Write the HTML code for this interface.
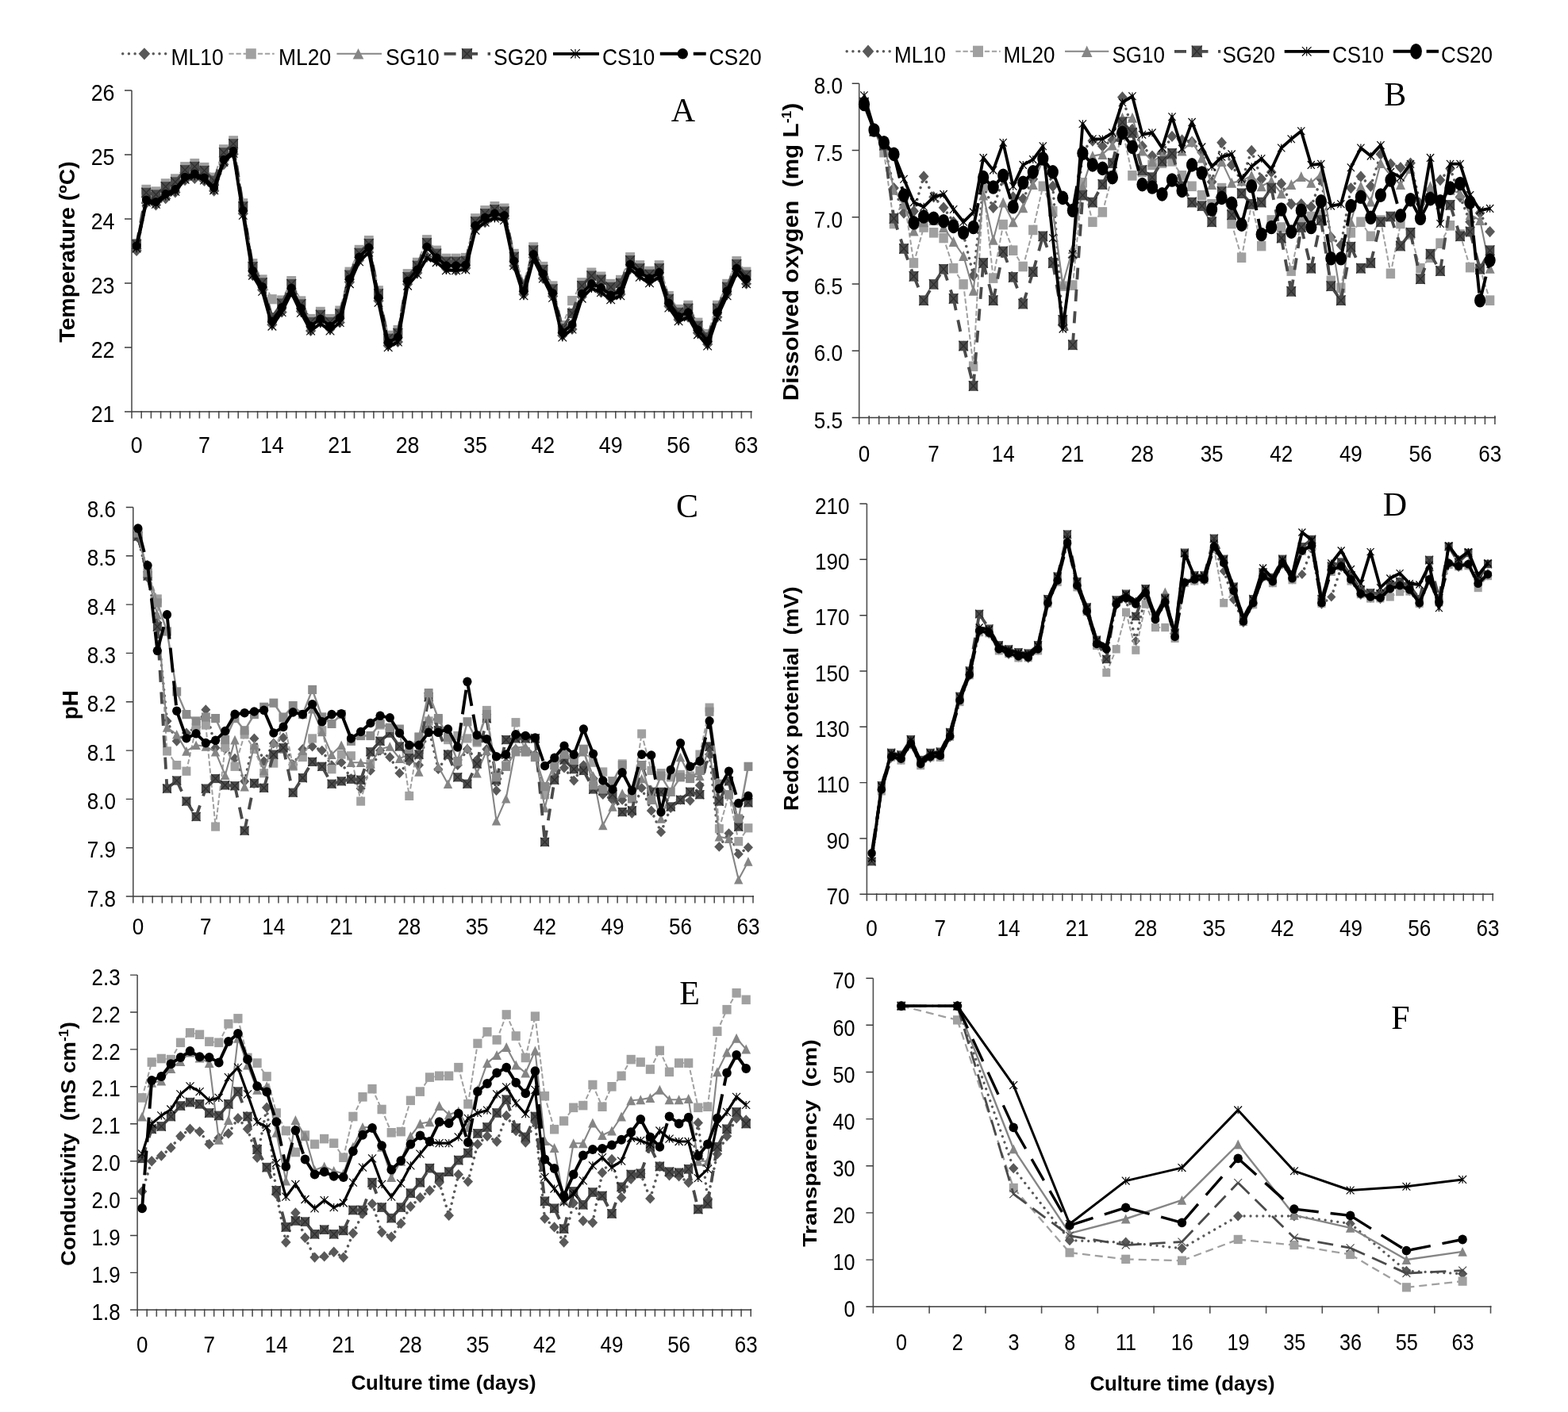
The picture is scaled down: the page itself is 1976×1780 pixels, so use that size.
<!DOCTYPE html>
<html lang="en"><head><meta charset="utf-8"><title>Water quality parameters during culture</title>
<style>
html,body{margin:0;padding:0;background:#fff;}
body{width:1976px;height:1780px;overflow:hidden;}
svg{display:block;font-family:"Liberation Sans",sans-serif;}
#fig{width:1976px;height:1780px;}
</style></head><body>
<div id="fig">
<svg width="1976" height="1780" viewBox="0 0 1976 1780">
<rect width="1976" height="1780" fill="#fff"/>
<g><path d="M154.7 67.8H210" stroke="#595959" stroke-width="3.5" stroke-dasharray="0.01 7.7" stroke-linecap="round"/><path d="M181.9 60.2L189.2 67.8L181.9 75.4L174.6 67.8Z" fill="#595959"/><text transform="translate(215.5 82) scale(0.9 1)" font-size="29.4" text-anchor="start">ML10</text><path d="M288.4 67.8H345.7" stroke="#a0a0a0" stroke-width="2.0" stroke-dasharray="6.3 2.8" stroke-linecap="butt"/><rect x="309.8" y="61.2" width="13" height="13.2" fill="#a0a0a0"/><text transform="translate(351 82) scale(0.9 1)" font-size="29.4" text-anchor="start">ML20</text><path d="M424.4 67.8H481" stroke="#858585" stroke-width="2.1" stroke-linecap="butt"/><path d="M451.5 61L458.3 74.6L444.7 74.6Z" fill="#858585"/><text transform="translate(486 82) scale(0.9 1)" font-size="29.4" text-anchor="start">SG10</text><path d="M559.6 67.8H618" stroke="#4a4a4a" stroke-width="3.8" stroke-dasharray="15 12.5" stroke-linecap="butt"/><rect x="582" y="61.2" width="13" height="13.2" fill="#4a4a4a"/><path d="M582 61.2L595 74.4M595 61.2L582 74.4" stroke="#2e2e2e" stroke-width="1.3" fill="none"/><text transform="translate(622 82) scale(0.9 1)" font-size="29.4" text-anchor="start">SG20</text><path d="M697 67.8H755" stroke="#000000" stroke-width="3.8" stroke-linecap="butt"/><path d="M719.2 62.1L730.8 73.5M730.8 62.1L719.2 73.5M725 62.1L725 73.5" stroke="#000000" stroke-width="1.15" fill="none"/><text transform="translate(759 82) scale(0.9 1)" font-size="29.4" text-anchor="start">CS10</text><path d="M831.8 67.8H889.7" stroke="#000000" stroke-width="3.9" stroke-dasharray="31 11" stroke-linecap="butt"/><ellipse cx="860.3" cy="67.8" rx="6.7" ry="6.8" fill="#000000"/><text transform="translate(893.5 82) scale(0.9 1)" font-size="29.4" text-anchor="start">CS20</text></g>
<g><path d="M1067.2 64.8H1122.4" stroke="#595959" stroke-width="3.5" stroke-dasharray="0.01 7.7" stroke-linecap="round"/><path d="M1094 56.6L1101.3 64.8L1094 73L1086.7 64.8Z" fill="#595959"/><text transform="translate(1127 79) scale(0.872 1)" font-size="29.8" text-anchor="start">ML10</text><path d="M1204.4 64.8H1260.7" stroke="#a0a0a0" stroke-width="2.0" stroke-dasharray="6.3 2.8" stroke-linecap="butt"/><rect x="1226" y="57.7" width="13" height="14.2" fill="#a0a0a0"/><text transform="translate(1264.5 79) scale(0.872 1)" font-size="29.8" text-anchor="start">ML20</text><path d="M1342 64.8H1397.3" stroke="#858585" stroke-width="2.1" stroke-linecap="butt"/><path d="M1369.7 57.5L1376.5 72.1L1362.9 72.1Z" fill="#858585"/><text transform="translate(1401.5 79) scale(0.872 1)" font-size="29.8" text-anchor="start">SG10</text><path d="M1480 64.8H1538.2" stroke="#4a4a4a" stroke-width="3.8" stroke-dasharray="15 12.5" stroke-linecap="butt"/><rect x="1501.8" y="57.6" width="13" height="14.5" fill="#4a4a4a"/><path d="M1501.8 57.6L1514.8 72M1514.8 57.6L1501.8 72" stroke="#2e2e2e" stroke-width="1.3" fill="none"/><text transform="translate(1540.5 79) scale(0.872 1)" font-size="29.8" text-anchor="start">SG20</text><path d="M1618.7 64.8H1675.2" stroke="#000000" stroke-width="3.8" stroke-linecap="butt"/><path d="M1640.9 59.1L1652.5 70.5M1652.5 59.1L1640.9 70.5M1646.7 59.1L1646.7 70.5" stroke="#000000" stroke-width="1.15" fill="none"/><text transform="translate(1679 79) scale(0.872 1)" font-size="29.8" text-anchor="start">CS10</text><path d="M1755.6 64.8H1813" stroke="#000000" stroke-width="3.9" stroke-dasharray="31 11" stroke-linecap="butt"/><ellipse cx="1784.5" cy="64.8" rx="7.4" ry="9.9" fill="#000000"/><text transform="translate(1816 79) scale(0.872 1)" font-size="29.8" text-anchor="start">CS20</text></g>
<g id="chartA"><path d="M166 114V519M166 518V527.5M178.2 518V527.5M190.4 518V527.5M202.6 518V527.5M214.8 518V527.5M227 518V527.5M239.2 518V527.5M251.4 518V527.5M263.6 518V527.5M275.8 518V527.5M288 518V527.5M300.2 518V527.5M312.4 518V527.5M324.6 518V527.5M336.8 518V527.5M349 518V527.5M361.1 518V527.5M373.3 518V527.5M385.5 518V527.5M397.7 518V527.5M409.9 518V527.5M422.1 518V527.5M434.3 518V527.5M446.5 518V527.5M458.7 518V527.5M470.9 518V527.5M483.1 518V527.5M495.3 518V527.5M507.5 518V527.5M519.7 518V527.5M531.9 518V527.5M544.1 518V527.5M556.3 518V527.5M568.5 518V527.5M580.7 518V527.5M592.9 518V527.5M605.1 518V527.5M617.3 518V527.5M629.5 518V527.5M641.7 518V527.5M653.9 518V527.5M666.1 518V527.5M678.3 518V527.5M690.5 518V527.5M702.7 518V527.5M714.9 518V527.5M727.1 518V527.5M739.3 518V527.5M751.5 518V527.5M763.6 518V527.5M775.8 518V527.5M788 518V527.5M800.2 518V527.5M812.4 518V527.5M824.6 518V527.5M836.8 518V527.5M849 518V527.5M861.2 518V527.5M873.4 518V527.5M885.6 518V527.5M897.8 518V527.5M910 518V527.5M922.2 518V527.5M934.4 518V527.5M946.6 518V527.5" stroke="#505050" stroke-width="1.6" fill="none"/><path d="M165 519H947.6M157 114H166M157 195H166M157 276H166M157 357H166M157 438H166M157 519H166" stroke="#3c3c3c" stroke-width="1.4" fill="none"/><g fill="#000"><text transform="translate(144.5 126.6) scale(0.893 1)" font-size="30" text-anchor="end">26</text><text transform="translate(144.5 207.6) scale(0.893 1)" font-size="30" text-anchor="end">25</text><text transform="translate(144.5 288.6) scale(0.893 1)" font-size="30" text-anchor="end">24</text><text transform="translate(144.5 369.6) scale(0.893 1)" font-size="30" text-anchor="end">23</text><text transform="translate(144.5 450.6) scale(0.893 1)" font-size="30" text-anchor="end">22</text><text transform="translate(144.5 531.6) scale(0.893 1)" font-size="30" text-anchor="end">21</text><text transform="translate(172.1 571) scale(0.893 1)" font-size="30" text-anchor="middle">0</text><text transform="translate(257.48 571) scale(0.893 1)" font-size="30" text-anchor="middle">7</text><text transform="translate(342.85 571) scale(0.893 1)" font-size="30" text-anchor="middle">14</text><text transform="translate(428.23 571) scale(0.893 1)" font-size="30" text-anchor="middle">21</text><text transform="translate(513.61 571) scale(0.893 1)" font-size="30" text-anchor="middle">28</text><text transform="translate(598.99 571) scale(0.893 1)" font-size="30" text-anchor="middle">35</text><text transform="translate(684.37 571) scale(0.893 1)" font-size="30" text-anchor="middle">42</text><text transform="translate(769.75 571) scale(0.893 1)" font-size="30" text-anchor="middle">49</text><text transform="translate(855.12 571) scale(0.893 1)" font-size="30" text-anchor="middle">56</text><text transform="translate(940.5 571) scale(0.893 1)" font-size="30" text-anchor="middle">63</text></g><text transform="translate(93.7 317.5) rotate(-90) scale(1.057 1)" font-size="27" text-anchor="middle" font-weight="bold" xml:space="preserve">Temperature (ºC)</text><text transform="translate(861 153.2)" font-size="42" text-anchor="middle" font-family="'Liberation Serif', serif">A</text><g><path d="M172.1 316L184.3 255.9M184.3 255.9L196.5 258.4M196.5 258.4L208.7 250.3M208.7 250.3L220.9 242.4M220.9 242.4L233.1 227.2M233.1 227.2L245.3 225M245.3 225L257.5 228M257.5 228L269.7 240.7M269.7 240.7L281.9 207.3M281.9 207.3L294.1 194.3M294.1 194.3L306.3 269.3M306.3 269.3L318.5 347.2M318.5 347.2L330.7 365.4M330.7 365.4L342.9 409.2M342.9 409.2L355.1 393.5M355.1 393.5L367.2 367.1M367.2 367.1L379.4 392.4M379.4 392.4L391.6 417M391.6 417L403.8 405.9M403.8 405.9L416 415M416 415L428.2 406.6M428.2 406.6L440.4 355.7M440.4 355.7L452.6 327.9M452.6 327.9L464.8 318.1M464.8 318.1L477 379.3M477 379.3L489.2 435.8M489.2 435.8L501.4 431M501.4 431L513.6 358.2M513.6 358.2L525.8 343.9M525.8 343.9L538 323.2M538 323.2L550.2 328.7M550.2 328.7L562.4 338.8M562.4 338.8L574.6 340.8M574.6 340.8L586.8 338M586.8 338L599 288.3M599 288.3L611.2 280.2M611.2 280.2L623.4 273.1M623.4 273.1L635.6 275.6M635.6 275.6L647.8 334.9M647.8 334.9L660 370.9M660 370.9L672.2 324.5M672.2 324.5L684.4 351M684.4 351L696.6 373.4M696.6 373.4L708.8 423.1M708.8 423.1L721 415M721 415L733.2 374.2M733.2 374.2L745.4 361.6M745.4 361.6L757.5 368.6M757.5 368.6L769.7 375.9M769.7 375.9L781.9 370.9M781.9 370.9L794.1 339.2M794.1 339.2L806.3 347.3M806.3 347.3L818.5 354.8M818.5 354.8L830.7 349.3M830.7 349.3L842.9 386M842.9 386L855.1 402.9M855.1 402.9L867.3 399.8M867.3 399.8L879.5 419.7M879.5 419.7L891.7 434.1M891.7 434.1L903.9 399.8M903.9 399.8L916.1 370.9M916.1 370.9L928.3 342.2M928.3 342.2L940.5 357.7" fill="none" stroke="#595959" stroke-width="3.5" stroke-dasharray="0.01 7.7" stroke-linejoin="round" stroke-linecap="round"/><path d="M172.1 309L178.7 316L172.1 323L165.5 316Z" fill="#595959"/><path d="M184.3 248.9L190.9 255.9L184.3 262.9L177.7 255.9Z" fill="#595959"/><path d="M196.5 251.4L203.1 258.4L196.5 265.4L189.9 258.4Z" fill="#595959"/><path d="M208.7 243.3L215.3 250.3L208.7 257.3L202.1 250.3Z" fill="#595959"/><path d="M220.9 235.4L227.5 242.4L220.9 249.4L214.3 242.4Z" fill="#595959"/><path d="M233.1 220.2L239.7 227.2L233.1 234.2L226.5 227.2Z" fill="#595959"/><path d="M245.3 218L251.9 225L245.3 232L238.7 225Z" fill="#595959"/><path d="M257.5 221L264.1 228L257.5 235L250.9 228Z" fill="#595959"/><path d="M269.7 233.7L276.3 240.7L269.7 247.7L263.1 240.7Z" fill="#595959"/><path d="M281.9 200.3L288.5 207.3L281.9 214.3L275.3 207.3Z" fill="#595959"/><path d="M294.1 187.3L300.7 194.3L294.1 201.3L287.5 194.3Z" fill="#595959"/><path d="M306.3 262.3L312.9 269.3L306.3 276.3L299.7 269.3Z" fill="#595959"/><path d="M318.5 340.2L325.1 347.2L318.5 354.2L311.9 347.2Z" fill="#595959"/><path d="M330.7 358.4L337.3 365.4L330.7 372.4L324.1 365.4Z" fill="#595959"/><path d="M342.9 402.2L349.5 409.2L342.9 416.2L336.3 409.2Z" fill="#595959"/><path d="M355.1 386.5L361.7 393.5L355.1 400.5L348.5 393.5Z" fill="#595959"/><path d="M367.2 360.1L373.8 367.1L367.2 374.1L360.6 367.1Z" fill="#595959"/><path d="M379.4 385.4L386 392.4L379.4 399.4L372.8 392.4Z" fill="#595959"/><path d="M391.6 410L398.2 417L391.6 424L385 417Z" fill="#595959"/><path d="M403.8 398.9L410.4 405.9L403.8 412.9L397.2 405.9Z" fill="#595959"/><path d="M416 408L422.6 415L416 422L409.4 415Z" fill="#595959"/><path d="M428.2 399.6L434.8 406.6L428.2 413.6L421.6 406.6Z" fill="#595959"/><path d="M440.4 348.7L447 355.7L440.4 362.7L433.8 355.7Z" fill="#595959"/><path d="M452.6 320.9L459.2 327.9L452.6 334.9L446 327.9Z" fill="#595959"/><path d="M464.8 311.1L471.4 318.1L464.8 325.1L458.2 318.1Z" fill="#595959"/><path d="M477 372.3L483.6 379.3L477 386.3L470.4 379.3Z" fill="#595959"/><path d="M489.2 428.8L495.8 435.8L489.2 442.8L482.6 435.8Z" fill="#595959"/><path d="M501.4 424L508 431L501.4 438L494.8 431Z" fill="#595959"/><path d="M513.6 351.2L520.2 358.2L513.6 365.2L507 358.2Z" fill="#595959"/><path d="M525.8 336.9L532.4 343.9L525.8 350.9L519.2 343.9Z" fill="#595959"/><path d="M538 316.2L544.6 323.2L538 330.2L531.4 323.2Z" fill="#595959"/><path d="M550.2 321.7L556.8 328.7L550.2 335.7L543.6 328.7Z" fill="#595959"/><path d="M562.4 331.8L569 338.8L562.4 345.8L555.8 338.8Z" fill="#595959"/><path d="M574.6 333.8L581.2 340.8L574.6 347.8L568 340.8Z" fill="#595959"/><path d="M586.8 331L593.4 338L586.8 345L580.2 338Z" fill="#595959"/><path d="M599 281.3L605.6 288.3L599 295.3L592.4 288.3Z" fill="#595959"/><path d="M611.2 273.2L617.8 280.2L611.2 287.2L604.6 280.2Z" fill="#595959"/><path d="M623.4 266.1L630 273.1L623.4 280.1L616.8 273.1Z" fill="#595959"/><path d="M635.6 268.6L642.2 275.6L635.6 282.6L629 275.6Z" fill="#595959"/><path d="M647.8 327.9L654.4 334.9L647.8 341.9L641.2 334.9Z" fill="#595959"/><path d="M660 363.9L666.6 370.9L660 377.9L653.4 370.9Z" fill="#595959"/><path d="M672.2 317.5L678.8 324.5L672.2 331.5L665.6 324.5Z" fill="#595959"/><path d="M684.4 344L691 351L684.4 358L677.8 351Z" fill="#595959"/><path d="M696.6 366.4L703.2 373.4L696.6 380.4L690 373.4Z" fill="#595959"/><path d="M708.8 416.1L715.4 423.1L708.8 430.1L702.2 423.1Z" fill="#595959"/><path d="M721 408L727.6 415L721 422L714.4 415Z" fill="#595959"/><path d="M733.2 367.2L739.8 374.2L733.2 381.2L726.6 374.2Z" fill="#595959"/><path d="M745.4 354.6L752 361.6L745.4 368.6L738.8 361.6Z" fill="#595959"/><path d="M757.5 361.6L764.1 368.6L757.5 375.6L750.9 368.6Z" fill="#595959"/><path d="M769.7 368.9L776.3 375.9L769.7 382.9L763.1 375.9Z" fill="#595959"/><path d="M781.9 363.9L788.5 370.9L781.9 377.9L775.3 370.9Z" fill="#595959"/><path d="M794.1 332.2L800.7 339.2L794.1 346.2L787.5 339.2Z" fill="#595959"/><path d="M806.3 340.3L812.9 347.3L806.3 354.3L799.7 347.3Z" fill="#595959"/><path d="M818.5 347.8L825.1 354.8L818.5 361.8L811.9 354.8Z" fill="#595959"/><path d="M830.7 342.3L837.3 349.3L830.7 356.3L824.1 349.3Z" fill="#595959"/><path d="M842.9 379L849.5 386L842.9 393L836.3 386Z" fill="#595959"/><path d="M855.1 395.9L861.7 402.9L855.1 409.9L848.5 402.9Z" fill="#595959"/><path d="M867.3 392.8L873.9 399.8L867.3 406.8L860.7 399.8Z" fill="#595959"/><path d="M879.5 412.7L886.1 419.7L879.5 426.7L872.9 419.7Z" fill="#595959"/><path d="M891.7 427.1L898.3 434.1L891.7 441.1L885.1 434.1Z" fill="#595959"/><path d="M903.9 392.8L910.5 399.8L903.9 406.8L897.3 399.8Z" fill="#595959"/><path d="M916.1 363.9L922.7 370.9L916.1 377.9L909.5 370.9Z" fill="#595959"/><path d="M928.3 335.2L934.9 342.2L928.3 349.2L921.7 342.2Z" fill="#595959"/><path d="M940.5 350.7L947.1 357.7L940.5 364.7L933.9 357.7Z" fill="#595959"/></g><g><path d="M172.1 307L184.3 238.9M184.3 238.9L196.5 241.4M196.5 241.4L208.7 231.3M208.7 231.3L220.9 225.4M220.9 225.4L233.1 210.2M233.1 210.2L245.3 206M245.3 206L257.5 211M257.5 211L269.7 223.7M269.7 223.7L281.9 188.3M281.9 188.3L294.1 177.3M294.1 177.3L306.3 256.3M306.3 256.3L318.5 332.2M318.5 332.2L330.7 352.4M330.7 352.4L342.9 377.2M342.9 377.2L355.1 378.5M355.1 378.5L367.2 354.1M367.2 354.1L379.4 379.4M379.4 379.4L391.6 402M391.6 402L403.8 392.9M403.8 392.9L416 402M416 402L428.2 391.6M428.2 391.6L440.4 342.7M440.4 342.7L452.6 314.9M452.6 314.9L464.8 303.1M464.8 303.1L477 366.3M477 366.3L489.2 422.8M489.2 422.8L501.4 416M501.4 416L513.6 345.2M513.6 345.2L525.8 330.9M525.8 330.9L538 302.2M538 302.2L550.2 315.7M550.2 315.7L562.4 325.8M562.4 325.8L574.6 325.8M574.6 325.8L586.8 325M586.8 325L599 275.3M599 275.3L611.2 265.2M611.2 265.2L623.4 260.1M623.4 260.1L635.6 262.6M635.6 262.6L647.8 319.9M647.8 319.9L660 357.9M660 357.9L672.2 311.5M672.2 311.5L684.4 336M684.4 336L696.6 360.4M696.6 360.4L708.8 410.1M708.8 410.1L721 379M721 379L733.2 356.2M733.2 356.2L745.4 343.6M745.4 343.6L757.5 348.6M757.5 348.6L769.7 357.9M769.7 357.9L781.9 352.9M781.9 352.9L794.1 324.2M794.1 324.2L806.3 334.3M806.3 334.3L818.5 341.8M818.5 341.8L830.7 334.3M830.7 334.3L842.9 373M842.9 373L855.1 389.9M855.1 389.9L867.3 384.8M867.3 384.8L879.5 406.7M879.5 406.7L891.7 421.1M891.7 421.1L903.9 384.8M903.9 384.8L916.1 357.9M916.1 357.9L928.3 329.2M928.3 329.2L940.5 342.7" fill="none" stroke="#a0a0a0" stroke-width="2" stroke-dasharray="6.3 2.8" stroke-linejoin="round" stroke-linecap="butt"/><rect x="166.2" y="300.9" width="11.8" height="12.2" fill="#a0a0a0"/><rect x="178.4" y="232.8" width="11.8" height="12.2" fill="#a0a0a0"/><rect x="190.6" y="235.3" width="11.8" height="12.2" fill="#a0a0a0"/><rect x="202.8" y="225.2" width="11.8" height="12.2" fill="#a0a0a0"/><rect x="215" y="219.3" width="11.8" height="12.2" fill="#a0a0a0"/><rect x="227.2" y="204.1" width="11.8" height="12.2" fill="#a0a0a0"/><rect x="239.4" y="199.9" width="11.8" height="12.2" fill="#a0a0a0"/><rect x="251.6" y="204.9" width="11.8" height="12.2" fill="#a0a0a0"/><rect x="263.8" y="217.6" width="11.8" height="12.2" fill="#a0a0a0"/><rect x="276" y="182.2" width="11.8" height="12.2" fill="#a0a0a0"/><rect x="288.2" y="171.2" width="11.8" height="12.2" fill="#a0a0a0"/><rect x="300.4" y="250.2" width="11.8" height="12.2" fill="#a0a0a0"/><rect x="312.6" y="326.1" width="11.8" height="12.2" fill="#a0a0a0"/><rect x="324.8" y="346.3" width="11.8" height="12.2" fill="#a0a0a0"/><rect x="337" y="371.1" width="11.8" height="12.2" fill="#a0a0a0"/><rect x="349.2" y="372.4" width="11.8" height="12.2" fill="#a0a0a0"/><rect x="361.3" y="348" width="11.8" height="12.2" fill="#a0a0a0"/><rect x="373.5" y="373.3" width="11.8" height="12.2" fill="#a0a0a0"/><rect x="385.7" y="395.9" width="11.8" height="12.2" fill="#a0a0a0"/><rect x="397.9" y="386.8" width="11.8" height="12.2" fill="#a0a0a0"/><rect x="410.1" y="395.9" width="11.8" height="12.2" fill="#a0a0a0"/><rect x="422.3" y="385.5" width="11.8" height="12.2" fill="#a0a0a0"/><rect x="434.5" y="336.6" width="11.8" height="12.2" fill="#a0a0a0"/><rect x="446.7" y="308.8" width="11.8" height="12.2" fill="#a0a0a0"/><rect x="458.9" y="297" width="11.8" height="12.2" fill="#a0a0a0"/><rect x="471.1" y="360.2" width="11.8" height="12.2" fill="#a0a0a0"/><rect x="483.3" y="416.7" width="11.8" height="12.2" fill="#a0a0a0"/><rect x="495.5" y="409.9" width="11.8" height="12.2" fill="#a0a0a0"/><rect x="507.7" y="339.1" width="11.8" height="12.2" fill="#a0a0a0"/><rect x="519.9" y="324.8" width="11.8" height="12.2" fill="#a0a0a0"/><rect x="532.1" y="296.1" width="11.8" height="12.2" fill="#a0a0a0"/><rect x="544.3" y="309.6" width="11.8" height="12.2" fill="#a0a0a0"/><rect x="556.5" y="319.7" width="11.8" height="12.2" fill="#a0a0a0"/><rect x="568.7" y="319.7" width="11.8" height="12.2" fill="#a0a0a0"/><rect x="580.9" y="318.9" width="11.8" height="12.2" fill="#a0a0a0"/><rect x="593.1" y="269.2" width="11.8" height="12.2" fill="#a0a0a0"/><rect x="605.3" y="259.1" width="11.8" height="12.2" fill="#a0a0a0"/><rect x="617.5" y="254" width="11.8" height="12.2" fill="#a0a0a0"/><rect x="629.7" y="256.5" width="11.8" height="12.2" fill="#a0a0a0"/><rect x="641.9" y="313.8" width="11.8" height="12.2" fill="#a0a0a0"/><rect x="654.1" y="351.8" width="11.8" height="12.2" fill="#a0a0a0"/><rect x="666.3" y="305.4" width="11.8" height="12.2" fill="#a0a0a0"/><rect x="678.5" y="329.9" width="11.8" height="12.2" fill="#a0a0a0"/><rect x="690.7" y="354.3" width="11.8" height="12.2" fill="#a0a0a0"/><rect x="702.9" y="404" width="11.8" height="12.2" fill="#a0a0a0"/><rect x="715.1" y="372.9" width="11.8" height="12.2" fill="#a0a0a0"/><rect x="727.3" y="350.1" width="11.8" height="12.2" fill="#a0a0a0"/><rect x="739.5" y="337.5" width="11.8" height="12.2" fill="#a0a0a0"/><rect x="751.6" y="342.5" width="11.8" height="12.2" fill="#a0a0a0"/><rect x="763.8" y="351.8" width="11.8" height="12.2" fill="#a0a0a0"/><rect x="776" y="346.8" width="11.8" height="12.2" fill="#a0a0a0"/><rect x="788.2" y="318.1" width="11.8" height="12.2" fill="#a0a0a0"/><rect x="800.4" y="328.2" width="11.8" height="12.2" fill="#a0a0a0"/><rect x="812.6" y="335.7" width="11.8" height="12.2" fill="#a0a0a0"/><rect x="824.8" y="328.2" width="11.8" height="12.2" fill="#a0a0a0"/><rect x="837" y="366.9" width="11.8" height="12.2" fill="#a0a0a0"/><rect x="849.2" y="383.8" width="11.8" height="12.2" fill="#a0a0a0"/><rect x="861.4" y="378.7" width="11.8" height="12.2" fill="#a0a0a0"/><rect x="873.6" y="400.6" width="11.8" height="12.2" fill="#a0a0a0"/><rect x="885.8" y="415" width="11.8" height="12.2" fill="#a0a0a0"/><rect x="898" y="378.7" width="11.8" height="12.2" fill="#a0a0a0"/><rect x="910.2" y="351.8" width="11.8" height="12.2" fill="#a0a0a0"/><rect x="922.4" y="323.1" width="11.8" height="12.2" fill="#a0a0a0"/><rect x="934.6" y="336.6" width="11.8" height="12.2" fill="#a0a0a0"/></g><g><path d="M172.1 307L184.3 248.9L196.5 251.4L208.7 241.3L220.9 235.4L233.1 220.2L245.3 216L257.5 221L269.7 233.7L281.9 198.3L294.1 187.3L306.3 262.3L318.5 338.2L330.7 358.4L342.9 402.2L355.1 384.5L367.2 360.1L379.4 385.4L391.6 408L403.8 398.9L416 408L428.2 397.6L440.4 348.7L452.6 320.9L464.8 309.1L477 372.3L489.2 428.8L501.4 422L513.6 351.2L525.8 336.9L538 308.2L550.2 321.7L562.4 331.8L574.6 331.8L586.8 331L599 281.3L611.2 271.2L623.4 266.1L635.6 268.6L647.8 325.9L660 363.9L672.2 317.5L684.4 342L696.6 366.4L708.8 416.1L721 406L733.2 367.2L745.4 354.6L757.5 359.6L769.7 368.9L781.9 363.9L794.1 330.2L806.3 340.3L818.5 347.8L830.7 340.3L842.9 379L855.1 395.9L867.3 390.8L879.5 412.7L891.7 427.1L903.9 390.8L916.1 363.9L928.3 335.2L940.5 348.7" fill="none" stroke="#858585" stroke-width="2.1" stroke-linejoin="round" stroke-linecap="butt"/><path d="M172.1 300.7L178.3 313.3L165.9 313.3Z" fill="#858585"/><path d="M184.3 242.6L190.5 255.2L178.1 255.2Z" fill="#858585"/><path d="M196.5 245.1L202.7 257.7L190.3 257.7Z" fill="#858585"/><path d="M208.7 235L214.9 247.6L202.5 247.6Z" fill="#858585"/><path d="M220.9 229.1L227.1 241.7L214.7 241.7Z" fill="#858585"/><path d="M233.1 213.9L239.3 226.5L226.9 226.5Z" fill="#858585"/><path d="M245.3 209.7L251.5 222.3L239.1 222.3Z" fill="#858585"/><path d="M257.5 214.7L263.7 227.3L251.3 227.3Z" fill="#858585"/><path d="M269.7 227.4L275.9 240L263.5 240Z" fill="#858585"/><path d="M281.9 192L288.1 204.6L275.7 204.6Z" fill="#858585"/><path d="M294.1 181L300.3 193.6L287.9 193.6Z" fill="#858585"/><path d="M306.3 256L312.5 268.6L300.1 268.6Z" fill="#858585"/><path d="M318.5 331.9L324.7 344.5L312.3 344.5Z" fill="#858585"/><path d="M330.7 352.1L336.9 364.7L324.5 364.7Z" fill="#858585"/><path d="M342.9 395.9L349.1 408.5L336.7 408.5Z" fill="#858585"/><path d="M355.1 378.2L361.3 390.8L348.9 390.8Z" fill="#858585"/><path d="M367.2 353.8L373.4 366.4L361 366.4Z" fill="#858585"/><path d="M379.4 379.1L385.6 391.7L373.2 391.7Z" fill="#858585"/><path d="M391.6 401.7L397.8 414.3L385.4 414.3Z" fill="#858585"/><path d="M403.8 392.6L410 405.2L397.6 405.2Z" fill="#858585"/><path d="M416 401.7L422.2 414.3L409.8 414.3Z" fill="#858585"/><path d="M428.2 391.3L434.4 403.9L422 403.9Z" fill="#858585"/><path d="M440.4 342.4L446.6 355L434.2 355Z" fill="#858585"/><path d="M452.6 314.6L458.8 327.2L446.4 327.2Z" fill="#858585"/><path d="M464.8 302.8L471 315.4L458.6 315.4Z" fill="#858585"/><path d="M477 366L483.2 378.6L470.8 378.6Z" fill="#858585"/><path d="M489.2 422.5L495.4 435.1L483 435.1Z" fill="#858585"/><path d="M501.4 415.7L507.6 428.3L495.2 428.3Z" fill="#858585"/><path d="M513.6 344.9L519.8 357.5L507.4 357.5Z" fill="#858585"/><path d="M525.8 330.6L532 343.2L519.6 343.2Z" fill="#858585"/><path d="M538 301.9L544.2 314.5L531.8 314.5Z" fill="#858585"/><path d="M550.2 315.4L556.4 328L544 328Z" fill="#858585"/><path d="M562.4 325.5L568.6 338.1L556.2 338.1Z" fill="#858585"/><path d="M574.6 325.5L580.8 338.1L568.4 338.1Z" fill="#858585"/><path d="M586.8 324.7L593 337.3L580.6 337.3Z" fill="#858585"/><path d="M599 275L605.2 287.6L592.8 287.6Z" fill="#858585"/><path d="M611.2 264.9L617.4 277.5L605 277.5Z" fill="#858585"/><path d="M623.4 259.8L629.6 272.4L617.2 272.4Z" fill="#858585"/><path d="M635.6 262.3L641.8 274.9L629.4 274.9Z" fill="#858585"/><path d="M647.8 319.6L654 332.2L641.6 332.2Z" fill="#858585"/><path d="M660 357.6L666.2 370.2L653.8 370.2Z" fill="#858585"/><path d="M672.2 311.2L678.4 323.8L666 323.8Z" fill="#858585"/><path d="M684.4 335.7L690.6 348.3L678.2 348.3Z" fill="#858585"/><path d="M696.6 360.1L702.8 372.7L690.4 372.7Z" fill="#858585"/><path d="M708.8 409.8L715 422.4L702.6 422.4Z" fill="#858585"/><path d="M721 399.7L727.2 412.3L714.8 412.3Z" fill="#858585"/><path d="M733.2 360.9L739.4 373.5L727 373.5Z" fill="#858585"/><path d="M745.4 348.3L751.6 360.9L739.2 360.9Z" fill="#858585"/><path d="M757.5 353.3L763.7 365.9L751.3 365.9Z" fill="#858585"/><path d="M769.7 362.6L775.9 375.2L763.5 375.2Z" fill="#858585"/><path d="M781.9 357.6L788.1 370.2L775.7 370.2Z" fill="#858585"/><path d="M794.1 323.9L800.3 336.5L787.9 336.5Z" fill="#858585"/><path d="M806.3 334L812.5 346.6L800.1 346.6Z" fill="#858585"/><path d="M818.5 341.5L824.7 354.1L812.3 354.1Z" fill="#858585"/><path d="M830.7 334L836.9 346.6L824.5 346.6Z" fill="#858585"/><path d="M842.9 372.7L849.1 385.3L836.7 385.3Z" fill="#858585"/><path d="M855.1 389.6L861.3 402.2L848.9 402.2Z" fill="#858585"/><path d="M867.3 384.5L873.5 397.1L861.1 397.1Z" fill="#858585"/><path d="M879.5 406.4L885.7 419L873.3 419Z" fill="#858585"/><path d="M891.7 420.8L897.9 433.4L885.5 433.4Z" fill="#858585"/><path d="M903.9 384.5L910.1 397.1L897.7 397.1Z" fill="#858585"/><path d="M916.1 357.6L922.3 370.2L909.9 370.2Z" fill="#858585"/><path d="M928.3 328.9L934.5 341.5L922.1 341.5Z" fill="#858585"/><path d="M940.5 342.4L946.7 355L934.3 355Z" fill="#858585"/></g><g><path d="M172.1 308L184.3 242.9M184.3 242.9L196.5 245.4M196.5 245.4L208.7 235.3M208.7 235.3L220.9 229.4M220.9 229.4L233.1 214.2M233.1 214.2L245.3 210M245.3 210L257.5 215M257.5 215L269.7 227.7M269.7 227.7L281.9 192.3M281.9 192.3L294.1 181.3M294.1 181.3L306.3 260.3M306.3 260.3L318.5 336.2M318.5 336.2L330.7 356.4M330.7 356.4L342.9 400.2M342.9 400.2L355.1 382.5M355.1 382.5L367.2 358.1M367.2 358.1L379.4 383.4M379.4 383.4L391.6 406M391.6 406L403.8 396.9M403.8 396.9L416 406M416 406L428.2 395.6M428.2 395.6L440.4 346.7M440.4 346.7L452.6 318.9M452.6 318.9L464.8 307.1M464.8 307.1L477 370.3M477 370.3L489.2 426.8M489.2 426.8L501.4 420M501.4 420L513.6 349.2M513.6 349.2L525.8 334.9M525.8 334.9L538 306.2M538 306.2L550.2 319.7M550.2 319.7L562.4 329.8M562.4 329.8L574.6 329.8M574.6 329.8L586.8 329M586.8 329L599 279.3M599 279.3L611.2 269.2M611.2 269.2L623.4 264.1M623.4 264.1L635.6 266.6M635.6 266.6L647.8 323.9M647.8 323.9L660 361.9M660 361.9L672.2 315.5M672.2 315.5L684.4 340M684.4 340L696.6 364.4M696.6 364.4L708.8 414.1M708.8 414.1L721 395M721 395L733.2 360.2M733.2 360.2L745.4 347.6M745.4 347.6L757.5 352.6M757.5 352.6L769.7 361.9M769.7 361.9L781.9 356.9M781.9 356.9L794.1 328.2M794.1 328.2L806.3 338.3M806.3 338.3L818.5 345.8M818.5 345.8L830.7 338.3M830.7 338.3L842.9 377M842.9 377L855.1 393.9M855.1 393.9L867.3 388.8M867.3 388.8L879.5 410.7M879.5 410.7L891.7 425.1M891.7 425.1L903.9 388.8M903.9 388.8L916.1 361.9M916.1 361.9L928.3 333.2M928.3 333.2L940.5 346.7" fill="none" stroke="#4a4a4a" stroke-width="3.8" stroke-dasharray="15 12.5" stroke-linejoin="round" stroke-linecap="butt"/><rect x="166.2" y="301.9" width="11.8" height="12.2" fill="#4a4a4a"/><path d="M166.2 301.9L178 314.1M178 301.9L166.2 314.1" stroke="#2e2e2e" stroke-width="1.3" fill="none"/><rect x="178.4" y="236.8" width="11.8" height="12.2" fill="#4a4a4a"/><path d="M178.4 236.8L190.2 249M190.2 236.8L178.4 249" stroke="#2e2e2e" stroke-width="1.3" fill="none"/><rect x="190.6" y="239.3" width="11.8" height="12.2" fill="#4a4a4a"/><path d="M190.6 239.3L202.4 251.5M202.4 239.3L190.6 251.5" stroke="#2e2e2e" stroke-width="1.3" fill="none"/><rect x="202.8" y="229.2" width="11.8" height="12.2" fill="#4a4a4a"/><path d="M202.8 229.2L214.6 241.4M214.6 229.2L202.8 241.4" stroke="#2e2e2e" stroke-width="1.3" fill="none"/><rect x="215" y="223.3" width="11.8" height="12.2" fill="#4a4a4a"/><path d="M215 223.3L226.8 235.5M226.8 223.3L215 235.5" stroke="#2e2e2e" stroke-width="1.3" fill="none"/><rect x="227.2" y="208.1" width="11.8" height="12.2" fill="#4a4a4a"/><path d="M227.2 208.1L239 220.3M239 208.1L227.2 220.3" stroke="#2e2e2e" stroke-width="1.3" fill="none"/><rect x="239.4" y="203.9" width="11.8" height="12.2" fill="#4a4a4a"/><path d="M239.4 203.9L251.2 216.1M251.2 203.9L239.4 216.1" stroke="#2e2e2e" stroke-width="1.3" fill="none"/><rect x="251.6" y="208.9" width="11.8" height="12.2" fill="#4a4a4a"/><path d="M251.6 208.9L263.4 221.1M263.4 208.9L251.6 221.1" stroke="#2e2e2e" stroke-width="1.3" fill="none"/><rect x="263.8" y="221.6" width="11.8" height="12.2" fill="#4a4a4a"/><path d="M263.8 221.6L275.6 233.8M275.6 221.6L263.8 233.8" stroke="#2e2e2e" stroke-width="1.3" fill="none"/><rect x="276" y="186.2" width="11.8" height="12.2" fill="#4a4a4a"/><path d="M276 186.2L287.8 198.4M287.8 186.2L276 198.4" stroke="#2e2e2e" stroke-width="1.3" fill="none"/><rect x="288.2" y="175.2" width="11.8" height="12.2" fill="#4a4a4a"/><path d="M288.2 175.2L300 187.4M300 175.2L288.2 187.4" stroke="#2e2e2e" stroke-width="1.3" fill="none"/><rect x="300.4" y="254.2" width="11.8" height="12.2" fill="#4a4a4a"/><path d="M300.4 254.2L312.2 266.4M312.2 254.2L300.4 266.4" stroke="#2e2e2e" stroke-width="1.3" fill="none"/><rect x="312.6" y="330.1" width="11.8" height="12.2" fill="#4a4a4a"/><path d="M312.6 330.1L324.4 342.3M324.4 330.1L312.6 342.3" stroke="#2e2e2e" stroke-width="1.3" fill="none"/><rect x="324.8" y="350.3" width="11.8" height="12.2" fill="#4a4a4a"/><path d="M324.8 350.3L336.6 362.5M336.6 350.3L324.8 362.5" stroke="#2e2e2e" stroke-width="1.3" fill="none"/><rect x="337" y="394.1" width="11.8" height="12.2" fill="#4a4a4a"/><path d="M337 394.1L348.8 406.3M348.8 394.1L337 406.3" stroke="#2e2e2e" stroke-width="1.3" fill="none"/><rect x="349.2" y="376.4" width="11.8" height="12.2" fill="#4a4a4a"/><path d="M349.2 376.4L361 388.6M361 376.4L349.2 388.6" stroke="#2e2e2e" stroke-width="1.3" fill="none"/><rect x="361.3" y="352" width="11.8" height="12.2" fill="#4a4a4a"/><path d="M361.3 352L373.1 364.2M373.1 352L361.3 364.2" stroke="#2e2e2e" stroke-width="1.3" fill="none"/><rect x="373.5" y="377.3" width="11.8" height="12.2" fill="#4a4a4a"/><path d="M373.5 377.3L385.3 389.5M385.3 377.3L373.5 389.5" stroke="#2e2e2e" stroke-width="1.3" fill="none"/><rect x="385.7" y="399.9" width="11.8" height="12.2" fill="#4a4a4a"/><path d="M385.7 399.9L397.5 412.1M397.5 399.9L385.7 412.1" stroke="#2e2e2e" stroke-width="1.3" fill="none"/><rect x="397.9" y="390.8" width="11.8" height="12.2" fill="#4a4a4a"/><path d="M397.9 390.8L409.7 403M409.7 390.8L397.9 403" stroke="#2e2e2e" stroke-width="1.3" fill="none"/><rect x="410.1" y="399.9" width="11.8" height="12.2" fill="#4a4a4a"/><path d="M410.1 399.9L421.9 412.1M421.9 399.9L410.1 412.1" stroke="#2e2e2e" stroke-width="1.3" fill="none"/><rect x="422.3" y="389.5" width="11.8" height="12.2" fill="#4a4a4a"/><path d="M422.3 389.5L434.1 401.7M434.1 389.5L422.3 401.7" stroke="#2e2e2e" stroke-width="1.3" fill="none"/><rect x="434.5" y="340.6" width="11.8" height="12.2" fill="#4a4a4a"/><path d="M434.5 340.6L446.3 352.8M446.3 340.6L434.5 352.8" stroke="#2e2e2e" stroke-width="1.3" fill="none"/><rect x="446.7" y="312.8" width="11.8" height="12.2" fill="#4a4a4a"/><path d="M446.7 312.8L458.5 325M458.5 312.8L446.7 325" stroke="#2e2e2e" stroke-width="1.3" fill="none"/><rect x="458.9" y="301" width="11.8" height="12.2" fill="#4a4a4a"/><path d="M458.9 301L470.7 313.2M470.7 301L458.9 313.2" stroke="#2e2e2e" stroke-width="1.3" fill="none"/><rect x="471.1" y="364.2" width="11.8" height="12.2" fill="#4a4a4a"/><path d="M471.1 364.2L482.9 376.4M482.9 364.2L471.1 376.4" stroke="#2e2e2e" stroke-width="1.3" fill="none"/><rect x="483.3" y="420.7" width="11.8" height="12.2" fill="#4a4a4a"/><path d="M483.3 420.7L495.1 432.9M495.1 420.7L483.3 432.9" stroke="#2e2e2e" stroke-width="1.3" fill="none"/><rect x="495.5" y="413.9" width="11.8" height="12.2" fill="#4a4a4a"/><path d="M495.5 413.9L507.3 426.1M507.3 413.9L495.5 426.1" stroke="#2e2e2e" stroke-width="1.3" fill="none"/><rect x="507.7" y="343.1" width="11.8" height="12.2" fill="#4a4a4a"/><path d="M507.7 343.1L519.5 355.3M519.5 343.1L507.7 355.3" stroke="#2e2e2e" stroke-width="1.3" fill="none"/><rect x="519.9" y="328.8" width="11.8" height="12.2" fill="#4a4a4a"/><path d="M519.9 328.8L531.7 341M531.7 328.8L519.9 341" stroke="#2e2e2e" stroke-width="1.3" fill="none"/><rect x="532.1" y="300.1" width="11.8" height="12.2" fill="#4a4a4a"/><path d="M532.1 300.1L543.9 312.3M543.9 300.1L532.1 312.3" stroke="#2e2e2e" stroke-width="1.3" fill="none"/><rect x="544.3" y="313.6" width="11.8" height="12.2" fill="#4a4a4a"/><path d="M544.3 313.6L556.1 325.8M556.1 313.6L544.3 325.8" stroke="#2e2e2e" stroke-width="1.3" fill="none"/><rect x="556.5" y="323.7" width="11.8" height="12.2" fill="#4a4a4a"/><path d="M556.5 323.7L568.3 335.9M568.3 323.7L556.5 335.9" stroke="#2e2e2e" stroke-width="1.3" fill="none"/><rect x="568.7" y="323.7" width="11.8" height="12.2" fill="#4a4a4a"/><path d="M568.7 323.7L580.5 335.9M580.5 323.7L568.7 335.9" stroke="#2e2e2e" stroke-width="1.3" fill="none"/><rect x="580.9" y="322.9" width="11.8" height="12.2" fill="#4a4a4a"/><path d="M580.9 322.9L592.7 335.1M592.7 322.9L580.9 335.1" stroke="#2e2e2e" stroke-width="1.3" fill="none"/><rect x="593.1" y="273.2" width="11.8" height="12.2" fill="#4a4a4a"/><path d="M593.1 273.2L604.9 285.4M604.9 273.2L593.1 285.4" stroke="#2e2e2e" stroke-width="1.3" fill="none"/><rect x="605.3" y="263.1" width="11.8" height="12.2" fill="#4a4a4a"/><path d="M605.3 263.1L617.1 275.3M617.1 263.1L605.3 275.3" stroke="#2e2e2e" stroke-width="1.3" fill="none"/><rect x="617.5" y="258" width="11.8" height="12.2" fill="#4a4a4a"/><path d="M617.5 258L629.3 270.2M629.3 258L617.5 270.2" stroke="#2e2e2e" stroke-width="1.3" fill="none"/><rect x="629.7" y="260.5" width="11.8" height="12.2" fill="#4a4a4a"/><path d="M629.7 260.5L641.5 272.7M641.5 260.5L629.7 272.7" stroke="#2e2e2e" stroke-width="1.3" fill="none"/><rect x="641.9" y="317.8" width="11.8" height="12.2" fill="#4a4a4a"/><path d="M641.9 317.8L653.7 330M653.7 317.8L641.9 330" stroke="#2e2e2e" stroke-width="1.3" fill="none"/><rect x="654.1" y="355.8" width="11.8" height="12.2" fill="#4a4a4a"/><path d="M654.1 355.8L665.9 368M665.9 355.8L654.1 368" stroke="#2e2e2e" stroke-width="1.3" fill="none"/><rect x="666.3" y="309.4" width="11.8" height="12.2" fill="#4a4a4a"/><path d="M666.3 309.4L678.1 321.6M678.1 309.4L666.3 321.6" stroke="#2e2e2e" stroke-width="1.3" fill="none"/><rect x="678.5" y="333.9" width="11.8" height="12.2" fill="#4a4a4a"/><path d="M678.5 333.9L690.3 346.1M690.3 333.9L678.5 346.1" stroke="#2e2e2e" stroke-width="1.3" fill="none"/><rect x="690.7" y="358.3" width="11.8" height="12.2" fill="#4a4a4a"/><path d="M690.7 358.3L702.5 370.5M702.5 358.3L690.7 370.5" stroke="#2e2e2e" stroke-width="1.3" fill="none"/><rect x="702.9" y="408" width="11.8" height="12.2" fill="#4a4a4a"/><path d="M702.9 408L714.7 420.2M714.7 408L702.9 420.2" stroke="#2e2e2e" stroke-width="1.3" fill="none"/><rect x="715.1" y="388.9" width="11.8" height="12.2" fill="#4a4a4a"/><path d="M715.1 388.9L726.9 401.1M726.9 388.9L715.1 401.1" stroke="#2e2e2e" stroke-width="1.3" fill="none"/><rect x="727.3" y="354.1" width="11.8" height="12.2" fill="#4a4a4a"/><path d="M727.3 354.1L739.1 366.3M739.1 354.1L727.3 366.3" stroke="#2e2e2e" stroke-width="1.3" fill="none"/><rect x="739.5" y="341.5" width="11.8" height="12.2" fill="#4a4a4a"/><path d="M739.5 341.5L751.3 353.7M751.3 341.5L739.5 353.7" stroke="#2e2e2e" stroke-width="1.3" fill="none"/><rect x="751.6" y="346.5" width="11.8" height="12.2" fill="#4a4a4a"/><path d="M751.6 346.5L763.4 358.7M763.4 346.5L751.6 358.7" stroke="#2e2e2e" stroke-width="1.3" fill="none"/><rect x="763.8" y="355.8" width="11.8" height="12.2" fill="#4a4a4a"/><path d="M763.8 355.8L775.6 368M775.6 355.8L763.8 368" stroke="#2e2e2e" stroke-width="1.3" fill="none"/><rect x="776" y="350.8" width="11.8" height="12.2" fill="#4a4a4a"/><path d="M776 350.8L787.8 363M787.8 350.8L776 363" stroke="#2e2e2e" stroke-width="1.3" fill="none"/><rect x="788.2" y="322.1" width="11.8" height="12.2" fill="#4a4a4a"/><path d="M788.2 322.1L800 334.3M800 322.1L788.2 334.3" stroke="#2e2e2e" stroke-width="1.3" fill="none"/><rect x="800.4" y="332.2" width="11.8" height="12.2" fill="#4a4a4a"/><path d="M800.4 332.2L812.2 344.4M812.2 332.2L800.4 344.4" stroke="#2e2e2e" stroke-width="1.3" fill="none"/><rect x="812.6" y="339.7" width="11.8" height="12.2" fill="#4a4a4a"/><path d="M812.6 339.7L824.4 351.9M824.4 339.7L812.6 351.9" stroke="#2e2e2e" stroke-width="1.3" fill="none"/><rect x="824.8" y="332.2" width="11.8" height="12.2" fill="#4a4a4a"/><path d="M824.8 332.2L836.6 344.4M836.6 332.2L824.8 344.4" stroke="#2e2e2e" stroke-width="1.3" fill="none"/><rect x="837" y="370.9" width="11.8" height="12.2" fill="#4a4a4a"/><path d="M837 370.9L848.8 383.1M848.8 370.9L837 383.1" stroke="#2e2e2e" stroke-width="1.3" fill="none"/><rect x="849.2" y="387.8" width="11.8" height="12.2" fill="#4a4a4a"/><path d="M849.2 387.8L861 400M861 387.8L849.2 400" stroke="#2e2e2e" stroke-width="1.3" fill="none"/><rect x="861.4" y="382.7" width="11.8" height="12.2" fill="#4a4a4a"/><path d="M861.4 382.7L873.2 394.9M873.2 382.7L861.4 394.9" stroke="#2e2e2e" stroke-width="1.3" fill="none"/><rect x="873.6" y="404.6" width="11.8" height="12.2" fill="#4a4a4a"/><path d="M873.6 404.6L885.4 416.8M885.4 404.6L873.6 416.8" stroke="#2e2e2e" stroke-width="1.3" fill="none"/><rect x="885.8" y="419" width="11.8" height="12.2" fill="#4a4a4a"/><path d="M885.8 419L897.6 431.2M897.6 419L885.8 431.2" stroke="#2e2e2e" stroke-width="1.3" fill="none"/><rect x="898" y="382.7" width="11.8" height="12.2" fill="#4a4a4a"/><path d="M898 382.7L909.8 394.9M909.8 382.7L898 394.9" stroke="#2e2e2e" stroke-width="1.3" fill="none"/><rect x="910.2" y="355.8" width="11.8" height="12.2" fill="#4a4a4a"/><path d="M910.2 355.8L922 368M922 355.8L910.2 368" stroke="#2e2e2e" stroke-width="1.3" fill="none"/><rect x="922.4" y="327.1" width="11.8" height="12.2" fill="#4a4a4a"/><path d="M922.4 327.1L934.2 339.3M934.2 327.1L922.4 339.3" stroke="#2e2e2e" stroke-width="1.3" fill="none"/><rect x="934.6" y="340.6" width="11.8" height="12.2" fill="#4a4a4a"/><path d="M934.6 340.6L946.4 352.8M946.4 340.6L934.6 352.8" stroke="#2e2e2e" stroke-width="1.3" fill="none"/></g><g><path d="M172.1 313L184.3 254.9L196.5 257.4L208.7 247.3L220.9 241.4L233.1 226.2L245.3 222L257.5 227L269.7 239.7L281.9 204.3L294.1 193.3L306.3 271.3L318.5 347.2L330.7 367.4L342.9 411.2L355.1 393.5L367.2 369.1L379.4 394.4L391.6 417L403.8 407.9L416 417L428.2 406.6L440.4 357.7L452.6 329.9L464.8 318.1L477 381.3L489.2 437.8L501.4 431L513.6 360.2L525.8 345.9L538 325.2L550.2 330.7L562.4 340.8L574.6 340.8L586.8 340L599 290.3L611.2 280.2L623.4 275.1L635.6 277.6L647.8 334.9L660 372.9L672.2 326.5L684.4 351L696.6 375.4L708.8 425.1L721 415L733.2 376.2L745.4 363.6L757.5 368.6L769.7 377.9L781.9 372.9L794.1 339.2L806.3 349.3L818.5 356.8L830.7 349.3L842.9 388L855.1 404.9L867.3 399.8L879.5 421.7L891.7 436.1L903.9 399.8L916.1 372.9L928.3 344.2L940.5 357.7" fill="none" stroke="#000000" stroke-width="3.8" stroke-linejoin="round" stroke-linecap="butt"/><path d="M166.8 307.7L177.4 318.3M177.4 307.7L166.8 318.3M172.1 307.7L172.1 318.3" stroke="#000000" stroke-width="1.15" fill="none"/><path d="M179 249.6L189.6 260.2M189.6 249.6L179 260.2M184.3 249.6L184.3 260.2" stroke="#000000" stroke-width="1.15" fill="none"/><path d="M191.2 252.1L201.8 262.7M201.8 252.1L191.2 262.7M196.5 252.1L196.5 262.7" stroke="#000000" stroke-width="1.15" fill="none"/><path d="M203.4 242L214 252.6M214 242L203.4 252.6M208.7 242L208.7 252.6" stroke="#000000" stroke-width="1.15" fill="none"/><path d="M215.6 236.1L226.2 246.7M226.2 236.1L215.6 246.7M220.9 236.1L220.9 246.7" stroke="#000000" stroke-width="1.15" fill="none"/><path d="M227.8 220.9L238.4 231.5M238.4 220.9L227.8 231.5M233.1 220.9L233.1 231.5" stroke="#000000" stroke-width="1.15" fill="none"/><path d="M240 216.7L250.6 227.3M250.6 216.7L240 227.3M245.3 216.7L245.3 227.3" stroke="#000000" stroke-width="1.15" fill="none"/><path d="M252.2 221.7L262.8 232.3M262.8 221.7L252.2 232.3M257.5 221.7L257.5 232.3" stroke="#000000" stroke-width="1.15" fill="none"/><path d="M264.4 234.4L275 245M275 234.4L264.4 245M269.7 234.4L269.7 245" stroke="#000000" stroke-width="1.15" fill="none"/><path d="M276.6 199L287.2 209.6M287.2 199L276.6 209.6M281.9 199L281.9 209.6" stroke="#000000" stroke-width="1.15" fill="none"/><path d="M288.8 188L299.4 198.6M299.4 188L288.8 198.6M294.1 188L294.1 198.6" stroke="#000000" stroke-width="1.15" fill="none"/><path d="M301 266L311.6 276.6M311.6 266L301 276.6M306.3 266L306.3 276.6" stroke="#000000" stroke-width="1.15" fill="none"/><path d="M313.2 341.9L323.8 352.5M323.8 341.9L313.2 352.5M318.5 341.9L318.5 352.5" stroke="#000000" stroke-width="1.15" fill="none"/><path d="M325.4 362.1L336 372.7M336 362.1L325.4 372.7M330.7 362.1L330.7 372.7" stroke="#000000" stroke-width="1.15" fill="none"/><path d="M337.6 405.9L348.2 416.5M348.2 405.9L337.6 416.5M342.9 405.9L342.9 416.5" stroke="#000000" stroke-width="1.15" fill="none"/><path d="M349.8 388.2L360.4 398.8M360.4 388.2L349.8 398.8M355.1 388.2L355.1 398.8" stroke="#000000" stroke-width="1.15" fill="none"/><path d="M361.9 363.8L372.5 374.4M372.5 363.8L361.9 374.4M367.2 363.8L367.2 374.4" stroke="#000000" stroke-width="1.15" fill="none"/><path d="M374.1 389.1L384.7 399.7M384.7 389.1L374.1 399.7M379.4 389.1L379.4 399.7" stroke="#000000" stroke-width="1.15" fill="none"/><path d="M386.3 411.7L396.9 422.3M396.9 411.7L386.3 422.3M391.6 411.7L391.6 422.3" stroke="#000000" stroke-width="1.15" fill="none"/><path d="M398.5 402.6L409.1 413.2M409.1 402.6L398.5 413.2M403.8 402.6L403.8 413.2" stroke="#000000" stroke-width="1.15" fill="none"/><path d="M410.7 411.7L421.3 422.3M421.3 411.7L410.7 422.3M416 411.7L416 422.3" stroke="#000000" stroke-width="1.15" fill="none"/><path d="M422.9 401.3L433.5 411.9M433.5 401.3L422.9 411.9M428.2 401.3L428.2 411.9" stroke="#000000" stroke-width="1.15" fill="none"/><path d="M435.1 352.4L445.7 363M445.7 352.4L435.1 363M440.4 352.4L440.4 363" stroke="#000000" stroke-width="1.15" fill="none"/><path d="M447.3 324.6L457.9 335.2M457.9 324.6L447.3 335.2M452.6 324.6L452.6 335.2" stroke="#000000" stroke-width="1.15" fill="none"/><path d="M459.5 312.8L470.1 323.4M470.1 312.8L459.5 323.4M464.8 312.8L464.8 323.4" stroke="#000000" stroke-width="1.15" fill="none"/><path d="M471.7 376L482.3 386.6M482.3 376L471.7 386.6M477 376L477 386.6" stroke="#000000" stroke-width="1.15" fill="none"/><path d="M483.9 432.5L494.5 443.1M494.5 432.5L483.9 443.1M489.2 432.5L489.2 443.1" stroke="#000000" stroke-width="1.15" fill="none"/><path d="M496.1 425.7L506.7 436.3M506.7 425.7L496.1 436.3M501.4 425.7L501.4 436.3" stroke="#000000" stroke-width="1.15" fill="none"/><path d="M508.3 354.9L518.9 365.5M518.9 354.9L508.3 365.5M513.6 354.9L513.6 365.5" stroke="#000000" stroke-width="1.15" fill="none"/><path d="M520.5 340.6L531.1 351.2M531.1 340.6L520.5 351.2M525.8 340.6L525.8 351.2" stroke="#000000" stroke-width="1.15" fill="none"/><path d="M532.7 319.9L543.3 330.5M543.3 319.9L532.7 330.5M538 319.9L538 330.5" stroke="#000000" stroke-width="1.15" fill="none"/><path d="M544.9 325.4L555.5 336M555.5 325.4L544.9 336M550.2 325.4L550.2 336" stroke="#000000" stroke-width="1.15" fill="none"/><path d="M557.1 335.5L567.7 346.1M567.7 335.5L557.1 346.1M562.4 335.5L562.4 346.1" stroke="#000000" stroke-width="1.15" fill="none"/><path d="M569.3 335.5L579.9 346.1M579.9 335.5L569.3 346.1M574.6 335.5L574.6 346.1" stroke="#000000" stroke-width="1.15" fill="none"/><path d="M581.5 334.7L592.1 345.3M592.1 334.7L581.5 345.3M586.8 334.7L586.8 345.3" stroke="#000000" stroke-width="1.15" fill="none"/><path d="M593.7 285L604.3 295.6M604.3 285L593.7 295.6M599 285L599 295.6" stroke="#000000" stroke-width="1.15" fill="none"/><path d="M605.9 274.9L616.5 285.5M616.5 274.9L605.9 285.5M611.2 274.9L611.2 285.5" stroke="#000000" stroke-width="1.15" fill="none"/><path d="M618.1 269.8L628.7 280.4M628.7 269.8L618.1 280.4M623.4 269.8L623.4 280.4" stroke="#000000" stroke-width="1.15" fill="none"/><path d="M630.3 272.3L640.9 282.9M640.9 272.3L630.3 282.9M635.6 272.3L635.6 282.9" stroke="#000000" stroke-width="1.15" fill="none"/><path d="M642.5 329.6L653.1 340.2M653.1 329.6L642.5 340.2M647.8 329.6L647.8 340.2" stroke="#000000" stroke-width="1.15" fill="none"/><path d="M654.7 367.6L665.3 378.2M665.3 367.6L654.7 378.2M660 367.6L660 378.2" stroke="#000000" stroke-width="1.15" fill="none"/><path d="M666.9 321.2L677.5 331.8M677.5 321.2L666.9 331.8M672.2 321.2L672.2 331.8" stroke="#000000" stroke-width="1.15" fill="none"/><path d="M679.1 345.7L689.7 356.3M689.7 345.7L679.1 356.3M684.4 345.7L684.4 356.3" stroke="#000000" stroke-width="1.15" fill="none"/><path d="M691.3 370.1L701.9 380.7M701.9 370.1L691.3 380.7M696.6 370.1L696.6 380.7" stroke="#000000" stroke-width="1.15" fill="none"/><path d="M703.5 419.8L714.1 430.4M714.1 419.8L703.5 430.4M708.8 419.8L708.8 430.4" stroke="#000000" stroke-width="1.15" fill="none"/><path d="M715.7 409.7L726.3 420.3M726.3 409.7L715.7 420.3M721 409.7L721 420.3" stroke="#000000" stroke-width="1.15" fill="none"/><path d="M727.9 370.9L738.5 381.5M738.5 370.9L727.9 381.5M733.2 370.9L733.2 381.5" stroke="#000000" stroke-width="1.15" fill="none"/><path d="M740.1 358.3L750.7 368.9M750.7 358.3L740.1 368.9M745.4 358.3L745.4 368.9" stroke="#000000" stroke-width="1.15" fill="none"/><path d="M752.2 363.3L762.8 373.9M762.8 363.3L752.2 373.9M757.5 363.3L757.5 373.9" stroke="#000000" stroke-width="1.15" fill="none"/><path d="M764.4 372.6L775 383.2M775 372.6L764.4 383.2M769.7 372.6L769.7 383.2" stroke="#000000" stroke-width="1.15" fill="none"/><path d="M776.6 367.6L787.2 378.2M787.2 367.6L776.6 378.2M781.9 367.6L781.9 378.2" stroke="#000000" stroke-width="1.15" fill="none"/><path d="M788.8 333.9L799.4 344.5M799.4 333.9L788.8 344.5M794.1 333.9L794.1 344.5" stroke="#000000" stroke-width="1.15" fill="none"/><path d="M801 344L811.6 354.6M811.6 344L801 354.6M806.3 344L806.3 354.6" stroke="#000000" stroke-width="1.15" fill="none"/><path d="M813.2 351.5L823.8 362.1M823.8 351.5L813.2 362.1M818.5 351.5L818.5 362.1" stroke="#000000" stroke-width="1.15" fill="none"/><path d="M825.4 344L836 354.6M836 344L825.4 354.6M830.7 344L830.7 354.6" stroke="#000000" stroke-width="1.15" fill="none"/><path d="M837.6 382.7L848.2 393.3M848.2 382.7L837.6 393.3M842.9 382.7L842.9 393.3" stroke="#000000" stroke-width="1.15" fill="none"/><path d="M849.8 399.6L860.4 410.2M860.4 399.6L849.8 410.2M855.1 399.6L855.1 410.2" stroke="#000000" stroke-width="1.15" fill="none"/><path d="M862 394.5L872.6 405.1M872.6 394.5L862 405.1M867.3 394.5L867.3 405.1" stroke="#000000" stroke-width="1.15" fill="none"/><path d="M874.2 416.4L884.8 427M884.8 416.4L874.2 427M879.5 416.4L879.5 427" stroke="#000000" stroke-width="1.15" fill="none"/><path d="M886.4 430.8L897 441.4M897 430.8L886.4 441.4M891.7 430.8L891.7 441.4" stroke="#000000" stroke-width="1.15" fill="none"/><path d="M898.6 394.5L909.2 405.1M909.2 394.5L898.6 405.1M903.9 394.5L903.9 405.1" stroke="#000000" stroke-width="1.15" fill="none"/><path d="M910.8 367.6L921.4 378.2M921.4 367.6L910.8 378.2M916.1 367.6L916.1 378.2" stroke="#000000" stroke-width="1.15" fill="none"/><path d="M923 338.9L933.6 349.5M933.6 338.9L923 349.5M928.3 338.9L928.3 349.5" stroke="#000000" stroke-width="1.15" fill="none"/><path d="M935.2 352.4L945.8 363M945.8 352.4L935.2 363M940.5 352.4L940.5 363" stroke="#000000" stroke-width="1.15" fill="none"/></g><g><path d="M172.1 310L184.3 251.9M184.3 251.9L196.5 254.4M196.5 254.4L208.7 244.3M208.7 244.3L220.9 238.4M220.9 238.4L233.1 223.2M233.1 223.2L245.3 219M245.3 219L257.5 224M257.5 224L269.7 236.7M269.7 236.7L281.9 201.3M281.9 201.3L294.1 190.3M294.1 190.3L306.3 265.3M306.3 265.3L318.5 341.2M318.5 341.2L330.7 361.4M330.7 361.4L342.9 405.2M342.9 405.2L355.1 387.5M355.1 387.5L367.2 363.1M367.2 363.1L379.4 388.4M379.4 388.4L391.6 411M391.6 411L403.8 401.9M403.8 401.9L416 411M416 411L428.2 400.6M428.2 400.6L440.4 351.7M440.4 351.7L452.6 323.9M452.6 323.9L464.8 312.1M464.8 312.1L477 375.3M477 375.3L489.2 431.8M489.2 431.8L501.4 425M501.4 425L513.6 354.2M513.6 354.2L525.8 339.9M525.8 339.9L538 311.2M538 311.2L550.2 324.7M550.2 324.7L562.4 334.8M562.4 334.8L574.6 334.8M574.6 334.8L586.8 334M586.8 334L599 284.3M599 284.3L611.2 274.2M611.2 274.2L623.4 269.1M623.4 269.1L635.6 271.6M635.6 271.6L647.8 328.9M647.8 328.9L660 366.9M660 366.9L672.2 320.5M672.2 320.5L684.4 345M684.4 345L696.6 369.4M696.6 369.4L708.8 419.1M708.8 419.1L721 409M721 409L733.2 370.2M733.2 370.2L745.4 357.6M745.4 357.6L757.5 362.6M757.5 362.6L769.7 371.9M769.7 371.9L781.9 366.9M781.9 366.9L794.1 333.2M794.1 333.2L806.3 343.3M806.3 343.3L818.5 350.8M818.5 350.8L830.7 343.3M830.7 343.3L842.9 382M842.9 382L855.1 398.9M855.1 398.9L867.3 393.8M867.3 393.8L879.5 415.7M879.5 415.7L891.7 430.1M891.7 430.1L903.9 393.8M903.9 393.8L916.1 366.9M916.1 366.9L928.3 338.2M928.3 338.2L940.5 351.7" fill="none" stroke="#000000" stroke-width="3.9" stroke-dasharray="31 11" stroke-linejoin="round" stroke-linecap="butt"/><ellipse cx="172.1" cy="310" rx="5.4" ry="5.5" fill="#000000"/><ellipse cx="184.3" cy="251.9" rx="5.4" ry="5.5" fill="#000000"/><ellipse cx="196.5" cy="254.4" rx="5.4" ry="5.5" fill="#000000"/><ellipse cx="208.7" cy="244.3" rx="5.4" ry="5.5" fill="#000000"/><ellipse cx="220.9" cy="238.4" rx="5.4" ry="5.5" fill="#000000"/><ellipse cx="233.1" cy="223.2" rx="5.4" ry="5.5" fill="#000000"/><ellipse cx="245.3" cy="219" rx="5.4" ry="5.5" fill="#000000"/><ellipse cx="257.5" cy="224" rx="5.4" ry="5.5" fill="#000000"/><ellipse cx="269.7" cy="236.7" rx="5.4" ry="5.5" fill="#000000"/><ellipse cx="281.9" cy="201.3" rx="5.4" ry="5.5" fill="#000000"/><ellipse cx="294.1" cy="190.3" rx="5.4" ry="5.5" fill="#000000"/><ellipse cx="306.3" cy="265.3" rx="5.4" ry="5.5" fill="#000000"/><ellipse cx="318.5" cy="341.2" rx="5.4" ry="5.5" fill="#000000"/><ellipse cx="330.7" cy="361.4" rx="5.4" ry="5.5" fill="#000000"/><ellipse cx="342.9" cy="405.2" rx="5.4" ry="5.5" fill="#000000"/><ellipse cx="355.1" cy="387.5" rx="5.4" ry="5.5" fill="#000000"/><ellipse cx="367.2" cy="363.1" rx="5.4" ry="5.5" fill="#000000"/><ellipse cx="379.4" cy="388.4" rx="5.4" ry="5.5" fill="#000000"/><ellipse cx="391.6" cy="411" rx="5.4" ry="5.5" fill="#000000"/><ellipse cx="403.8" cy="401.9" rx="5.4" ry="5.5" fill="#000000"/><ellipse cx="416" cy="411" rx="5.4" ry="5.5" fill="#000000"/><ellipse cx="428.2" cy="400.6" rx="5.4" ry="5.5" fill="#000000"/><ellipse cx="440.4" cy="351.7" rx="5.4" ry="5.5" fill="#000000"/><ellipse cx="452.6" cy="323.9" rx="5.4" ry="5.5" fill="#000000"/><ellipse cx="464.8" cy="312.1" rx="5.4" ry="5.5" fill="#000000"/><ellipse cx="477" cy="375.3" rx="5.4" ry="5.5" fill="#000000"/><ellipse cx="489.2" cy="431.8" rx="5.4" ry="5.5" fill="#000000"/><ellipse cx="501.4" cy="425" rx="5.4" ry="5.5" fill="#000000"/><ellipse cx="513.6" cy="354.2" rx="5.4" ry="5.5" fill="#000000"/><ellipse cx="525.8" cy="339.9" rx="5.4" ry="5.5" fill="#000000"/><ellipse cx="538" cy="311.2" rx="5.4" ry="5.5" fill="#000000"/><ellipse cx="550.2" cy="324.7" rx="5.4" ry="5.5" fill="#000000"/><ellipse cx="562.4" cy="334.8" rx="5.4" ry="5.5" fill="#000000"/><ellipse cx="574.6" cy="334.8" rx="5.4" ry="5.5" fill="#000000"/><ellipse cx="586.8" cy="334" rx="5.4" ry="5.5" fill="#000000"/><ellipse cx="599" cy="284.3" rx="5.4" ry="5.5" fill="#000000"/><ellipse cx="611.2" cy="274.2" rx="5.4" ry="5.5" fill="#000000"/><ellipse cx="623.4" cy="269.1" rx="5.4" ry="5.5" fill="#000000"/><ellipse cx="635.6" cy="271.6" rx="5.4" ry="5.5" fill="#000000"/><ellipse cx="647.8" cy="328.9" rx="5.4" ry="5.5" fill="#000000"/><ellipse cx="660" cy="366.9" rx="5.4" ry="5.5" fill="#000000"/><ellipse cx="672.2" cy="320.5" rx="5.4" ry="5.5" fill="#000000"/><ellipse cx="684.4" cy="345" rx="5.4" ry="5.5" fill="#000000"/><ellipse cx="696.6" cy="369.4" rx="5.4" ry="5.5" fill="#000000"/><ellipse cx="708.8" cy="419.1" rx="5.4" ry="5.5" fill="#000000"/><ellipse cx="721" cy="409" rx="5.4" ry="5.5" fill="#000000"/><ellipse cx="733.2" cy="370.2" rx="5.4" ry="5.5" fill="#000000"/><ellipse cx="745.4" cy="357.6" rx="5.4" ry="5.5" fill="#000000"/><ellipse cx="757.5" cy="362.6" rx="5.4" ry="5.5" fill="#000000"/><ellipse cx="769.7" cy="371.9" rx="5.4" ry="5.5" fill="#000000"/><ellipse cx="781.9" cy="366.9" rx="5.4" ry="5.5" fill="#000000"/><ellipse cx="794.1" cy="333.2" rx="5.4" ry="5.5" fill="#000000"/><ellipse cx="806.3" cy="343.3" rx="5.4" ry="5.5" fill="#000000"/><ellipse cx="818.5" cy="350.8" rx="5.4" ry="5.5" fill="#000000"/><ellipse cx="830.7" cy="343.3" rx="5.4" ry="5.5" fill="#000000"/><ellipse cx="842.9" cy="382" rx="5.4" ry="5.5" fill="#000000"/><ellipse cx="855.1" cy="398.9" rx="5.4" ry="5.5" fill="#000000"/><ellipse cx="867.3" cy="393.8" rx="5.4" ry="5.5" fill="#000000"/><ellipse cx="879.5" cy="415.7" rx="5.4" ry="5.5" fill="#000000"/><ellipse cx="891.7" cy="430.1" rx="5.4" ry="5.5" fill="#000000"/><ellipse cx="903.9" cy="393.8" rx="5.4" ry="5.5" fill="#000000"/><ellipse cx="916.1" cy="366.9" rx="5.4" ry="5.5" fill="#000000"/><ellipse cx="928.3" cy="338.2" rx="5.4" ry="5.5" fill="#000000"/><ellipse cx="940.5" cy="351.7" rx="5.4" ry="5.5" fill="#000000"/></g></g>
<g id="chartB"><path d="M1082.7 105.2V526.5M1082.7 524V535M1095.2 524V535M1107.7 524V535M1120.3 524V535M1132.8 524V535M1145.3 524V535M1157.8 524V535M1170.3 524V535M1182.9 524V535M1195.4 524V535M1207.9 524V535M1220.4 524V535M1232.9 524V535M1245.4 524V535M1258 524V535M1270.5 524V535M1283 524V535M1295.5 524V535M1308 524V535M1320.6 524V535M1333.1 524V535M1345.6 524V535M1358.1 524V535M1370.6 524V535M1383.2 524V535M1395.7 524V535M1408.2 524V535M1420.7 524V535M1433.2 524V535M1445.7 524V535M1458.3 524V535M1470.8 524V535M1483.3 524V535M1495.8 524V535M1508.3 524V535M1520.9 524V535M1533.4 524V535M1545.9 524V535M1558.4 524V535M1570.9 524V535M1583.5 524V535M1596 524V535M1608.5 524V535M1621 524V535M1633.5 524V535M1646 524V535M1658.6 524V535M1671.1 524V535M1683.6 524V535M1696.1 524V535M1708.6 524V535M1721.2 524V535M1733.7 524V535M1746.2 524V535M1758.7 524V535M1771.2 524V535M1783.8 524V535M1796.3 524V535M1808.8 524V535M1821.3 524V535M1833.8 524V535M1846.3 524V535M1858.9 524V535M1871.4 524V535M1883.9 524V535" stroke="#505050" stroke-width="1.6" fill="none"/><path d="M1081.7 526.5H1884.9M1073.7 105.2H1082.7M1073.7 189.5H1082.7M1073.7 273.7H1082.7M1073.7 358H1082.7M1073.7 442.2H1082.7M1073.7 526.5H1082.7" stroke="#3c3c3c" stroke-width="1.4" fill="none"/><g fill="#000"><text transform="translate(1062 118.3) scale(0.86 1)" font-size="30.3" text-anchor="end">8.0</text><text transform="translate(1062 202.56) scale(0.86 1)" font-size="30.3" text-anchor="end">7.5</text><text transform="translate(1062 286.82) scale(0.86 1)" font-size="30.3" text-anchor="end">7.0</text><text transform="translate(1062 371.08) scale(0.86 1)" font-size="30.3" text-anchor="end">6.5</text><text transform="translate(1062 455.34) scale(0.86 1)" font-size="30.3" text-anchor="end">6.0</text><text transform="translate(1062 539.6) scale(0.86 1)" font-size="30.3" text-anchor="end">5.5</text><text transform="translate(1088.96 581.5) scale(0.86 1)" font-size="30.3" text-anchor="middle">0</text><text transform="translate(1176.59 581.5) scale(0.86 1)" font-size="30.3" text-anchor="middle">7</text><text transform="translate(1264.22 581.5) scale(0.86 1)" font-size="30.3" text-anchor="middle">14</text><text transform="translate(1351.85 581.5) scale(0.86 1)" font-size="30.3" text-anchor="middle">21</text><text transform="translate(1439.48 581.5) scale(0.86 1)" font-size="30.3" text-anchor="middle">28</text><text transform="translate(1527.12 581.5) scale(0.86 1)" font-size="30.3" text-anchor="middle">35</text><text transform="translate(1614.75 581.5) scale(0.86 1)" font-size="30.3" text-anchor="middle">42</text><text transform="translate(1702.38 581.5) scale(0.86 1)" font-size="30.3" text-anchor="middle">49</text><text transform="translate(1790.01 581.5) scale(0.86 1)" font-size="30.3" text-anchor="middle">56</text><text transform="translate(1877.64 581.5) scale(0.86 1)" font-size="30.3" text-anchor="middle">63</text></g><text transform="translate(1005.5 317.5) rotate(-90) scale(1.1 1)" font-size="27" text-anchor="middle" font-weight="bold" xml:space="preserve">Dissolved oxygen  (mg L<tspan font-size="16" dy="-9">-1</tspan><tspan dy="9">)</tspan></text><text transform="translate(1758.3 133)" font-size="42" text-anchor="middle" font-family="'Liberation Serif', serif">B</text><g><path d="M1089 127L1101.5 164M1101.5 164L1114 180.9M1114 180.9L1126.5 237.1M1126.5 237.1L1139 268.5M1139 268.5L1151.6 266.3M1151.6 266.3L1164.1 222.5M1164.1 222.5L1176.6 248.3M1176.6 248.3L1189.1 261.8M1189.1 261.8L1201.6 279.8M1201.6 279.8L1214.1 295.5M1214.1 295.5L1226.7 347.2M1226.7 347.2L1239.2 234.8M1239.2 234.8L1251.7 261.8M1251.7 261.8L1264.2 225.8M1264.2 225.8L1276.7 248.3M1276.7 248.3L1289.3 250.6M1289.3 250.6L1301.8 225.8M1301.8 225.8L1314.3 196.6M1314.3 196.6L1326.8 234.8M1326.8 234.8L1339.3 410.1M1339.3 410.1L1351.9 324.7M1351.9 324.7L1364.4 189.9M1364.4 189.9L1376.9 177.5M1376.9 177.5L1389.4 184.3M1389.4 184.3L1401.9 176.4M1401.9 176.4L1414.4 122.5M1414.4 122.5L1427 162.9M1427 162.9L1439.5 184.3M1439.5 184.3L1452 196.6M1452 196.6L1464.5 192.1M1464.5 192.1L1477 171.9M1477 171.9L1489.6 176.4M1489.6 176.4L1502.1 178.7M1502.1 178.7L1514.6 192.1M1514.6 192.1L1527.1 229.2M1527.1 229.2L1539.6 179.8M1539.6 179.8L1552.2 207.9M1552.2 207.9L1564.7 228.1M1564.7 228.1L1577.2 189.9M1577.2 189.9L1589.7 225.8M1589.7 225.8L1602.2 216.9M1602.2 216.9L1614.7 231.5M1614.7 231.5L1627.3 257.3M1627.3 257.3L1639.8 257.3M1639.8 257.3L1652.3 260.7M1652.3 260.7L1664.8 225.8M1664.8 225.8L1677.3 298.9M1677.3 298.9L1689.9 309M1689.9 309L1702.4 237.1M1702.4 237.1L1714.9 222.5M1714.9 222.5L1727.4 234.8M1727.4 234.8L1739.9 194.4M1739.9 194.4L1752.5 206.7M1752.5 206.7L1765 211.2M1765 211.2L1777.5 205.6M1777.5 205.6L1790 257.3M1790 257.3L1802.5 239.3M1802.5 239.3L1815 227M1815 227L1827.6 212.4M1827.6 212.4L1840.1 248.3M1840.1 248.3L1852.6 279.8M1852.6 279.8L1865.1 268.5M1865.1 268.5L1877.6 292.1" fill="none" stroke="#595959" stroke-width="3.5" stroke-dasharray="0.01 7.7" stroke-linejoin="round" stroke-linecap="round"/><path d="M1089 119.8L1095.4 127L1089 134.2L1082.6 127Z" fill="#595959"/><path d="M1101.5 156.8L1107.9 164L1101.5 171.2L1095.1 164Z" fill="#595959"/><path d="M1114 173.7L1120.4 180.9L1114 188.1L1107.6 180.9Z" fill="#595959"/><path d="M1126.5 229.9L1132.9 237.1L1126.5 244.3L1120.1 237.1Z" fill="#595959"/><path d="M1139 261.3L1145.4 268.5L1139 275.7L1132.6 268.5Z" fill="#595959"/><path d="M1151.6 259.1L1158 266.3L1151.6 273.5L1145.2 266.3Z" fill="#595959"/><path d="M1164.1 215.3L1170.5 222.5L1164.1 229.7L1157.7 222.5Z" fill="#595959"/><path d="M1176.6 241.1L1183 248.3L1176.6 255.5L1170.2 248.3Z" fill="#595959"/><path d="M1189.1 254.6L1195.5 261.8L1189.1 269L1182.7 261.8Z" fill="#595959"/><path d="M1201.6 272.6L1208 279.8L1201.6 287L1195.2 279.8Z" fill="#595959"/><path d="M1214.1 288.3L1220.5 295.5L1214.1 302.7L1207.7 295.5Z" fill="#595959"/><path d="M1226.7 340L1233.1 347.2L1226.7 354.4L1220.3 347.2Z" fill="#595959"/><path d="M1239.2 227.6L1245.6 234.8L1239.2 242L1232.8 234.8Z" fill="#595959"/><path d="M1251.7 254.6L1258.1 261.8L1251.7 269L1245.3 261.8Z" fill="#595959"/><path d="M1264.2 218.6L1270.6 225.8L1264.2 233L1257.8 225.8Z" fill="#595959"/><path d="M1276.7 241.1L1283.1 248.3L1276.7 255.5L1270.3 248.3Z" fill="#595959"/><path d="M1289.3 243.4L1295.7 250.6L1289.3 257.8L1282.9 250.6Z" fill="#595959"/><path d="M1301.8 218.6L1308.2 225.8L1301.8 233L1295.4 225.8Z" fill="#595959"/><path d="M1314.3 189.4L1320.7 196.6L1314.3 203.8L1307.9 196.6Z" fill="#595959"/><path d="M1326.8 227.6L1333.2 234.8L1326.8 242L1320.4 234.8Z" fill="#595959"/><path d="M1339.3 402.9L1345.7 410.1L1339.3 417.3L1332.9 410.1Z" fill="#595959"/><path d="M1351.9 317.5L1358.3 324.7L1351.9 331.9L1345.5 324.7Z" fill="#595959"/><path d="M1364.4 182.7L1370.8 189.9L1364.4 197.1L1358 189.9Z" fill="#595959"/><path d="M1376.9 170.3L1383.3 177.5L1376.9 184.7L1370.5 177.5Z" fill="#595959"/><path d="M1389.4 177.1L1395.8 184.3L1389.4 191.5L1383 184.3Z" fill="#595959"/><path d="M1401.9 169.2L1408.3 176.4L1401.9 183.6L1395.5 176.4Z" fill="#595959"/><path d="M1414.4 115.3L1420.8 122.5L1414.4 129.7L1408 122.5Z" fill="#595959"/><path d="M1427 155.7L1433.4 162.9L1427 170.1L1420.6 162.9Z" fill="#595959"/><path d="M1439.5 177.1L1445.9 184.3L1439.5 191.5L1433.1 184.3Z" fill="#595959"/><path d="M1452 189.4L1458.4 196.6L1452 203.8L1445.6 196.6Z" fill="#595959"/><path d="M1464.5 184.9L1470.9 192.1L1464.5 199.3L1458.1 192.1Z" fill="#595959"/><path d="M1477 164.7L1483.4 171.9L1477 179.1L1470.6 171.9Z" fill="#595959"/><path d="M1489.6 169.2L1496 176.4L1489.6 183.6L1483.2 176.4Z" fill="#595959"/><path d="M1502.1 171.5L1508.5 178.7L1502.1 185.9L1495.7 178.7Z" fill="#595959"/><path d="M1514.6 184.9L1521 192.1L1514.6 199.3L1508.2 192.1Z" fill="#595959"/><path d="M1527.1 222L1533.5 229.2L1527.1 236.4L1520.7 229.2Z" fill="#595959"/><path d="M1539.6 172.6L1546 179.8L1539.6 187L1533.2 179.8Z" fill="#595959"/><path d="M1552.2 200.7L1558.6 207.9L1552.2 215.1L1545.8 207.9Z" fill="#595959"/><path d="M1564.7 220.9L1571.1 228.1L1564.7 235.3L1558.3 228.1Z" fill="#595959"/><path d="M1577.2 182.7L1583.6 189.9L1577.2 197.1L1570.8 189.9Z" fill="#595959"/><path d="M1589.7 218.6L1596.1 225.8L1589.7 233L1583.3 225.8Z" fill="#595959"/><path d="M1602.2 209.7L1608.6 216.9L1602.2 224.1L1595.8 216.9Z" fill="#595959"/><path d="M1614.7 224.3L1621.1 231.5L1614.7 238.7L1608.3 231.5Z" fill="#595959"/><path d="M1627.3 250.1L1633.7 257.3L1627.3 264.5L1620.9 257.3Z" fill="#595959"/><path d="M1639.8 250.1L1646.2 257.3L1639.8 264.5L1633.4 257.3Z" fill="#595959"/><path d="M1652.3 253.5L1658.7 260.7L1652.3 267.9L1645.9 260.7Z" fill="#595959"/><path d="M1664.8 218.6L1671.2 225.8L1664.8 233L1658.4 225.8Z" fill="#595959"/><path d="M1677.3 291.7L1683.7 298.9L1677.3 306.1L1670.9 298.9Z" fill="#595959"/><path d="M1689.9 301.8L1696.3 309L1689.9 316.2L1683.5 309Z" fill="#595959"/><path d="M1702.4 229.9L1708.8 237.1L1702.4 244.3L1696 237.1Z" fill="#595959"/><path d="M1714.9 215.3L1721.3 222.5L1714.9 229.7L1708.5 222.5Z" fill="#595959"/><path d="M1727.4 227.6L1733.8 234.8L1727.4 242L1721 234.8Z" fill="#595959"/><path d="M1739.9 187.2L1746.3 194.4L1739.9 201.6L1733.5 194.4Z" fill="#595959"/><path d="M1752.5 199.5L1758.9 206.7L1752.5 213.9L1746.1 206.7Z" fill="#595959"/><path d="M1765 204L1771.4 211.2L1765 218.4L1758.6 211.2Z" fill="#595959"/><path d="M1777.5 198.4L1783.9 205.6L1777.5 212.8L1771.1 205.6Z" fill="#595959"/><path d="M1790 250.1L1796.4 257.3L1790 264.5L1783.6 257.3Z" fill="#595959"/><path d="M1802.5 232.1L1808.9 239.3L1802.5 246.5L1796.1 239.3Z" fill="#595959"/><path d="M1815 219.8L1821.4 227L1815 234.2L1808.6 227Z" fill="#595959"/><path d="M1827.6 205.2L1834 212.4L1827.6 219.6L1821.2 212.4Z" fill="#595959"/><path d="M1840.1 241.1L1846.5 248.3L1840.1 255.5L1833.7 248.3Z" fill="#595959"/><path d="M1852.6 272.6L1859 279.8L1852.6 287L1846.2 279.8Z" fill="#595959"/><path d="M1865.1 261.3L1871.5 268.5L1865.1 275.7L1858.7 268.5Z" fill="#595959"/><path d="M1877.6 284.9L1884 292.1L1877.6 299.3L1871.2 292.1Z" fill="#595959"/></g><g><path d="M1089 129.2L1101.5 165.2M1101.5 165.2L1114 192.1M1114 192.1L1126.5 282M1126.5 282L1139 248.3M1139 248.3L1151.6 331.5M1151.6 331.5L1164.1 286.5M1164.1 286.5L1176.6 293.3M1176.6 293.3L1189.1 300M1189.1 300L1201.6 338.2M1201.6 338.2L1214.1 358.4M1214.1 358.4L1226.7 461.8M1226.7 461.8L1239.2 234.8M1239.2 234.8L1251.7 350.6M1251.7 350.6L1264.2 283.1M1264.2 283.1L1276.7 315.7M1276.7 315.7L1289.3 336M1289.3 336L1301.8 289.9M1301.8 289.9L1314.3 234.8M1314.3 234.8L1326.8 266.3M1326.8 266.3L1339.3 360.7M1339.3 360.7L1351.9 359.6M1351.9 359.6L1364.4 230.3M1364.4 230.3L1376.9 279.8M1376.9 279.8L1389.4 267.4M1389.4 267.4L1401.9 221.3M1401.9 221.3L1414.4 162.9M1414.4 162.9L1427 221.3M1427 221.3L1439.5 216.9M1439.5 216.9L1452 207.9M1452 207.9L1464.5 205.6M1464.5 205.6L1477 203.4M1477 203.4L1489.6 221.3M1489.6 221.3L1502.1 234.8M1502.1 234.8L1514.6 246.1M1514.6 246.1L1527.1 257.3M1527.1 257.3L1539.6 237.1M1539.6 237.1L1552.2 282M1552.2 282L1564.7 324.7M1564.7 324.7L1577.2 257.3M1577.2 257.3L1589.7 310.1M1589.7 310.1L1602.2 277.5M1602.2 277.5L1614.7 286.5M1614.7 286.5L1627.3 341.6M1627.3 341.6L1639.8 279.8M1639.8 279.8L1652.3 273M1652.3 273L1664.8 270.8M1664.8 270.8L1677.3 353.9M1677.3 353.9L1689.9 362.9M1689.9 362.9L1702.4 293.3M1702.4 293.3L1714.9 279.8M1714.9 279.8L1727.4 297.8M1727.4 297.8L1739.9 277.5M1739.9 277.5L1752.5 344.9M1752.5 344.9L1765 282M1765 282L1777.5 295.5M1777.5 295.5L1790 338.2M1790 338.2L1802.5 324.7M1802.5 324.7L1815 306.7M1815 306.7L1827.6 284.3M1827.6 284.3L1840.1 295.5M1840.1 295.5L1852.6 337.1M1852.6 337.1L1865.1 338.2M1865.1 338.2L1877.6 378.7" fill="none" stroke="#a0a0a0" stroke-width="2" stroke-dasharray="6.3 2.8" stroke-linejoin="round" stroke-linecap="butt"/><rect x="1083.2" y="122.9" width="11.4" height="12.6" fill="#a0a0a0"/><rect x="1095.8" y="158.9" width="11.4" height="12.6" fill="#a0a0a0"/><rect x="1108.3" y="185.8" width="11.4" height="12.6" fill="#a0a0a0"/><rect x="1120.8" y="275.7" width="11.4" height="12.6" fill="#a0a0a0"/><rect x="1133.3" y="242" width="11.4" height="12.6" fill="#a0a0a0"/><rect x="1145.8" y="325.2" width="11.4" height="12.6" fill="#a0a0a0"/><rect x="1158.3" y="280.2" width="11.4" height="12.6" fill="#a0a0a0"/><rect x="1170.9" y="287" width="11.4" height="12.6" fill="#a0a0a0"/><rect x="1183.4" y="293.7" width="11.4" height="12.6" fill="#a0a0a0"/><rect x="1195.9" y="331.9" width="11.4" height="12.6" fill="#a0a0a0"/><rect x="1208.4" y="352.1" width="11.4" height="12.6" fill="#a0a0a0"/><rect x="1220.9" y="455.5" width="11.4" height="12.6" fill="#a0a0a0"/><rect x="1233.5" y="228.5" width="11.4" height="12.6" fill="#a0a0a0"/><rect x="1246" y="344.3" width="11.4" height="12.6" fill="#a0a0a0"/><rect x="1258.5" y="276.8" width="11.4" height="12.6" fill="#a0a0a0"/><rect x="1271" y="309.4" width="11.4" height="12.6" fill="#a0a0a0"/><rect x="1283.5" y="329.7" width="11.4" height="12.6" fill="#a0a0a0"/><rect x="1296.1" y="283.6" width="11.4" height="12.6" fill="#a0a0a0"/><rect x="1308.6" y="228.5" width="11.4" height="12.6" fill="#a0a0a0"/><rect x="1321.1" y="260" width="11.4" height="12.6" fill="#a0a0a0"/><rect x="1333.6" y="354.4" width="11.4" height="12.6" fill="#a0a0a0"/><rect x="1346.1" y="353.3" width="11.4" height="12.6" fill="#a0a0a0"/><rect x="1358.6" y="224" width="11.4" height="12.6" fill="#a0a0a0"/><rect x="1371.2" y="273.5" width="11.4" height="12.6" fill="#a0a0a0"/><rect x="1383.7" y="261.1" width="11.4" height="12.6" fill="#a0a0a0"/><rect x="1396.2" y="215" width="11.4" height="12.6" fill="#a0a0a0"/><rect x="1408.7" y="156.6" width="11.4" height="12.6" fill="#a0a0a0"/><rect x="1421.2" y="215" width="11.4" height="12.6" fill="#a0a0a0"/><rect x="1433.8" y="210.6" width="11.4" height="12.6" fill="#a0a0a0"/><rect x="1446.3" y="201.6" width="11.4" height="12.6" fill="#a0a0a0"/><rect x="1458.8" y="199.3" width="11.4" height="12.6" fill="#a0a0a0"/><rect x="1471.3" y="197.1" width="11.4" height="12.6" fill="#a0a0a0"/><rect x="1483.8" y="215" width="11.4" height="12.6" fill="#a0a0a0"/><rect x="1496.4" y="228.5" width="11.4" height="12.6" fill="#a0a0a0"/><rect x="1508.9" y="239.8" width="11.4" height="12.6" fill="#a0a0a0"/><rect x="1521.4" y="251" width="11.4" height="12.6" fill="#a0a0a0"/><rect x="1533.9" y="230.8" width="11.4" height="12.6" fill="#a0a0a0"/><rect x="1546.4" y="275.7" width="11.4" height="12.6" fill="#a0a0a0"/><rect x="1558.9" y="318.4" width="11.4" height="12.6" fill="#a0a0a0"/><rect x="1571.5" y="251" width="11.4" height="12.6" fill="#a0a0a0"/><rect x="1584" y="303.8" width="11.4" height="12.6" fill="#a0a0a0"/><rect x="1596.5" y="271.2" width="11.4" height="12.6" fill="#a0a0a0"/><rect x="1609" y="280.2" width="11.4" height="12.6" fill="#a0a0a0"/><rect x="1621.5" y="335.3" width="11.4" height="12.6" fill="#a0a0a0"/><rect x="1634.1" y="273.5" width="11.4" height="12.6" fill="#a0a0a0"/><rect x="1646.6" y="266.7" width="11.4" height="12.6" fill="#a0a0a0"/><rect x="1659.1" y="264.5" width="11.4" height="12.6" fill="#a0a0a0"/><rect x="1671.6" y="347.6" width="11.4" height="12.6" fill="#a0a0a0"/><rect x="1684.1" y="356.6" width="11.4" height="12.6" fill="#a0a0a0"/><rect x="1696.7" y="287" width="11.4" height="12.6" fill="#a0a0a0"/><rect x="1709.2" y="273.5" width="11.4" height="12.6" fill="#a0a0a0"/><rect x="1721.7" y="291.5" width="11.4" height="12.6" fill="#a0a0a0"/><rect x="1734.2" y="271.2" width="11.4" height="12.6" fill="#a0a0a0"/><rect x="1746.7" y="338.6" width="11.4" height="12.6" fill="#a0a0a0"/><rect x="1759.2" y="275.7" width="11.4" height="12.6" fill="#a0a0a0"/><rect x="1771.8" y="289.2" width="11.4" height="12.6" fill="#a0a0a0"/><rect x="1784.3" y="331.9" width="11.4" height="12.6" fill="#a0a0a0"/><rect x="1796.8" y="318.4" width="11.4" height="12.6" fill="#a0a0a0"/><rect x="1809.3" y="300.4" width="11.4" height="12.6" fill="#a0a0a0"/><rect x="1821.8" y="278" width="11.4" height="12.6" fill="#a0a0a0"/><rect x="1834.4" y="289.2" width="11.4" height="12.6" fill="#a0a0a0"/><rect x="1846.9" y="330.8" width="11.4" height="12.6" fill="#a0a0a0"/><rect x="1859.4" y="331.9" width="11.4" height="12.6" fill="#a0a0a0"/><rect x="1871.9" y="372.4" width="11.4" height="12.6" fill="#a0a0a0"/></g><g><path d="M1089 129.2L1101.5 165.2L1114 180.9L1126.5 239.3L1139 257.3L1151.6 291L1164.1 279.8L1176.6 277.5L1189.1 286.5L1201.6 304.5L1214.1 322.5L1226.7 366.3L1239.2 246.1L1251.7 302.2L1264.2 255.1L1276.7 279.8L1289.3 261.8L1301.8 232.6L1314.3 201.1L1326.8 266.3L1339.3 358.4L1351.9 313.5L1364.4 234.8L1376.9 196.6L1389.4 194.4L1401.9 183.1L1414.4 148.3L1427 148.3L1439.5 189.9L1452 203.4L1464.5 196.6L1477 194.4L1489.6 189.9L1502.1 178.7L1514.6 198.9L1527.1 232.6L1539.6 203.4L1552.2 230.3L1564.7 228.1L1577.2 221.3L1589.7 234.8L1602.2 228.1L1614.7 243.8L1627.3 232.6L1639.8 222.5L1652.3 230.3L1664.8 219.1L1677.3 297.8L1689.9 376.4L1702.4 279.8L1714.9 234.8L1727.4 253.9L1739.9 205.6L1752.5 221.3L1765 232.6L1777.5 212.4L1790 268.5L1802.5 234.8L1815 257.3L1827.6 239.3L1840.1 243.8L1852.6 270.8L1865.1 277.5L1877.6 338.2" fill="none" stroke="#858585" stroke-width="2.1" stroke-linejoin="round" stroke-linecap="butt"/><path d="M1089 122.7L1095 135.7L1082.9 135.7Z" fill="#858585"/><path d="M1101.5 158.7L1107.5 171.7L1095.5 171.7Z" fill="#858585"/><path d="M1114 174.4L1120 187.4L1108 187.4Z" fill="#858585"/><path d="M1126.5 232.8L1132.5 245.8L1120.5 245.8Z" fill="#858585"/><path d="M1139 250.8L1145 263.8L1133 263.8Z" fill="#858585"/><path d="M1151.6 284.5L1157.6 297.5L1145.5 297.5Z" fill="#858585"/><path d="M1164.1 273.3L1170.1 286.3L1158.1 286.3Z" fill="#858585"/><path d="M1176.6 271L1182.6 284L1170.6 284Z" fill="#858585"/><path d="M1189.1 280L1195.1 293L1183.1 293Z" fill="#858585"/><path d="M1201.6 298L1207.6 311L1195.6 311Z" fill="#858585"/><path d="M1214.1 316L1220.2 329L1208.1 329Z" fill="#858585"/><path d="M1226.7 359.8L1232.7 372.8L1220.7 372.8Z" fill="#858585"/><path d="M1239.2 239.6L1245.2 252.6L1233.2 252.6Z" fill="#858585"/><path d="M1251.7 295.7L1257.7 308.7L1245.7 308.7Z" fill="#858585"/><path d="M1264.2 248.6L1270.2 261.6L1258.2 261.6Z" fill="#858585"/><path d="M1276.7 273.3L1282.8 286.3L1270.7 286.3Z" fill="#858585"/><path d="M1289.3 255.3L1295.3 268.3L1283.2 268.3Z" fill="#858585"/><path d="M1301.8 226.1L1307.8 239.1L1295.8 239.1Z" fill="#858585"/><path d="M1314.3 194.6L1320.3 207.6L1308.3 207.6Z" fill="#858585"/><path d="M1326.8 259.8L1332.8 272.8L1320.8 272.8Z" fill="#858585"/><path d="M1339.3 351.9L1345.3 364.9L1333.3 364.9Z" fill="#858585"/><path d="M1351.9 307L1357.9 320L1345.8 320Z" fill="#858585"/><path d="M1364.4 228.3L1370.4 241.3L1358.4 241.3Z" fill="#858585"/><path d="M1376.9 190.1L1382.9 203.1L1370.9 203.1Z" fill="#858585"/><path d="M1389.4 187.9L1395.4 200.9L1383.4 200.9Z" fill="#858585"/><path d="M1401.9 176.6L1407.9 189.6L1395.9 189.6Z" fill="#858585"/><path d="M1414.4 141.8L1420.5 154.8L1408.4 154.8Z" fill="#858585"/><path d="M1427 141.8L1433 154.8L1421 154.8Z" fill="#858585"/><path d="M1439.5 183.4L1445.5 196.4L1433.5 196.4Z" fill="#858585"/><path d="M1452 196.9L1458 209.9L1446 209.9Z" fill="#858585"/><path d="M1464.5 190.1L1470.5 203.1L1458.5 203.1Z" fill="#858585"/><path d="M1477 187.9L1483.1 200.9L1471 200.9Z" fill="#858585"/><path d="M1489.6 183.4L1495.6 196.4L1483.5 196.4Z" fill="#858585"/><path d="M1502.1 172.2L1508.1 185.2L1496.1 185.2Z" fill="#858585"/><path d="M1514.6 192.4L1520.6 205.4L1508.6 205.4Z" fill="#858585"/><path d="M1527.1 226.1L1533.1 239.1L1521.1 239.1Z" fill="#858585"/><path d="M1539.6 196.9L1545.6 209.9L1533.6 209.9Z" fill="#858585"/><path d="M1552.2 223.8L1558.2 236.8L1546.1 236.8Z" fill="#858585"/><path d="M1564.7 221.6L1570.7 234.6L1558.7 234.6Z" fill="#858585"/><path d="M1577.2 214.8L1583.2 227.8L1571.2 227.8Z" fill="#858585"/><path d="M1589.7 228.3L1595.7 241.3L1583.7 241.3Z" fill="#858585"/><path d="M1602.2 221.6L1608.2 234.6L1596.2 234.6Z" fill="#858585"/><path d="M1614.7 237.3L1620.8 250.3L1608.7 250.3Z" fill="#858585"/><path d="M1627.3 226.1L1633.3 239.1L1621.3 239.1Z" fill="#858585"/><path d="M1639.8 216L1645.8 229L1633.8 229Z" fill="#858585"/><path d="M1652.3 223.8L1658.3 236.8L1646.3 236.8Z" fill="#858585"/><path d="M1664.8 212.6L1670.8 225.6L1658.8 225.6Z" fill="#858585"/><path d="M1677.3 291.3L1683.4 304.3L1671.3 304.3Z" fill="#858585"/><path d="M1689.9 369.9L1695.9 382.9L1683.8 382.9Z" fill="#858585"/><path d="M1702.4 273.3L1708.4 286.3L1696.4 286.3Z" fill="#858585"/><path d="M1714.9 228.3L1720.9 241.3L1708.9 241.3Z" fill="#858585"/><path d="M1727.4 247.4L1733.4 260.4L1721.4 260.4Z" fill="#858585"/><path d="M1739.9 199.1L1745.9 212.1L1733.9 212.1Z" fill="#858585"/><path d="M1752.5 214.8L1758.5 227.8L1746.4 227.8Z" fill="#858585"/><path d="M1765 226.1L1771 239.1L1759 239.1Z" fill="#858585"/><path d="M1777.5 205.9L1783.5 218.9L1771.5 218.9Z" fill="#858585"/><path d="M1790 262L1796 275L1784 275Z" fill="#858585"/><path d="M1802.5 228.3L1808.5 241.3L1796.5 241.3Z" fill="#858585"/><path d="M1815 250.8L1821.1 263.8L1809 263.8Z" fill="#858585"/><path d="M1827.6 232.8L1833.6 245.8L1821.6 245.8Z" fill="#858585"/><path d="M1840.1 237.3L1846.1 250.3L1834.1 250.3Z" fill="#858585"/><path d="M1852.6 264.3L1858.6 277.3L1846.6 277.3Z" fill="#858585"/><path d="M1865.1 271L1871.1 284L1859.1 284Z" fill="#858585"/><path d="M1877.6 331.7L1883.7 344.7L1871.6 344.7Z" fill="#858585"/></g><g><path d="M1089 129.2L1101.5 165.2M1101.5 165.2L1114 183.1M1114 183.1L1126.5 275.3M1126.5 275.3L1139 313.5M1139 313.5L1151.6 348.3M1151.6 348.3L1164.1 378.7M1164.1 378.7L1176.6 358.4M1176.6 358.4L1189.1 339.3M1189.1 339.3L1201.6 376.4M1201.6 376.4L1214.1 436M1214.1 436L1226.7 486.5M1226.7 486.5L1239.2 331.5M1239.2 331.5L1251.7 378.7M1251.7 378.7L1264.2 316.9M1264.2 316.9L1276.7 349.4M1276.7 349.4L1289.3 383.1M1289.3 383.1L1301.8 342.7M1301.8 342.7L1314.3 297.8M1314.3 297.8L1326.8 331.5M1326.8 331.5L1339.3 403.4M1339.3 403.4L1351.9 434.8M1351.9 434.8L1364.4 246.1M1364.4 246.1L1376.9 255.1M1376.9 255.1L1389.4 232.6M1389.4 232.6L1401.9 205.6M1401.9 205.6L1414.4 153.9M1414.4 153.9L1427 167.4M1427 167.4L1439.5 214.6M1439.5 214.6L1452 223.6M1452 223.6L1464.5 203.4M1464.5 203.4L1477 193.3M1477 193.3L1489.6 234.8M1489.6 234.8L1502.1 255.1M1502.1 255.1L1514.6 259.6M1514.6 259.6L1527.1 279.8M1527.1 279.8L1539.6 241.6M1539.6 241.6L1552.2 270.8M1552.2 270.8L1564.7 243.8M1564.7 243.8L1577.2 257.3M1577.2 257.3L1589.7 255.1M1589.7 255.1L1602.2 237.1M1602.2 237.1L1614.7 300M1614.7 300L1627.3 367.4M1627.3 367.4L1639.8 286.5M1639.8 286.5L1652.3 338.2M1652.3 338.2L1664.8 277.5M1664.8 277.5L1677.3 360.7M1677.3 360.7L1689.9 378.7M1689.9 378.7L1702.4 311.2M1702.4 311.2L1714.9 338.2M1714.9 338.2L1727.4 331.5M1727.4 331.5L1739.9 279.8M1739.9 279.8L1752.5 273M1752.5 273L1765 310.1M1765 310.1L1777.5 293.3M1777.5 293.3L1790 351.7M1790 351.7L1802.5 320.2M1802.5 320.2L1815 341.6M1815 341.6L1827.6 258.4M1827.6 258.4L1840.1 297.8M1840.1 297.8L1852.6 292.1M1852.6 292.1L1865.1 339.3M1865.1 339.3L1877.6 315.7" fill="none" stroke="#4a4a4a" stroke-width="3.8" stroke-dasharray="15 12.5" stroke-linejoin="round" stroke-linecap="butt"/><rect x="1083.2" y="122.9" width="11.4" height="12.6" fill="#4a4a4a"/><path d="M1083.2 122.9L1094.7 135.5M1094.7 122.9L1083.2 135.5" stroke="#2e2e2e" stroke-width="1.3" fill="none"/><rect x="1095.8" y="158.9" width="11.4" height="12.6" fill="#4a4a4a"/><path d="M1095.8 158.9L1107.2 171.5M1107.2 158.9L1095.8 171.5" stroke="#2e2e2e" stroke-width="1.3" fill="none"/><rect x="1108.3" y="176.8" width="11.4" height="12.6" fill="#4a4a4a"/><path d="M1108.3 176.8L1119.7 189.4M1119.7 176.8L1108.3 189.4" stroke="#2e2e2e" stroke-width="1.3" fill="none"/><rect x="1120.8" y="269" width="11.4" height="12.6" fill="#4a4a4a"/><path d="M1120.8 269L1132.2 281.6M1132.2 269L1120.8 281.6" stroke="#2e2e2e" stroke-width="1.3" fill="none"/><rect x="1133.3" y="307.2" width="11.4" height="12.6" fill="#4a4a4a"/><path d="M1133.3 307.2L1144.8 319.8M1144.8 307.2L1133.3 319.8" stroke="#2e2e2e" stroke-width="1.3" fill="none"/><rect x="1145.8" y="342" width="11.4" height="12.6" fill="#4a4a4a"/><path d="M1145.8 342L1157.3 354.6M1157.3 342L1145.8 354.6" stroke="#2e2e2e" stroke-width="1.3" fill="none"/><rect x="1158.3" y="372.4" width="11.4" height="12.6" fill="#4a4a4a"/><path d="M1158.3 372.4L1169.8 385M1169.8 372.4L1158.3 385" stroke="#2e2e2e" stroke-width="1.3" fill="none"/><rect x="1170.9" y="352.1" width="11.4" height="12.6" fill="#4a4a4a"/><path d="M1170.9 352.1L1182.3 364.7M1182.3 352.1L1170.9 364.7" stroke="#2e2e2e" stroke-width="1.3" fill="none"/><rect x="1183.4" y="333" width="11.4" height="12.6" fill="#4a4a4a"/><path d="M1183.4 333L1194.8 345.6M1194.8 333L1183.4 345.6" stroke="#2e2e2e" stroke-width="1.3" fill="none"/><rect x="1195.9" y="370.1" width="11.4" height="12.6" fill="#4a4a4a"/><path d="M1195.9 370.1L1207.4 382.7M1207.4 370.1L1195.9 382.7" stroke="#2e2e2e" stroke-width="1.3" fill="none"/><rect x="1208.4" y="429.7" width="11.4" height="12.6" fill="#4a4a4a"/><path d="M1208.4 429.7L1219.9 442.3M1219.9 429.7L1208.4 442.3" stroke="#2e2e2e" stroke-width="1.3" fill="none"/><rect x="1220.9" y="480.2" width="11.4" height="12.6" fill="#4a4a4a"/><path d="M1220.9 480.2L1232.4 492.8M1232.4 480.2L1220.9 492.8" stroke="#2e2e2e" stroke-width="1.3" fill="none"/><rect x="1233.5" y="325.2" width="11.4" height="12.6" fill="#4a4a4a"/><path d="M1233.5 325.2L1244.9 337.8M1244.9 325.2L1233.5 337.8" stroke="#2e2e2e" stroke-width="1.3" fill="none"/><rect x="1246" y="372.4" width="11.4" height="12.6" fill="#4a4a4a"/><path d="M1246 372.4L1257.4 385M1257.4 372.4L1246 385" stroke="#2e2e2e" stroke-width="1.3" fill="none"/><rect x="1258.5" y="310.6" width="11.4" height="12.6" fill="#4a4a4a"/><path d="M1258.5 310.6L1269.9 323.2M1269.9 310.6L1258.5 323.2" stroke="#2e2e2e" stroke-width="1.3" fill="none"/><rect x="1271" y="343.1" width="11.4" height="12.6" fill="#4a4a4a"/><path d="M1271 343.1L1282.5 355.7M1282.5 343.1L1271 355.7" stroke="#2e2e2e" stroke-width="1.3" fill="none"/><rect x="1283.5" y="376.8" width="11.4" height="12.6" fill="#4a4a4a"/><path d="M1283.5 376.8L1295 389.4M1295 376.8L1283.5 389.4" stroke="#2e2e2e" stroke-width="1.3" fill="none"/><rect x="1296.1" y="336.4" width="11.4" height="12.6" fill="#4a4a4a"/><path d="M1296.1 336.4L1307.5 349M1307.5 336.4L1296.1 349" stroke="#2e2e2e" stroke-width="1.3" fill="none"/><rect x="1308.6" y="291.5" width="11.4" height="12.6" fill="#4a4a4a"/><path d="M1308.6 291.5L1320 304.1M1320 291.5L1308.6 304.1" stroke="#2e2e2e" stroke-width="1.3" fill="none"/><rect x="1321.1" y="325.2" width="11.4" height="12.6" fill="#4a4a4a"/><path d="M1321.1 325.2L1332.5 337.8M1332.5 325.2L1321.1 337.8" stroke="#2e2e2e" stroke-width="1.3" fill="none"/><rect x="1333.6" y="397.1" width="11.4" height="12.6" fill="#4a4a4a"/><path d="M1333.6 397.1L1345.1 409.7M1345.1 397.1L1333.6 409.7" stroke="#2e2e2e" stroke-width="1.3" fill="none"/><rect x="1346.1" y="428.5" width="11.4" height="12.6" fill="#4a4a4a"/><path d="M1346.1 428.5L1357.6 441.1M1357.6 428.5L1346.1 441.1" stroke="#2e2e2e" stroke-width="1.3" fill="none"/><rect x="1358.6" y="239.8" width="11.4" height="12.6" fill="#4a4a4a"/><path d="M1358.6 239.8L1370.1 252.4M1370.1 239.8L1358.6 252.4" stroke="#2e2e2e" stroke-width="1.3" fill="none"/><rect x="1371.2" y="248.8" width="11.4" height="12.6" fill="#4a4a4a"/><path d="M1371.2 248.8L1382.6 261.4M1382.6 248.8L1371.2 261.4" stroke="#2e2e2e" stroke-width="1.3" fill="none"/><rect x="1383.7" y="226.3" width="11.4" height="12.6" fill="#4a4a4a"/><path d="M1383.7 226.3L1395.1 238.9M1395.1 226.3L1383.7 238.9" stroke="#2e2e2e" stroke-width="1.3" fill="none"/><rect x="1396.2" y="199.3" width="11.4" height="12.6" fill="#4a4a4a"/><path d="M1396.2 199.3L1407.7 211.9M1407.7 199.3L1396.2 211.9" stroke="#2e2e2e" stroke-width="1.3" fill="none"/><rect x="1408.7" y="147.6" width="11.4" height="12.6" fill="#4a4a4a"/><path d="M1408.7 147.6L1420.2 160.2M1420.2 147.6L1408.7 160.2" stroke="#2e2e2e" stroke-width="1.3" fill="none"/><rect x="1421.2" y="161.1" width="11.4" height="12.6" fill="#4a4a4a"/><path d="M1421.2 161.1L1432.7 173.7M1432.7 161.1L1421.2 173.7" stroke="#2e2e2e" stroke-width="1.3" fill="none"/><rect x="1433.8" y="208.3" width="11.4" height="12.6" fill="#4a4a4a"/><path d="M1433.8 208.3L1445.2 220.9M1445.2 208.3L1433.8 220.9" stroke="#2e2e2e" stroke-width="1.3" fill="none"/><rect x="1446.3" y="217.3" width="11.4" height="12.6" fill="#4a4a4a"/><path d="M1446.3 217.3L1457.7 229.9M1457.7 217.3L1446.3 229.9" stroke="#2e2e2e" stroke-width="1.3" fill="none"/><rect x="1458.8" y="197.1" width="11.4" height="12.6" fill="#4a4a4a"/><path d="M1458.8 197.1L1470.2 209.7M1470.2 197.1L1458.8 209.7" stroke="#2e2e2e" stroke-width="1.3" fill="none"/><rect x="1471.3" y="187" width="11.4" height="12.6" fill="#4a4a4a"/><path d="M1471.3 187L1482.8 199.6M1482.8 187L1471.3 199.6" stroke="#2e2e2e" stroke-width="1.3" fill="none"/><rect x="1483.8" y="228.5" width="11.4" height="12.6" fill="#4a4a4a"/><path d="M1483.8 228.5L1495.3 241.1M1495.3 228.5L1483.8 241.1" stroke="#2e2e2e" stroke-width="1.3" fill="none"/><rect x="1496.4" y="248.8" width="11.4" height="12.6" fill="#4a4a4a"/><path d="M1496.4 248.8L1507.8 261.4M1507.8 248.8L1496.4 261.4" stroke="#2e2e2e" stroke-width="1.3" fill="none"/><rect x="1508.9" y="253.3" width="11.4" height="12.6" fill="#4a4a4a"/><path d="M1508.9 253.3L1520.3 265.9M1520.3 253.3L1508.9 265.9" stroke="#2e2e2e" stroke-width="1.3" fill="none"/><rect x="1521.4" y="273.5" width="11.4" height="12.6" fill="#4a4a4a"/><path d="M1521.4 273.5L1532.8 286.1M1532.8 273.5L1521.4 286.1" stroke="#2e2e2e" stroke-width="1.3" fill="none"/><rect x="1533.9" y="235.3" width="11.4" height="12.6" fill="#4a4a4a"/><path d="M1533.9 235.3L1545.4 247.9M1545.4 235.3L1533.9 247.9" stroke="#2e2e2e" stroke-width="1.3" fill="none"/><rect x="1546.4" y="264.5" width="11.4" height="12.6" fill="#4a4a4a"/><path d="M1546.4 264.5L1557.9 277.1M1557.9 264.5L1546.4 277.1" stroke="#2e2e2e" stroke-width="1.3" fill="none"/><rect x="1558.9" y="237.5" width="11.4" height="12.6" fill="#4a4a4a"/><path d="M1558.9 237.5L1570.4 250.1M1570.4 237.5L1558.9 250.1" stroke="#2e2e2e" stroke-width="1.3" fill="none"/><rect x="1571.5" y="251" width="11.4" height="12.6" fill="#4a4a4a"/><path d="M1571.5 251L1582.9 263.6M1582.9 251L1571.5 263.6" stroke="#2e2e2e" stroke-width="1.3" fill="none"/><rect x="1584" y="248.8" width="11.4" height="12.6" fill="#4a4a4a"/><path d="M1584 248.8L1595.4 261.4M1595.4 248.8L1584 261.4" stroke="#2e2e2e" stroke-width="1.3" fill="none"/><rect x="1596.5" y="230.8" width="11.4" height="12.6" fill="#4a4a4a"/><path d="M1596.5 230.8L1608 243.4M1608 230.8L1596.5 243.4" stroke="#2e2e2e" stroke-width="1.3" fill="none"/><rect x="1609" y="293.7" width="11.4" height="12.6" fill="#4a4a4a"/><path d="M1609 293.7L1620.5 306.3M1620.5 293.7L1609 306.3" stroke="#2e2e2e" stroke-width="1.3" fill="none"/><rect x="1621.5" y="361.1" width="11.4" height="12.6" fill="#4a4a4a"/><path d="M1621.5 361.1L1633 373.7M1633 361.1L1621.5 373.7" stroke="#2e2e2e" stroke-width="1.3" fill="none"/><rect x="1634.1" y="280.2" width="11.4" height="12.6" fill="#4a4a4a"/><path d="M1634.1 280.2L1645.5 292.8M1645.5 280.2L1634.1 292.8" stroke="#2e2e2e" stroke-width="1.3" fill="none"/><rect x="1646.6" y="331.9" width="11.4" height="12.6" fill="#4a4a4a"/><path d="M1646.6 331.9L1658 344.5M1658 331.9L1646.6 344.5" stroke="#2e2e2e" stroke-width="1.3" fill="none"/><rect x="1659.1" y="271.2" width="11.4" height="12.6" fill="#4a4a4a"/><path d="M1659.1 271.2L1670.5 283.8M1670.5 271.2L1659.1 283.8" stroke="#2e2e2e" stroke-width="1.3" fill="none"/><rect x="1671.6" y="354.4" width="11.4" height="12.6" fill="#4a4a4a"/><path d="M1671.6 354.4L1683.1 367M1683.1 354.4L1671.6 367" stroke="#2e2e2e" stroke-width="1.3" fill="none"/><rect x="1684.1" y="372.4" width="11.4" height="12.6" fill="#4a4a4a"/><path d="M1684.1 372.4L1695.6 385M1695.6 372.4L1684.1 385" stroke="#2e2e2e" stroke-width="1.3" fill="none"/><rect x="1696.7" y="304.9" width="11.4" height="12.6" fill="#4a4a4a"/><path d="M1696.7 304.9L1708.1 317.5M1708.1 304.9L1696.7 317.5" stroke="#2e2e2e" stroke-width="1.3" fill="none"/><rect x="1709.2" y="331.9" width="11.4" height="12.6" fill="#4a4a4a"/><path d="M1709.2 331.9L1720.6 344.5M1720.6 331.9L1709.2 344.5" stroke="#2e2e2e" stroke-width="1.3" fill="none"/><rect x="1721.7" y="325.2" width="11.4" height="12.6" fill="#4a4a4a"/><path d="M1721.7 325.2L1733.1 337.8M1733.1 325.2L1721.7 337.8" stroke="#2e2e2e" stroke-width="1.3" fill="none"/><rect x="1734.2" y="273.5" width="11.4" height="12.6" fill="#4a4a4a"/><path d="M1734.2 273.5L1745.7 286.1M1745.7 273.5L1734.2 286.1" stroke="#2e2e2e" stroke-width="1.3" fill="none"/><rect x="1746.7" y="266.7" width="11.4" height="12.6" fill="#4a4a4a"/><path d="M1746.7 266.7L1758.2 279.3M1758.2 266.7L1746.7 279.3" stroke="#2e2e2e" stroke-width="1.3" fill="none"/><rect x="1759.2" y="303.8" width="11.4" height="12.6" fill="#4a4a4a"/><path d="M1759.2 303.8L1770.7 316.4M1770.7 303.8L1759.2 316.4" stroke="#2e2e2e" stroke-width="1.3" fill="none"/><rect x="1771.8" y="287" width="11.4" height="12.6" fill="#4a4a4a"/><path d="M1771.8 287L1783.2 299.6M1783.2 287L1771.8 299.6" stroke="#2e2e2e" stroke-width="1.3" fill="none"/><rect x="1784.3" y="345.4" width="11.4" height="12.6" fill="#4a4a4a"/><path d="M1784.3 345.4L1795.7 358M1795.7 345.4L1784.3 358" stroke="#2e2e2e" stroke-width="1.3" fill="none"/><rect x="1796.8" y="313.9" width="11.4" height="12.6" fill="#4a4a4a"/><path d="M1796.8 313.9L1808.3 326.5M1808.3 313.9L1796.8 326.5" stroke="#2e2e2e" stroke-width="1.3" fill="none"/><rect x="1809.3" y="335.3" width="11.4" height="12.6" fill="#4a4a4a"/><path d="M1809.3 335.3L1820.8 347.9M1820.8 335.3L1809.3 347.9" stroke="#2e2e2e" stroke-width="1.3" fill="none"/><rect x="1821.8" y="252.1" width="11.4" height="12.6" fill="#4a4a4a"/><path d="M1821.8 252.1L1833.3 264.7M1833.3 252.1L1821.8 264.7" stroke="#2e2e2e" stroke-width="1.3" fill="none"/><rect x="1834.4" y="291.5" width="11.4" height="12.6" fill="#4a4a4a"/><path d="M1834.4 291.5L1845.8 304.1M1845.8 291.5L1834.4 304.1" stroke="#2e2e2e" stroke-width="1.3" fill="none"/><rect x="1846.9" y="285.8" width="11.4" height="12.6" fill="#4a4a4a"/><path d="M1846.9 285.8L1858.3 298.4M1858.3 285.8L1846.9 298.4" stroke="#2e2e2e" stroke-width="1.3" fill="none"/><rect x="1859.4" y="333" width="11.4" height="12.6" fill="#4a4a4a"/><path d="M1859.4 333L1870.8 345.6M1870.8 333L1859.4 345.6" stroke="#2e2e2e" stroke-width="1.3" fill="none"/><rect x="1871.9" y="309.4" width="11.4" height="12.6" fill="#4a4a4a"/><path d="M1871.9 309.4L1883.4 322M1883.4 309.4L1871.9 322" stroke="#2e2e2e" stroke-width="1.3" fill="none"/></g><g><path d="M1089 120.2L1101.5 162.9L1114 178.7L1126.5 194.4L1139 225.8L1151.6 255.1L1164.1 260.7L1176.6 248.3L1189.1 244.9L1201.6 264L1214.1 279.8L1226.7 267.4L1239.2 198.9L1251.7 214.6L1264.2 179.8L1276.7 234.8L1289.3 207.9L1301.8 201.1L1314.3 184.3L1326.8 300L1339.3 414.6L1351.9 320.2L1364.4 156.2L1376.9 175.3L1389.4 175.3L1401.9 167.4L1414.4 129.2L1427 121.3L1439.5 169.7L1452 167.4L1464.5 186.5L1477 147.2L1489.6 187.6L1502.1 153.9L1514.6 185.4L1527.1 210.1L1539.6 197.8L1552.2 194.4L1564.7 225.8L1577.2 210.1L1589.7 200L1602.2 213.5L1614.7 186.5L1627.3 175.3L1639.8 165.2L1652.3 207.9L1664.8 206.7L1677.3 259.6L1689.9 257.3L1702.4 211.2L1714.9 186.5L1727.4 196.6L1739.9 183.1L1752.5 216.9L1765 223.6L1777.5 206.7L1790 270.8L1802.5 198.9L1815 282L1827.6 206.7L1840.1 206.7L1852.6 246.1L1865.1 265.2L1877.6 262.9" fill="none" stroke="#000000" stroke-width="3.8" stroke-linejoin="round" stroke-linecap="butt"/><path d="M1084.3 115.3L1093.6 125.1M1093.6 115.3L1084.3 125.1M1089 115.3L1089 125.1" stroke="#000000" stroke-width="1.15" fill="none"/><path d="M1096.9 158L1106.1 167.8M1106.1 158L1096.9 167.8M1101.5 158L1101.5 167.8" stroke="#000000" stroke-width="1.15" fill="none"/><path d="M1109.4 173.8L1118.6 183.6M1118.6 173.8L1109.4 183.6M1114 173.8L1114 183.6" stroke="#000000" stroke-width="1.15" fill="none"/><path d="M1121.9 189.5L1131.1 199.3M1131.1 189.5L1121.9 199.3M1126.5 189.5L1126.5 199.3" stroke="#000000" stroke-width="1.15" fill="none"/><path d="M1134.4 220.9L1143.7 230.7M1143.7 220.9L1134.4 230.7M1139 220.9L1139 230.7" stroke="#000000" stroke-width="1.15" fill="none"/><path d="M1146.9 250.2L1156.2 260M1156.2 250.2L1146.9 260M1151.6 250.2L1151.6 260" stroke="#000000" stroke-width="1.15" fill="none"/><path d="M1159.4 255.8L1168.7 265.6M1168.7 255.8L1159.4 265.6M1164.1 255.8L1164.1 265.6" stroke="#000000" stroke-width="1.15" fill="none"/><path d="M1172 243.4L1181.2 253.2M1181.2 243.4L1172 253.2M1176.6 243.4L1176.6 253.2" stroke="#000000" stroke-width="1.15" fill="none"/><path d="M1184.5 240L1193.7 249.8M1193.7 240L1184.5 249.8M1189.1 240L1189.1 249.8" stroke="#000000" stroke-width="1.15" fill="none"/><path d="M1197 259.1L1206.3 268.9M1206.3 259.1L1197 268.9M1201.6 259.1L1201.6 268.9" stroke="#000000" stroke-width="1.15" fill="none"/><path d="M1209.5 274.9L1218.8 284.7M1218.8 274.9L1209.5 284.7M1214.1 274.9L1214.1 284.7" stroke="#000000" stroke-width="1.15" fill="none"/><path d="M1222 262.5L1231.3 272.3M1231.3 262.5L1222 272.3M1226.7 262.5L1226.7 272.3" stroke="#000000" stroke-width="1.15" fill="none"/><path d="M1234.6 194L1243.8 203.8M1243.8 194L1234.6 203.8M1239.2 194L1239.2 203.8" stroke="#000000" stroke-width="1.15" fill="none"/><path d="M1247.1 209.7L1256.3 219.5M1256.3 209.7L1247.1 219.5M1251.7 209.7L1251.7 219.5" stroke="#000000" stroke-width="1.15" fill="none"/><path d="M1259.6 174.9L1268.8 184.7M1268.8 174.9L1259.6 184.7M1264.2 174.9L1264.2 184.7" stroke="#000000" stroke-width="1.15" fill="none"/><path d="M1272.1 229.9L1281.4 239.7M1281.4 229.9L1272.1 239.7M1276.7 229.9L1276.7 239.7" stroke="#000000" stroke-width="1.15" fill="none"/><path d="M1284.6 203L1293.9 212.8M1293.9 203L1284.6 212.8M1289.3 203L1289.3 212.8" stroke="#000000" stroke-width="1.15" fill="none"/><path d="M1297.2 196.2L1306.4 206M1306.4 196.2L1297.2 206M1301.8 196.2L1301.8 206" stroke="#000000" stroke-width="1.15" fill="none"/><path d="M1309.7 179.4L1318.9 189.2M1318.9 179.4L1309.7 189.2M1314.3 179.4L1314.3 189.2" stroke="#000000" stroke-width="1.15" fill="none"/><path d="M1322.2 295.1L1331.4 304.9M1331.4 295.1L1322.2 304.9M1326.8 295.1L1326.8 304.9" stroke="#000000" stroke-width="1.15" fill="none"/><path d="M1334.7 409.7L1344 419.5M1344 409.7L1334.7 419.5M1339.3 409.7L1339.3 419.5" stroke="#000000" stroke-width="1.15" fill="none"/><path d="M1347.2 315.3L1356.5 325.1M1356.5 315.3L1347.2 325.1M1351.9 315.3L1351.9 325.1" stroke="#000000" stroke-width="1.15" fill="none"/><path d="M1359.7 151.3L1369 161.1M1369 151.3L1359.7 161.1M1364.4 151.3L1364.4 161.1" stroke="#000000" stroke-width="1.15" fill="none"/><path d="M1372.3 170.4L1381.5 180.2M1381.5 170.4L1372.3 180.2M1376.9 170.4L1376.9 180.2" stroke="#000000" stroke-width="1.15" fill="none"/><path d="M1384.8 170.4L1394 180.2M1394 170.4L1384.8 180.2M1389.4 170.4L1389.4 180.2" stroke="#000000" stroke-width="1.15" fill="none"/><path d="M1397.3 162.5L1406.6 172.3M1406.6 162.5L1397.3 172.3M1401.9 162.5L1401.9 172.3" stroke="#000000" stroke-width="1.15" fill="none"/><path d="M1409.8 124.3L1419.1 134.1M1419.1 124.3L1409.8 134.1M1414.4 124.3L1414.4 134.1" stroke="#000000" stroke-width="1.15" fill="none"/><path d="M1422.3 116.4L1431.6 126.2M1431.6 116.4L1422.3 126.2M1427 116.4L1427 126.2" stroke="#000000" stroke-width="1.15" fill="none"/><path d="M1434.9 164.8L1444.1 174.6M1444.1 164.8L1434.9 174.6M1439.5 164.8L1439.5 174.6" stroke="#000000" stroke-width="1.15" fill="none"/><path d="M1447.4 162.5L1456.6 172.3M1456.6 162.5L1447.4 172.3M1452 162.5L1452 172.3" stroke="#000000" stroke-width="1.15" fill="none"/><path d="M1459.9 181.6L1469.1 191.4M1469.1 181.6L1459.9 191.4M1464.5 181.6L1464.5 191.4" stroke="#000000" stroke-width="1.15" fill="none"/><path d="M1472.4 142.3L1481.7 152.1M1481.7 142.3L1472.4 152.1M1477 142.3L1477 152.1" stroke="#000000" stroke-width="1.15" fill="none"/><path d="M1484.9 182.7L1494.2 192.5M1494.2 182.7L1484.9 192.5M1489.6 182.7L1489.6 192.5" stroke="#000000" stroke-width="1.15" fill="none"/><path d="M1497.5 149L1506.7 158.8M1506.7 149L1497.5 158.8M1502.1 149L1502.1 158.8" stroke="#000000" stroke-width="1.15" fill="none"/><path d="M1510 180.5L1519.2 190.3M1519.2 180.5L1510 190.3M1514.6 180.5L1514.6 190.3" stroke="#000000" stroke-width="1.15" fill="none"/><path d="M1522.5 205.2L1531.7 215M1531.7 205.2L1522.5 215M1527.1 205.2L1527.1 215" stroke="#000000" stroke-width="1.15" fill="none"/><path d="M1535 192.9L1544.3 202.7M1544.3 192.9L1535 202.7M1539.6 192.9L1539.6 202.7" stroke="#000000" stroke-width="1.15" fill="none"/><path d="M1547.5 189.5L1556.8 199.3M1556.8 189.5L1547.5 199.3M1552.2 189.5L1552.2 199.3" stroke="#000000" stroke-width="1.15" fill="none"/><path d="M1560 220.9L1569.3 230.7M1569.3 220.9L1560 230.7M1564.7 220.9L1564.7 230.7" stroke="#000000" stroke-width="1.15" fill="none"/><path d="M1572.6 205.2L1581.8 215M1581.8 205.2L1572.6 215M1577.2 205.2L1577.2 215" stroke="#000000" stroke-width="1.15" fill="none"/><path d="M1585.1 195.1L1594.3 204.9M1594.3 195.1L1585.1 204.9M1589.7 195.1L1589.7 204.9" stroke="#000000" stroke-width="1.15" fill="none"/><path d="M1597.6 208.6L1606.9 218.4M1606.9 208.6L1597.6 218.4M1602.2 208.6L1602.2 218.4" stroke="#000000" stroke-width="1.15" fill="none"/><path d="M1610.1 181.6L1619.4 191.4M1619.4 181.6L1610.1 191.4M1614.7 181.6L1614.7 191.4" stroke="#000000" stroke-width="1.15" fill="none"/><path d="M1622.6 170.4L1631.9 180.2M1631.9 170.4L1622.6 180.2M1627.3 170.4L1627.3 180.2" stroke="#000000" stroke-width="1.15" fill="none"/><path d="M1635.2 160.3L1644.4 170.1M1644.4 160.3L1635.2 170.1M1639.8 160.3L1639.8 170.1" stroke="#000000" stroke-width="1.15" fill="none"/><path d="M1647.7 203L1656.9 212.8M1656.9 203L1647.7 212.8M1652.3 203L1652.3 212.8" stroke="#000000" stroke-width="1.15" fill="none"/><path d="M1660.2 201.8L1669.4 211.6M1669.4 201.8L1660.2 211.6M1664.8 201.8L1664.8 211.6" stroke="#000000" stroke-width="1.15" fill="none"/><path d="M1672.7 254.7L1682 264.5M1682 254.7L1672.7 264.5M1677.3 254.7L1677.3 264.5" stroke="#000000" stroke-width="1.15" fill="none"/><path d="M1685.2 252.4L1694.5 262.2M1694.5 252.4L1685.2 262.2M1689.9 252.4L1689.9 262.2" stroke="#000000" stroke-width="1.15" fill="none"/><path d="M1697.8 206.3L1707 216.1M1707 206.3L1697.8 216.1M1702.4 206.3L1702.4 216.1" stroke="#000000" stroke-width="1.15" fill="none"/><path d="M1710.3 181.6L1719.5 191.4M1719.5 181.6L1710.3 191.4M1714.9 181.6L1714.9 191.4" stroke="#000000" stroke-width="1.15" fill="none"/><path d="M1722.8 191.7L1732 201.5M1732 191.7L1722.8 201.5M1727.4 191.7L1727.4 201.5" stroke="#000000" stroke-width="1.15" fill="none"/><path d="M1735.3 178.2L1744.6 188M1744.6 178.2L1735.3 188M1739.9 178.2L1739.9 188" stroke="#000000" stroke-width="1.15" fill="none"/><path d="M1747.8 212L1757.1 221.8M1757.1 212L1747.8 221.8M1752.5 212L1752.5 221.8" stroke="#000000" stroke-width="1.15" fill="none"/><path d="M1760.3 218.7L1769.6 228.5M1769.6 218.7L1760.3 228.5M1765 218.7L1765 228.5" stroke="#000000" stroke-width="1.15" fill="none"/><path d="M1772.9 201.8L1782.1 211.6M1782.1 201.8L1772.9 211.6M1777.5 201.8L1777.5 211.6" stroke="#000000" stroke-width="1.15" fill="none"/><path d="M1785.4 265.9L1794.6 275.7M1794.6 265.9L1785.4 275.7M1790 265.9L1790 275.7" stroke="#000000" stroke-width="1.15" fill="none"/><path d="M1797.9 194L1807.2 203.8M1807.2 194L1797.9 203.8M1802.5 194L1802.5 203.8" stroke="#000000" stroke-width="1.15" fill="none"/><path d="M1810.4 277.1L1819.7 286.9M1819.7 277.1L1810.4 286.9M1815 277.1L1815 286.9" stroke="#000000" stroke-width="1.15" fill="none"/><path d="M1822.9 201.8L1832.2 211.6M1832.2 201.8L1822.9 211.6M1827.6 201.8L1827.6 211.6" stroke="#000000" stroke-width="1.15" fill="none"/><path d="M1835.5 201.8L1844.7 211.6M1844.7 201.8L1835.5 211.6M1840.1 201.8L1840.1 211.6" stroke="#000000" stroke-width="1.15" fill="none"/><path d="M1848 241.2L1857.2 251M1857.2 241.2L1848 251M1852.6 241.2L1852.6 251" stroke="#000000" stroke-width="1.15" fill="none"/><path d="M1860.5 260.3L1869.7 270.1M1869.7 260.3L1860.5 270.1M1865.1 260.3L1865.1 270.1" stroke="#000000" stroke-width="1.15" fill="none"/><path d="M1873 258L1882.3 267.8M1882.3 258L1873 267.8M1877.6 258L1877.6 267.8" stroke="#000000" stroke-width="1.15" fill="none"/></g><g><path d="M1089 131.5L1101.5 164M1101.5 164L1114 179.8M1114 179.8L1126.5 194.4M1126.5 194.4L1139 246.1M1139 246.1L1151.6 280.9M1151.6 280.9L1164.1 273M1164.1 273L1176.6 275.3M1176.6 275.3L1189.1 278.7M1189.1 278.7L1201.6 285.4M1201.6 285.4L1214.1 293.3M1214.1 293.3L1226.7 286.5M1226.7 286.5L1239.2 223.6M1239.2 223.6L1251.7 236M1251.7 236L1264.2 221.3M1264.2 221.3L1276.7 260.7M1276.7 260.7L1289.3 230.3M1289.3 230.3L1301.8 216.9M1301.8 216.9L1314.3 200M1314.3 200L1326.8 216.9M1326.8 216.9L1339.3 249.4M1339.3 249.4L1351.9 265.2M1351.9 265.2L1364.4 193.3M1364.4 193.3L1376.9 207.9M1376.9 207.9L1389.4 212.4M1389.4 212.4L1401.9 223.6M1401.9 223.6L1414.4 167.4M1414.4 167.4L1427 185.4M1427 185.4L1439.5 232.6M1439.5 232.6L1452 236M1452 236L1464.5 244.9M1464.5 244.9L1477 227M1477 227L1489.6 240.4M1489.6 240.4L1502.1 207.9M1502.1 207.9L1514.6 218M1514.6 218L1527.1 264M1527.1 264L1539.6 249.4M1539.6 249.4L1552.2 256.2M1552.2 256.2L1564.7 283.1M1564.7 283.1L1577.2 234.8M1577.2 234.8L1589.7 295.5M1589.7 295.5L1602.2 286.5M1602.2 286.5L1614.7 264M1614.7 264L1627.3 292.1M1627.3 292.1L1639.8 265.2M1639.8 265.2L1652.3 286.5M1652.3 286.5L1664.8 253.9M1664.8 253.9L1677.3 325.8M1677.3 325.8L1689.9 325.8M1689.9 325.8L1702.4 259.6M1702.4 259.6L1714.9 248.3M1714.9 248.3L1727.4 274.2M1727.4 274.2L1739.9 246.1M1739.9 246.1L1752.5 227M1752.5 227L1765 271.9M1765 271.9L1777.5 251.7M1777.5 251.7L1790 275.3M1790 275.3L1802.5 250.6M1802.5 250.6L1815 253.9M1815 253.9L1827.6 237.1M1827.6 237.1L1840.1 231.5M1840.1 231.5L1852.6 255.1M1852.6 255.1L1865.1 378.7M1865.1 378.7L1877.6 328.1" fill="none" stroke="#000000" stroke-width="3.9" stroke-dasharray="31 11" stroke-linejoin="round" stroke-linecap="butt"/><ellipse cx="1089" cy="131.5" rx="7.1" ry="8.8" fill="#000000"/><ellipse cx="1101.5" cy="164" rx="7.1" ry="8.8" fill="#000000"/><ellipse cx="1114" cy="179.8" rx="7.1" ry="8.8" fill="#000000"/><ellipse cx="1126.5" cy="194.4" rx="7.1" ry="8.8" fill="#000000"/><ellipse cx="1139" cy="246.1" rx="7.1" ry="8.8" fill="#000000"/><ellipse cx="1151.6" cy="280.9" rx="7.1" ry="8.8" fill="#000000"/><ellipse cx="1164.1" cy="273" rx="7.1" ry="8.8" fill="#000000"/><ellipse cx="1176.6" cy="275.3" rx="7.1" ry="8.8" fill="#000000"/><ellipse cx="1189.1" cy="278.7" rx="7.1" ry="8.8" fill="#000000"/><ellipse cx="1201.6" cy="285.4" rx="7.1" ry="8.8" fill="#000000"/><ellipse cx="1214.1" cy="293.3" rx="7.1" ry="8.8" fill="#000000"/><ellipse cx="1226.7" cy="286.5" rx="7.1" ry="8.8" fill="#000000"/><ellipse cx="1239.2" cy="223.6" rx="7.1" ry="8.8" fill="#000000"/><ellipse cx="1251.7" cy="236" rx="7.1" ry="8.8" fill="#000000"/><ellipse cx="1264.2" cy="221.3" rx="7.1" ry="8.8" fill="#000000"/><ellipse cx="1276.7" cy="260.7" rx="7.1" ry="8.8" fill="#000000"/><ellipse cx="1289.3" cy="230.3" rx="7.1" ry="8.8" fill="#000000"/><ellipse cx="1301.8" cy="216.9" rx="7.1" ry="8.8" fill="#000000"/><ellipse cx="1314.3" cy="200" rx="7.1" ry="8.8" fill="#000000"/><ellipse cx="1326.8" cy="216.9" rx="7.1" ry="8.8" fill="#000000"/><ellipse cx="1339.3" cy="249.4" rx="7.1" ry="8.8" fill="#000000"/><ellipse cx="1351.9" cy="265.2" rx="7.1" ry="8.8" fill="#000000"/><ellipse cx="1364.4" cy="193.3" rx="7.1" ry="8.8" fill="#000000"/><ellipse cx="1376.9" cy="207.9" rx="7.1" ry="8.8" fill="#000000"/><ellipse cx="1389.4" cy="212.4" rx="7.1" ry="8.8" fill="#000000"/><ellipse cx="1401.9" cy="223.6" rx="7.1" ry="8.8" fill="#000000"/><ellipse cx="1414.4" cy="167.4" rx="7.1" ry="8.8" fill="#000000"/><ellipse cx="1427" cy="185.4" rx="7.1" ry="8.8" fill="#000000"/><ellipse cx="1439.5" cy="232.6" rx="7.1" ry="8.8" fill="#000000"/><ellipse cx="1452" cy="236" rx="7.1" ry="8.8" fill="#000000"/><ellipse cx="1464.5" cy="244.9" rx="7.1" ry="8.8" fill="#000000"/><ellipse cx="1477" cy="227" rx="7.1" ry="8.8" fill="#000000"/><ellipse cx="1489.6" cy="240.4" rx="7.1" ry="8.8" fill="#000000"/><ellipse cx="1502.1" cy="207.9" rx="7.1" ry="8.8" fill="#000000"/><ellipse cx="1514.6" cy="218" rx="7.1" ry="8.8" fill="#000000"/><ellipse cx="1527.1" cy="264" rx="7.1" ry="8.8" fill="#000000"/><ellipse cx="1539.6" cy="249.4" rx="7.1" ry="8.8" fill="#000000"/><ellipse cx="1552.2" cy="256.2" rx="7.1" ry="8.8" fill="#000000"/><ellipse cx="1564.7" cy="283.1" rx="7.1" ry="8.8" fill="#000000"/><ellipse cx="1577.2" cy="234.8" rx="7.1" ry="8.8" fill="#000000"/><ellipse cx="1589.7" cy="295.5" rx="7.1" ry="8.8" fill="#000000"/><ellipse cx="1602.2" cy="286.5" rx="7.1" ry="8.8" fill="#000000"/><ellipse cx="1614.7" cy="264" rx="7.1" ry="8.8" fill="#000000"/><ellipse cx="1627.3" cy="292.1" rx="7.1" ry="8.8" fill="#000000"/><ellipse cx="1639.8" cy="265.2" rx="7.1" ry="8.8" fill="#000000"/><ellipse cx="1652.3" cy="286.5" rx="7.1" ry="8.8" fill="#000000"/><ellipse cx="1664.8" cy="253.9" rx="7.1" ry="8.8" fill="#000000"/><ellipse cx="1677.3" cy="325.8" rx="7.1" ry="8.8" fill="#000000"/><ellipse cx="1689.9" cy="325.8" rx="7.1" ry="8.8" fill="#000000"/><ellipse cx="1702.4" cy="259.6" rx="7.1" ry="8.8" fill="#000000"/><ellipse cx="1714.9" cy="248.3" rx="7.1" ry="8.8" fill="#000000"/><ellipse cx="1727.4" cy="274.2" rx="7.1" ry="8.8" fill="#000000"/><ellipse cx="1739.9" cy="246.1" rx="7.1" ry="8.8" fill="#000000"/><ellipse cx="1752.5" cy="227" rx="7.1" ry="8.8" fill="#000000"/><ellipse cx="1765" cy="271.9" rx="7.1" ry="8.8" fill="#000000"/><ellipse cx="1777.5" cy="251.7" rx="7.1" ry="8.8" fill="#000000"/><ellipse cx="1790" cy="275.3" rx="7.1" ry="8.8" fill="#000000"/><ellipse cx="1802.5" cy="250.6" rx="7.1" ry="8.8" fill="#000000"/><ellipse cx="1815" cy="253.9" rx="7.1" ry="8.8" fill="#000000"/><ellipse cx="1827.6" cy="237.1" rx="7.1" ry="8.8" fill="#000000"/><ellipse cx="1840.1" cy="231.5" rx="7.1" ry="8.8" fill="#000000"/><ellipse cx="1852.6" cy="255.1" rx="7.1" ry="8.8" fill="#000000"/><ellipse cx="1865.1" cy="378.7" rx="7.1" ry="8.8" fill="#000000"/><ellipse cx="1877.6" cy="328.1" rx="7.1" ry="8.8" fill="#000000"/></g></g>
<g id="chartC"><path d="M167.8 639.5V1130M167.8 1129V1138.5M180 1129V1138.5M192.2 1129V1138.5M204.4 1129V1138.5M216.6 1129V1138.5M228.8 1129V1138.5M241 1129V1138.5M253.2 1129V1138.5M265.5 1129V1138.5M277.7 1129V1138.5M289.9 1129V1138.5M302.1 1129V1138.5M314.3 1129V1138.5M326.5 1129V1138.5M338.7 1129V1138.5M350.9 1129V1138.5M363.1 1129V1138.5M375.3 1129V1138.5M387.5 1129V1138.5M399.7 1129V1138.5M411.9 1129V1138.5M424.1 1129V1138.5M436.3 1129V1138.5M448.5 1129V1138.5M460.8 1129V1138.5M473 1129V1138.5M485.2 1129V1138.5M497.4 1129V1138.5M509.6 1129V1138.5M521.8 1129V1138.5M534 1129V1138.5M546.2 1129V1138.5M558.4 1129V1138.5M570.6 1129V1138.5M582.8 1129V1138.5M595 1129V1138.5M607.2 1129V1138.5M619.4 1129V1138.5M631.6 1129V1138.5M643.8 1129V1138.5M656 1129V1138.5M668.3 1129V1138.5M680.5 1129V1138.5M692.7 1129V1138.5M704.9 1129V1138.5M717.1 1129V1138.5M729.3 1129V1138.5M741.5 1129V1138.5M753.7 1129V1138.5M765.9 1129V1138.5M778.1 1129V1138.5M790.3 1129V1138.5M802.5 1129V1138.5M814.7 1129V1138.5M826.9 1129V1138.5M839.1 1129V1138.5M851.4 1129V1138.5M863.6 1129V1138.5M875.8 1129V1138.5M888 1129V1138.5M900.2 1129V1138.5M912.4 1129V1138.5M924.6 1129V1138.5M936.8 1129V1138.5M949 1129V1138.5" stroke="#505050" stroke-width="1.6" fill="none"/><path d="M166.8 1130H950M158.8 639.5H167.8M158.8 700.8H167.8M158.8 762.1H167.8M158.8 823.4H167.8M158.8 884.8H167.8M158.8 946.1H167.8M158.8 1007.4H167.8M158.8 1068.7H167.8M158.8 1130H167.8" stroke="#3c3c3c" stroke-width="1.4" fill="none"/><g fill="#000"><text transform="translate(146 652.1) scale(0.875 1)" font-size="29.8" text-anchor="end">8.6</text><text transform="translate(146 713.41) scale(0.875 1)" font-size="29.8" text-anchor="end">8.5</text><text transform="translate(146 774.73) scale(0.875 1)" font-size="29.8" text-anchor="end">8.4</text><text transform="translate(146 836.04) scale(0.875 1)" font-size="29.8" text-anchor="end">8.3</text><text transform="translate(146 897.35) scale(0.875 1)" font-size="29.8" text-anchor="end">8.2</text><text transform="translate(146 958.66) scale(0.875 1)" font-size="29.8" text-anchor="end">8.1</text><text transform="translate(146 1019.98) scale(0.875 1)" font-size="29.8" text-anchor="end">8.0</text><text transform="translate(146 1081.29) scale(0.875 1)" font-size="29.8" text-anchor="end">7.9</text><text transform="translate(146 1142.6) scale(0.875 1)" font-size="29.8" text-anchor="end">7.8</text><text transform="translate(173.9 1177.8) scale(0.875 1)" font-size="29.8" text-anchor="middle">0</text><text transform="translate(259.35 1177.8) scale(0.875 1)" font-size="29.8" text-anchor="middle">7</text><text transform="translate(344.79 1177.8) scale(0.875 1)" font-size="29.8" text-anchor="middle">14</text><text transform="translate(430.23 1177.8) scale(0.875 1)" font-size="29.8" text-anchor="middle">21</text><text transform="translate(515.68 1177.8) scale(0.875 1)" font-size="29.8" text-anchor="middle">28</text><text transform="translate(601.12 1177.8) scale(0.875 1)" font-size="29.8" text-anchor="middle">35</text><text transform="translate(686.57 1177.8) scale(0.875 1)" font-size="29.8" text-anchor="middle">42</text><text transform="translate(772.01 1177.8) scale(0.875 1)" font-size="29.8" text-anchor="middle">49</text><text transform="translate(857.45 1177.8) scale(0.875 1)" font-size="29.8" text-anchor="middle">56</text><text transform="translate(942.9 1177.8) scale(0.875 1)" font-size="29.8" text-anchor="middle">63</text></g><text transform="translate(97.5 888.6) rotate(-90) scale(1.04 1)" font-size="26.8" text-anchor="middle" font-weight="bold" xml:space="preserve">pH</text><text transform="translate(866 651.6)" font-size="42" text-anchor="middle" font-family="'Liberation Serif', serif">C</text><g><path d="M173.9 678L186.1 728M186.1 728L198.3 785M198.3 785L210.5 909M210.5 909L222.7 934.3M222.7 934.3L234.9 924M234.9 924L247.1 917M247.1 917L259.3 894.7M259.3 894.7L271.6 942.7M271.6 942.7L283.8 944M283.8 944L296 956.2M296 956.2L308.2 985M308.2 985L320.4 930.9M320.4 930.9L332.6 959.6M332.6 959.6L344.8 937M344.8 937L357 930M357 930L369.2 964M369.2 964L381.4 944.4M381.4 944.4L393.6 941M393.6 941L405.8 946.1M405.8 946.1L418 964.6M418 964.6L430.2 961.2M430.2 961.2L442.4 981.5M442.4 981.5L454.6 994.1M454.6 994.1L466.9 971.4M466.9 971.4L479.1 946.1M479.1 946.1L491.3 954.5M491.3 954.5L503.5 974.7M503.5 974.7L515.7 959.6M515.7 959.6L527.9 964.6M527.9 964.6L540.1 917.4M540.1 917.4L552.3 969.7M552.3 969.7L564.5 951.1M564.5 951.1L576.7 964.6M576.7 964.6L588.9 944.4M588.9 944.4L601.1 957.9M601.1 957.9L613.3 944.4M613.3 944.4L625.5 996.6M625.5 996.6L637.7 961.2M637.7 961.2L649.9 944.4M649.9 944.4L662.2 944.4M662.2 944.4L674.4 951.1M674.4 951.1L686.6 1001.7M686.6 1001.7L698.8 979.8M698.8 979.8L711 968M711 968L723.2 984M723.2 984L735.4 964.6M735.4 964.6L747.6 981.5M747.6 981.5L759.8 1001.7M759.8 1001.7L772 1008.4M772 1008.4L784.2 1008.4M784.2 1008.4L796.4 1025.3M796.4 1025.3L808.6 993.3M808.6 993.3L820.8 1021.9M820.8 1021.9L833 1048.9M833 1048.9L845.2 1018.5M845.2 1018.5L857.5 1008.4M857.5 1008.4L869.7 1009.3M869.7 1009.3L881.9 989.9M881.9 989.9L894.1 951.1M894.1 951.1L906.3 1067.4M906.3 1067.4L918.5 1050.6M918.5 1050.6L930.7 1076.7M930.7 1076.7L942.9 1068.3" fill="none" stroke="#595959" stroke-width="3.5" stroke-dasharray="0.01 7.7" stroke-linejoin="round" stroke-linecap="round"/><path d="M173.9 671.6L180 678L173.9 684.4L167.8 678Z" fill="#595959"/><path d="M186.1 721.6L192.2 728L186.1 734.4L180 728Z" fill="#595959"/><path d="M198.3 778.6L204.4 785L198.3 791.4L192.2 785Z" fill="#595959"/><path d="M210.5 902.6L216.6 909L210.5 915.4L204.4 909Z" fill="#595959"/><path d="M222.7 927.9L228.8 934.3L222.7 940.7L216.7 934.3Z" fill="#595959"/><path d="M234.9 917.6L241 924L234.9 930.4L228.9 924Z" fill="#595959"/><path d="M247.1 910.6L253.2 917L247.1 923.4L241.1 917Z" fill="#595959"/><path d="M259.3 888.3L265.4 894.7L259.3 901.1L253.3 894.7Z" fill="#595959"/><path d="M271.6 936.3L277.6 942.7L271.6 949.1L265.5 942.7Z" fill="#595959"/><path d="M283.8 937.6L289.8 944L283.8 950.4L277.7 944Z" fill="#595959"/><path d="M296 949.8L302 956.2L296 962.6L289.9 956.2Z" fill="#595959"/><path d="M308.2 978.6L314.2 985L308.2 991.4L302.1 985Z" fill="#595959"/><path d="M320.4 924.5L326.5 930.9L320.4 937.3L314.3 930.9Z" fill="#595959"/><path d="M332.6 953.2L338.7 959.6L332.6 966L326.5 959.6Z" fill="#595959"/><path d="M344.8 930.6L350.9 937L344.8 943.4L338.7 937Z" fill="#595959"/><path d="M357 923.6L363.1 930L357 936.4L350.9 930Z" fill="#595959"/><path d="M369.2 957.6L375.3 964L369.2 970.4L363.1 964Z" fill="#595959"/><path d="M381.4 938L387.5 944.4L381.4 950.8L375.3 944.4Z" fill="#595959"/><path d="M393.6 934.6L399.7 941L393.6 947.4L387.5 941Z" fill="#595959"/><path d="M405.8 939.7L411.9 946.1L405.8 952.5L399.7 946.1Z" fill="#595959"/><path d="M418 958.2L424.1 964.6L418 971L412 964.6Z" fill="#595959"/><path d="M430.2 954.8L436.3 961.2L430.2 967.6L424.2 961.2Z" fill="#595959"/><path d="M442.4 975.1L448.5 981.5L442.4 987.9L436.4 981.5Z" fill="#595959"/><path d="M454.6 987.7L460.7 994.1L454.6 1000.5L448.6 994.1Z" fill="#595959"/><path d="M466.9 965L472.9 971.4L466.9 977.8L460.8 971.4Z" fill="#595959"/><path d="M479.1 939.7L485.1 946.1L479.1 952.5L473 946.1Z" fill="#595959"/><path d="M491.3 948.1L497.3 954.5L491.3 960.9L485.2 954.5Z" fill="#595959"/><path d="M503.5 968.3L509.5 974.7L503.5 981.1L497.4 974.7Z" fill="#595959"/><path d="M515.7 953.2L521.8 959.6L515.7 966L509.6 959.6Z" fill="#595959"/><path d="M527.9 958.2L534 964.6L527.9 971L521.8 964.6Z" fill="#595959"/><path d="M540.1 911L546.2 917.4L540.1 923.8L534 917.4Z" fill="#595959"/><path d="M552.3 963.3L558.4 969.7L552.3 976.1L546.2 969.7Z" fill="#595959"/><path d="M564.5 944.7L570.6 951.1L564.5 957.5L558.4 951.1Z" fill="#595959"/><path d="M576.7 958.2L582.8 964.6L576.7 971L570.6 964.6Z" fill="#595959"/><path d="M588.9 938L595 944.4L588.9 950.8L582.8 944.4Z" fill="#595959"/><path d="M601.1 951.5L607.2 957.9L601.1 964.3L595 957.9Z" fill="#595959"/><path d="M613.3 938L619.4 944.4L613.3 950.8L607.3 944.4Z" fill="#595959"/><path d="M625.5 990.2L631.6 996.6L625.5 1003L619.5 996.6Z" fill="#595959"/><path d="M637.7 954.8L643.8 961.2L637.7 967.6L631.7 961.2Z" fill="#595959"/><path d="M649.9 938L656 944.4L649.9 950.8L643.9 944.4Z" fill="#595959"/><path d="M662.2 938L668.2 944.4L662.2 950.8L656.1 944.4Z" fill="#595959"/><path d="M674.4 944.7L680.4 951.1L674.4 957.5L668.3 951.1Z" fill="#595959"/><path d="M686.6 995.3L692.6 1001.7L686.6 1008.1L680.5 1001.7Z" fill="#595959"/><path d="M698.8 973.4L704.8 979.8L698.8 986.2L692.7 979.8Z" fill="#595959"/><path d="M711 961.6L717.1 968L711 974.4L704.9 968Z" fill="#595959"/><path d="M723.2 977.6L729.3 984L723.2 990.4L717.1 984Z" fill="#595959"/><path d="M735.4 958.2L741.5 964.6L735.4 971L729.3 964.6Z" fill="#595959"/><path d="M747.6 975.1L753.7 981.5L747.6 987.9L741.5 981.5Z" fill="#595959"/><path d="M759.8 995.3L765.9 1001.7L759.8 1008.1L753.7 1001.7Z" fill="#595959"/><path d="M772 1002L778.1 1008.4L772 1014.8L765.9 1008.4Z" fill="#595959"/><path d="M784.2 1002L790.3 1008.4L784.2 1014.8L778.1 1008.4Z" fill="#595959"/><path d="M796.4 1018.9L802.5 1025.3L796.4 1031.7L790.3 1025.3Z" fill="#595959"/><path d="M808.6 986.9L814.7 993.3L808.6 999.7L802.6 993.3Z" fill="#595959"/><path d="M820.8 1015.5L826.9 1021.9L820.8 1028.3L814.8 1021.9Z" fill="#595959"/><path d="M833 1042.5L839.1 1048.9L833 1055.3L827 1048.9Z" fill="#595959"/><path d="M845.2 1012.1L851.3 1018.5L845.2 1024.9L839.2 1018.5Z" fill="#595959"/><path d="M857.5 1002L863.5 1008.4L857.5 1014.8L851.4 1008.4Z" fill="#595959"/><path d="M869.7 1002.9L875.7 1009.3L869.7 1015.7L863.6 1009.3Z" fill="#595959"/><path d="M881.9 983.5L887.9 989.9L881.9 996.3L875.8 989.9Z" fill="#595959"/><path d="M894.1 944.7L900.1 951.1L894.1 957.5L888 951.1Z" fill="#595959"/><path d="M906.3 1061L912.4 1067.4L906.3 1073.8L900.2 1067.4Z" fill="#595959"/><path d="M918.5 1044.2L924.6 1050.6L918.5 1057L912.4 1050.6Z" fill="#595959"/><path d="M930.7 1070.3L936.8 1076.7L930.7 1083.1L924.6 1076.7Z" fill="#595959"/><path d="M942.9 1061.9L949 1068.3L942.9 1074.7L936.8 1068.3Z" fill="#595959"/></g><g><path d="M173.9 672L186.1 722M186.1 722L198.3 755M198.3 755L210.5 946.9M210.5 946.9L222.7 964.6M222.7 964.6L234.9 972.2M234.9 972.2L247.1 917M247.1 917L259.3 914M259.3 914L271.6 1042.1M271.6 1042.1L283.8 941.9M283.8 941.9L296 966.3M296 966.3L308.2 925.8M308.2 925.8L320.4 944.4M320.4 944.4L332.6 974.7M332.6 974.7L344.8 962.1M344.8 962.1L357 905M357 905L369.2 966M369.2 966L381.4 954.5M381.4 954.5L393.6 930.9M393.6 930.9L405.8 920.8M405.8 920.8L418 969.7M418 969.7L430.2 951.1M430.2 951.1L442.4 952.8M442.4 952.8L454.6 1010.1M454.6 1010.1L466.9 962.9M466.9 962.9L479.1 914M479.1 914L491.3 917.4M491.3 917.4L503.5 920.8M503.5 920.8L515.7 1003.4M515.7 1003.4L527.9 929.2M527.9 929.2L540.1 909M540.1 909L552.3 907.3M552.3 907.3L564.5 932.6M564.5 932.6L576.7 927.5M576.7 927.5L588.9 930.9M588.9 930.9L601.1 936M601.1 936L613.3 895.5M613.3 895.5L625.5 978.1M625.5 978.1L637.7 964.6M637.7 964.6L649.9 910.7M649.9 910.7L662.2 947.8M662.2 947.8L674.4 954.5M674.4 954.5L686.6 1001.7M686.6 1001.7L698.8 964.6M698.8 964.6L711 954.5M711 954.5L723.2 957.9M723.2 957.9L735.4 944.4M735.4 944.4L747.6 961.2M747.6 961.2L759.8 973M759.8 973L772 984.8M772 984.8L784.2 962.9M784.2 962.9L796.4 1005.9M796.4 1005.9L808.6 925M808.6 925L820.8 971.4M820.8 971.4L833 974.7M833 974.7L845.2 979.8M845.2 979.8L857.5 976.4M857.5 976.4L869.7 978.1M869.7 978.1L881.9 951.1M881.9 951.1L894.1 892.1M894.1 892.1L906.3 1044.7M906.3 1044.7L918.5 1001.7M918.5 1001.7L930.7 1060.7M930.7 1060.7L942.9 1043.8" fill="none" stroke="#a0a0a0" stroke-width="2" stroke-dasharray="6.3 2.8" stroke-linejoin="round" stroke-linecap="butt"/><rect x="168.5" y="666.4" width="10.9" height="11.2" fill="#a0a0a0"/><rect x="180.7" y="716.4" width="10.9" height="11.2" fill="#a0a0a0"/><rect x="192.9" y="749.4" width="10.9" height="11.2" fill="#a0a0a0"/><rect x="205.1" y="941.3" width="10.9" height="11.2" fill="#a0a0a0"/><rect x="217.3" y="959" width="10.9" height="11.2" fill="#a0a0a0"/><rect x="229.5" y="966.6" width="10.9" height="11.2" fill="#a0a0a0"/><rect x="241.7" y="911.4" width="10.9" height="11.2" fill="#a0a0a0"/><rect x="253.9" y="908.4" width="10.9" height="11.2" fill="#a0a0a0"/><rect x="266.1" y="1036.5" width="10.9" height="11.2" fill="#a0a0a0"/><rect x="278.3" y="936.3" width="10.9" height="11.2" fill="#a0a0a0"/><rect x="290.5" y="960.7" width="10.9" height="11.2" fill="#a0a0a0"/><rect x="302.7" y="920.2" width="10.9" height="11.2" fill="#a0a0a0"/><rect x="315" y="938.8" width="10.9" height="11.2" fill="#a0a0a0"/><rect x="327.2" y="969.1" width="10.9" height="11.2" fill="#a0a0a0"/><rect x="339.4" y="956.5" width="10.9" height="11.2" fill="#a0a0a0"/><rect x="351.6" y="899.4" width="10.9" height="11.2" fill="#a0a0a0"/><rect x="363.8" y="960.4" width="10.9" height="11.2" fill="#a0a0a0"/><rect x="376" y="948.9" width="10.9" height="11.2" fill="#a0a0a0"/><rect x="388.2" y="925.3" width="10.9" height="11.2" fill="#a0a0a0"/><rect x="400.4" y="915.2" width="10.9" height="11.2" fill="#a0a0a0"/><rect x="412.6" y="964.1" width="10.9" height="11.2" fill="#a0a0a0"/><rect x="424.8" y="945.5" width="10.9" height="11.2" fill="#a0a0a0"/><rect x="437" y="947.2" width="10.9" height="11.2" fill="#a0a0a0"/><rect x="449.2" y="1004.5" width="10.9" height="11.2" fill="#a0a0a0"/><rect x="461.4" y="957.3" width="10.9" height="11.2" fill="#a0a0a0"/><rect x="473.6" y="908.4" width="10.9" height="11.2" fill="#a0a0a0"/><rect x="485.8" y="911.8" width="10.9" height="11.2" fill="#a0a0a0"/><rect x="498" y="915.2" width="10.9" height="11.2" fill="#a0a0a0"/><rect x="510.3" y="997.8" width="10.9" height="11.2" fill="#a0a0a0"/><rect x="522.5" y="923.6" width="10.9" height="11.2" fill="#a0a0a0"/><rect x="534.7" y="903.4" width="10.9" height="11.2" fill="#a0a0a0"/><rect x="546.9" y="901.7" width="10.9" height="11.2" fill="#a0a0a0"/><rect x="559.1" y="927" width="10.9" height="11.2" fill="#a0a0a0"/><rect x="571.3" y="921.9" width="10.9" height="11.2" fill="#a0a0a0"/><rect x="583.5" y="925.3" width="10.9" height="11.2" fill="#a0a0a0"/><rect x="595.7" y="930.4" width="10.9" height="11.2" fill="#a0a0a0"/><rect x="607.9" y="889.9" width="10.9" height="11.2" fill="#a0a0a0"/><rect x="620.1" y="972.5" width="10.9" height="11.2" fill="#a0a0a0"/><rect x="632.3" y="959" width="10.9" height="11.2" fill="#a0a0a0"/><rect x="644.5" y="905.1" width="10.9" height="11.2" fill="#a0a0a0"/><rect x="656.7" y="942.2" width="10.9" height="11.2" fill="#a0a0a0"/><rect x="668.9" y="948.9" width="10.9" height="11.2" fill="#a0a0a0"/><rect x="681.1" y="996.1" width="10.9" height="11.2" fill="#a0a0a0"/><rect x="693.3" y="959" width="10.9" height="11.2" fill="#a0a0a0"/><rect x="705.6" y="948.9" width="10.9" height="11.2" fill="#a0a0a0"/><rect x="717.8" y="952.3" width="10.9" height="11.2" fill="#a0a0a0"/><rect x="730" y="938.8" width="10.9" height="11.2" fill="#a0a0a0"/><rect x="742.2" y="955.6" width="10.9" height="11.2" fill="#a0a0a0"/><rect x="754.4" y="967.4" width="10.9" height="11.2" fill="#a0a0a0"/><rect x="766.6" y="979.2" width="10.9" height="11.2" fill="#a0a0a0"/><rect x="778.8" y="957.3" width="10.9" height="11.2" fill="#a0a0a0"/><rect x="791" y="1000.3" width="10.9" height="11.2" fill="#a0a0a0"/><rect x="803.2" y="919.4" width="10.9" height="11.2" fill="#a0a0a0"/><rect x="815.4" y="965.8" width="10.9" height="11.2" fill="#a0a0a0"/><rect x="827.6" y="969.1" width="10.9" height="11.2" fill="#a0a0a0"/><rect x="839.8" y="974.2" width="10.9" height="11.2" fill="#a0a0a0"/><rect x="852" y="970.8" width="10.9" height="11.2" fill="#a0a0a0"/><rect x="864.2" y="972.5" width="10.9" height="11.2" fill="#a0a0a0"/><rect x="876.4" y="945.5" width="10.9" height="11.2" fill="#a0a0a0"/><rect x="888.6" y="886.5" width="10.9" height="11.2" fill="#a0a0a0"/><rect x="900.9" y="1039.1" width="10.9" height="11.2" fill="#a0a0a0"/><rect x="913.1" y="996.1" width="10.9" height="11.2" fill="#a0a0a0"/><rect x="925.3" y="1055.1" width="10.9" height="11.2" fill="#a0a0a0"/><rect x="937.5" y="1038.2" width="10.9" height="11.2" fill="#a0a0a0"/></g><g><path d="M173.9 674L186.1 724L198.3 775L210.5 917L222.7 925.8L234.9 946.9L247.1 939.3L259.3 941L271.6 947.8L283.8 977.3L296 932.6L308.2 991.6L320.4 939.3L332.6 971.4L344.8 936L357 944L369.2 964.6L381.4 946.1L393.6 893.8L405.8 922.5L418 951.1L430.2 939.3L442.4 961.2L454.6 961.2L466.9 962.9L479.1 944.4L491.3 941L503.5 956.2L515.7 951.1L527.9 973L540.1 905.6L552.3 966.3L564.5 988.2L576.7 959.6L588.9 942.7L601.1 974.7L613.3 946.1L625.5 1034.6L637.7 1006.8L649.9 942.7L662.2 941L674.4 951.1L686.6 1018.5L698.8 968L711 951.1L723.2 959.6L735.4 947.8L747.6 978.1L759.8 1040.5L772 1016.9L784.2 1000L796.4 1006.8L808.6 981.5L820.8 995L833 1032L845.2 998.3L857.5 954.5L869.7 979.8L881.9 978.1L894.1 941L906.3 1054.8L918.5 1057.3L930.7 1108.7L942.9 1086" fill="none" stroke="#858585" stroke-width="2.1" stroke-linejoin="round" stroke-linecap="butt"/><path d="M173.9 668.2L179.6 679.8L168.2 679.8Z" fill="#858585"/><path d="M186.1 718.2L191.8 729.8L180.4 729.8Z" fill="#858585"/><path d="M198.3 769.2L204 780.8L192.6 780.8Z" fill="#858585"/><path d="M210.5 911.2L216.2 922.8L204.8 922.8Z" fill="#858585"/><path d="M222.7 920L228.4 931.6L217 931.6Z" fill="#858585"/><path d="M234.9 941.1L240.6 952.7L229.2 952.7Z" fill="#858585"/><path d="M247.1 933.5L252.8 945.1L241.4 945.1Z" fill="#858585"/><path d="M259.3 935.2L265.1 946.8L253.6 946.8Z" fill="#858585"/><path d="M271.6 942L277.3 953.6L265.8 953.6Z" fill="#858585"/><path d="M283.8 971.5L289.5 983.1L278.1 983.1Z" fill="#858585"/><path d="M296 926.8L301.7 938.4L290.3 938.4Z" fill="#858585"/><path d="M308.2 985.8L313.9 997.4L302.5 997.4Z" fill="#858585"/><path d="M320.4 933.5L326.1 945.1L314.7 945.1Z" fill="#858585"/><path d="M332.6 965.6L338.3 977.2L326.9 977.2Z" fill="#858585"/><path d="M344.8 930.2L350.5 941.8L339.1 941.8Z" fill="#858585"/><path d="M357 938.2L362.7 949.8L351.3 949.8Z" fill="#858585"/><path d="M369.2 958.8L374.9 970.4L363.5 970.4Z" fill="#858585"/><path d="M381.4 940.3L387.1 951.9L375.7 951.9Z" fill="#858585"/><path d="M393.6 888L399.3 899.6L387.9 899.6Z" fill="#858585"/><path d="M405.8 916.7L411.5 928.3L400.1 928.3Z" fill="#858585"/><path d="M418 945.3L423.7 956.9L412.3 956.9Z" fill="#858585"/><path d="M430.2 933.5L435.9 945.1L424.5 945.1Z" fill="#858585"/><path d="M442.4 955.4L448.1 967L436.7 967Z" fill="#858585"/><path d="M454.6 955.4L460.4 967L448.9 967Z" fill="#858585"/><path d="M466.9 957.1L472.6 968.7L461.1 968.7Z" fill="#858585"/><path d="M479.1 938.6L484.8 950.2L473.4 950.2Z" fill="#858585"/><path d="M491.3 935.2L497 946.8L485.6 946.8Z" fill="#858585"/><path d="M503.5 950.4L509.2 962L497.8 962Z" fill="#858585"/><path d="M515.7 945.3L521.4 956.9L510 956.9Z" fill="#858585"/><path d="M527.9 967.2L533.6 978.8L522.2 978.8Z" fill="#858585"/><path d="M540.1 899.8L545.8 911.4L534.4 911.4Z" fill="#858585"/><path d="M552.3 960.5L558 972.1L546.6 972.1Z" fill="#858585"/><path d="M564.5 982.4L570.2 994L558.8 994Z" fill="#858585"/><path d="M576.7 953.8L582.4 965.4L571 965.4Z" fill="#858585"/><path d="M588.9 936.9L594.6 948.5L583.2 948.5Z" fill="#858585"/><path d="M601.1 968.9L606.8 980.5L595.4 980.5Z" fill="#858585"/><path d="M613.3 940.3L619 951.9L607.6 951.9Z" fill="#858585"/><path d="M625.5 1028.8L631.2 1040.4L619.8 1040.4Z" fill="#858585"/><path d="M637.7 1001L643.4 1012.6L632 1012.6Z" fill="#858585"/><path d="M649.9 936.9L655.7 948.5L644.2 948.5Z" fill="#858585"/><path d="M662.2 935.2L667.9 946.8L656.4 946.8Z" fill="#858585"/><path d="M674.4 945.3L680.1 956.9L668.7 956.9Z" fill="#858585"/><path d="M686.6 1012.7L692.3 1024.3L680.9 1024.3Z" fill="#858585"/><path d="M698.8 962.2L704.5 973.8L693.1 973.8Z" fill="#858585"/><path d="M711 945.3L716.7 956.9L705.3 956.9Z" fill="#858585"/><path d="M723.2 953.8L728.9 965.4L717.5 965.4Z" fill="#858585"/><path d="M735.4 942L741.1 953.6L729.7 953.6Z" fill="#858585"/><path d="M747.6 972.3L753.3 983.9L741.9 983.9Z" fill="#858585"/><path d="M759.8 1034.7L765.5 1046.3L754.1 1046.3Z" fill="#858585"/><path d="M772 1011.1L777.7 1022.7L766.3 1022.7Z" fill="#858585"/><path d="M784.2 994.2L789.9 1005.8L778.5 1005.8Z" fill="#858585"/><path d="M796.4 1001L802.1 1012.6L790.7 1012.6Z" fill="#858585"/><path d="M808.6 975.7L814.3 987.3L802.9 987.3Z" fill="#858585"/><path d="M820.8 989.2L826.5 1000.8L815.1 1000.8Z" fill="#858585"/><path d="M833 1026.2L838.7 1037.8L827.3 1037.8Z" fill="#858585"/><path d="M845.2 992.5L851 1004.1L839.5 1004.1Z" fill="#858585"/><path d="M857.5 948.7L863.2 960.3L851.7 960.3Z" fill="#858585"/><path d="M869.7 974L875.4 985.6L864 985.6Z" fill="#858585"/><path d="M881.9 972.3L887.6 983.9L876.2 983.9Z" fill="#858585"/><path d="M894.1 935.2L899.8 946.8L888.4 946.8Z" fill="#858585"/><path d="M906.3 1049L912 1060.6L900.6 1060.6Z" fill="#858585"/><path d="M918.5 1051.5L924.2 1063.1L912.8 1063.1Z" fill="#858585"/><path d="M930.7 1102.9L936.4 1114.5L925 1114.5Z" fill="#858585"/><path d="M942.9 1080.2L948.6 1091.8L937.2 1091.8Z" fill="#858585"/></g><g><path d="M173.9 676L186.1 726M186.1 726L198.3 790M198.3 790L210.5 994.1M210.5 994.1L222.7 984M222.7 984L234.9 1010.1M234.9 1010.1L247.1 1029.5M247.1 1029.5L259.3 994.1M259.3 994.1L271.6 981.5M271.6 981.5L283.8 989.9M283.8 989.9L296 990.7M296 990.7L308.2 1047.2M308.2 1047.2L320.4 987.4M320.4 987.4L332.6 993.3M332.6 993.3L344.8 951.1M344.8 951.1L357 942.7M357 942.7L369.2 999.2M369.2 999.2L381.4 980.6M381.4 980.6L393.6 960.4M393.6 960.4L405.8 966.3M405.8 966.3L418 988.2M418 988.2L430.2 984.8M430.2 984.8L442.4 982.3M442.4 982.3L454.6 983.2M454.6 983.2L466.9 947.8M466.9 947.8L479.1 934.3M479.1 934.3L491.3 924.2M491.3 924.2L503.5 941M503.5 941L515.7 954.5M515.7 954.5L527.9 951.1M527.9 951.1L540.1 878.7M540.1 878.7L552.3 920.8M552.3 920.8L564.5 951.1M564.5 951.1L576.7 979.8M576.7 979.8L588.9 988.2M588.9 988.2L601.1 962.9M601.1 962.9L613.3 905.6M613.3 905.6L625.5 983.2M625.5 983.2L637.7 932.6M637.7 932.6L649.9 930.9M649.9 930.9L662.2 930.9M662.2 930.9L674.4 930.9M674.4 930.9L686.6 1061.5M686.6 1061.5L698.8 983.2M698.8 983.2L711 957.9M711 957.9L723.2 969.7M723.2 969.7L735.4 971.4M735.4 971.4L747.6 995M747.6 995L759.8 996.6M759.8 996.6L772 1001.7M772 1001.7L784.2 1023.6M784.2 1023.6L796.4 1021.9M796.4 1021.9L808.6 964.6M808.6 964.6L820.8 998.3M820.8 998.3L833 998.3M833 998.3L845.2 1016.9M845.2 1016.9L857.5 1008.4M857.5 1008.4L869.7 998.3M869.7 998.3L881.9 1001.7M881.9 1001.7L894.1 941M894.1 941L906.3 1010.1M906.3 1010.1L918.5 984.8M918.5 984.8L930.7 1042.1M930.7 1042.1L942.9 1011.8" fill="none" stroke="#4a4a4a" stroke-width="3.8" stroke-dasharray="15 12.5" stroke-linejoin="round" stroke-linecap="butt"/><rect x="168.5" y="670.4" width="10.9" height="11.2" fill="#4a4a4a"/><path d="M168.5 670.4L179.3 681.6M179.3 670.4L168.5 681.6" stroke="#2e2e2e" stroke-width="1.3" fill="none"/><rect x="180.7" y="720.4" width="10.9" height="11.2" fill="#4a4a4a"/><path d="M180.7 720.4L191.5 731.6M191.5 720.4L180.7 731.6" stroke="#2e2e2e" stroke-width="1.3" fill="none"/><rect x="192.9" y="784.4" width="10.9" height="11.2" fill="#4a4a4a"/><path d="M192.9 784.4L203.7 795.6M203.7 784.4L192.9 795.6" stroke="#2e2e2e" stroke-width="1.3" fill="none"/><rect x="205.1" y="988.5" width="10.9" height="11.2" fill="#4a4a4a"/><path d="M205.1 988.5L215.9 999.7M215.9 988.5L205.1 999.7" stroke="#2e2e2e" stroke-width="1.3" fill="none"/><rect x="217.3" y="978.4" width="10.9" height="11.2" fill="#4a4a4a"/><path d="M217.3 978.4L228.2 989.6M228.2 978.4L217.3 989.6" stroke="#2e2e2e" stroke-width="1.3" fill="none"/><rect x="229.5" y="1004.5" width="10.9" height="11.2" fill="#4a4a4a"/><path d="M229.5 1004.5L240.4 1015.7M240.4 1004.5L229.5 1015.7" stroke="#2e2e2e" stroke-width="1.3" fill="none"/><rect x="241.7" y="1023.9" width="10.9" height="11.2" fill="#4a4a4a"/><path d="M241.7 1023.9L252.6 1035.1M252.6 1023.9L241.7 1035.1" stroke="#2e2e2e" stroke-width="1.3" fill="none"/><rect x="253.9" y="988.5" width="10.9" height="11.2" fill="#4a4a4a"/><path d="M253.9 988.5L264.8 999.7M264.8 988.5L253.9 999.7" stroke="#2e2e2e" stroke-width="1.3" fill="none"/><rect x="266.1" y="975.9" width="10.9" height="11.2" fill="#4a4a4a"/><path d="M266.1 975.9L277 987.1M277 975.9L266.1 987.1" stroke="#2e2e2e" stroke-width="1.3" fill="none"/><rect x="278.3" y="984.3" width="10.9" height="11.2" fill="#4a4a4a"/><path d="M278.3 984.3L289.2 995.5M289.2 984.3L278.3 995.5" stroke="#2e2e2e" stroke-width="1.3" fill="none"/><rect x="290.5" y="985.1" width="10.9" height="11.2" fill="#4a4a4a"/><path d="M290.5 985.1L301.4 996.3M301.4 985.1L290.5 996.3" stroke="#2e2e2e" stroke-width="1.3" fill="none"/><rect x="302.7" y="1041.6" width="10.9" height="11.2" fill="#4a4a4a"/><path d="M302.7 1041.6L313.6 1052.8M313.6 1041.6L302.7 1052.8" stroke="#2e2e2e" stroke-width="1.3" fill="none"/><rect x="315" y="981.8" width="10.9" height="11.2" fill="#4a4a4a"/><path d="M315 981.8L325.8 993M325.8 981.8L315 993" stroke="#2e2e2e" stroke-width="1.3" fill="none"/><rect x="327.2" y="987.7" width="10.9" height="11.2" fill="#4a4a4a"/><path d="M327.2 987.7L338 998.9M338 987.7L327.2 998.9" stroke="#2e2e2e" stroke-width="1.3" fill="none"/><rect x="339.4" y="945.5" width="10.9" height="11.2" fill="#4a4a4a"/><path d="M339.4 945.5L350.2 956.7M350.2 945.5L339.4 956.7" stroke="#2e2e2e" stroke-width="1.3" fill="none"/><rect x="351.6" y="937.1" width="10.9" height="11.2" fill="#4a4a4a"/><path d="M351.6 937.1L362.4 948.3M362.4 937.1L351.6 948.3" stroke="#2e2e2e" stroke-width="1.3" fill="none"/><rect x="363.8" y="993.6" width="10.9" height="11.2" fill="#4a4a4a"/><path d="M363.8 993.6L374.6 1004.8M374.6 993.6L363.8 1004.8" stroke="#2e2e2e" stroke-width="1.3" fill="none"/><rect x="376" y="975" width="10.9" height="11.2" fill="#4a4a4a"/><path d="M376 975L386.8 986.2M386.8 975L376 986.2" stroke="#2e2e2e" stroke-width="1.3" fill="none"/><rect x="388.2" y="954.8" width="10.9" height="11.2" fill="#4a4a4a"/><path d="M388.2 954.8L399 966M399 954.8L388.2 966" stroke="#2e2e2e" stroke-width="1.3" fill="none"/><rect x="400.4" y="960.7" width="10.9" height="11.2" fill="#4a4a4a"/><path d="M400.4 960.7L411.2 971.9M411.2 960.7L400.4 971.9" stroke="#2e2e2e" stroke-width="1.3" fill="none"/><rect x="412.6" y="982.6" width="10.9" height="11.2" fill="#4a4a4a"/><path d="M412.6 982.6L423.5 993.8M423.5 982.6L412.6 993.8" stroke="#2e2e2e" stroke-width="1.3" fill="none"/><rect x="424.8" y="979.2" width="10.9" height="11.2" fill="#4a4a4a"/><path d="M424.8 979.2L435.7 990.4M435.7 979.2L424.8 990.4" stroke="#2e2e2e" stroke-width="1.3" fill="none"/><rect x="437" y="976.7" width="10.9" height="11.2" fill="#4a4a4a"/><path d="M437 976.7L447.9 987.9M447.9 976.7L437 987.9" stroke="#2e2e2e" stroke-width="1.3" fill="none"/><rect x="449.2" y="977.6" width="10.9" height="11.2" fill="#4a4a4a"/><path d="M449.2 977.6L460.1 988.8M460.1 977.6L449.2 988.8" stroke="#2e2e2e" stroke-width="1.3" fill="none"/><rect x="461.4" y="942.2" width="10.9" height="11.2" fill="#4a4a4a"/><path d="M461.4 942.2L472.3 953.4M472.3 942.2L461.4 953.4" stroke="#2e2e2e" stroke-width="1.3" fill="none"/><rect x="473.6" y="928.7" width="10.9" height="11.2" fill="#4a4a4a"/><path d="M473.6 928.7L484.5 939.9M484.5 928.7L473.6 939.9" stroke="#2e2e2e" stroke-width="1.3" fill="none"/><rect x="485.8" y="918.6" width="10.9" height="11.2" fill="#4a4a4a"/><path d="M485.8 918.6L496.7 929.8M496.7 918.6L485.8 929.8" stroke="#2e2e2e" stroke-width="1.3" fill="none"/><rect x="498" y="935.4" width="10.9" height="11.2" fill="#4a4a4a"/><path d="M498 935.4L508.9 946.6M508.9 935.4L498 946.6" stroke="#2e2e2e" stroke-width="1.3" fill="none"/><rect x="510.3" y="948.9" width="10.9" height="11.2" fill="#4a4a4a"/><path d="M510.3 948.9L521.1 960.1M521.1 948.9L510.3 960.1" stroke="#2e2e2e" stroke-width="1.3" fill="none"/><rect x="522.5" y="945.5" width="10.9" height="11.2" fill="#4a4a4a"/><path d="M522.5 945.5L533.3 956.7M533.3 945.5L522.5 956.7" stroke="#2e2e2e" stroke-width="1.3" fill="none"/><rect x="534.7" y="873.1" width="10.9" height="11.2" fill="#4a4a4a"/><path d="M534.7 873.1L545.5 884.3M545.5 873.1L534.7 884.3" stroke="#2e2e2e" stroke-width="1.3" fill="none"/><rect x="546.9" y="915.2" width="10.9" height="11.2" fill="#4a4a4a"/><path d="M546.9 915.2L557.7 926.4M557.7 915.2L546.9 926.4" stroke="#2e2e2e" stroke-width="1.3" fill="none"/><rect x="559.1" y="945.5" width="10.9" height="11.2" fill="#4a4a4a"/><path d="M559.1 945.5L569.9 956.7M569.9 945.5L559.1 956.7" stroke="#2e2e2e" stroke-width="1.3" fill="none"/><rect x="571.3" y="974.2" width="10.9" height="11.2" fill="#4a4a4a"/><path d="M571.3 974.2L582.1 985.4M582.1 974.2L571.3 985.4" stroke="#2e2e2e" stroke-width="1.3" fill="none"/><rect x="583.5" y="982.6" width="10.9" height="11.2" fill="#4a4a4a"/><path d="M583.5 982.6L594.3 993.8M594.3 982.6L583.5 993.8" stroke="#2e2e2e" stroke-width="1.3" fill="none"/><rect x="595.7" y="957.3" width="10.9" height="11.2" fill="#4a4a4a"/><path d="M595.7 957.3L606.5 968.5M606.5 957.3L595.7 968.5" stroke="#2e2e2e" stroke-width="1.3" fill="none"/><rect x="607.9" y="900" width="10.9" height="11.2" fill="#4a4a4a"/><path d="M607.9 900L618.8 911.2M618.8 900L607.9 911.2" stroke="#2e2e2e" stroke-width="1.3" fill="none"/><rect x="620.1" y="977.6" width="10.9" height="11.2" fill="#4a4a4a"/><path d="M620.1 977.6L631 988.8M631 977.6L620.1 988.8" stroke="#2e2e2e" stroke-width="1.3" fill="none"/><rect x="632.3" y="927" width="10.9" height="11.2" fill="#4a4a4a"/><path d="M632.3 927L643.2 938.2M643.2 927L632.3 938.2" stroke="#2e2e2e" stroke-width="1.3" fill="none"/><rect x="644.5" y="925.3" width="10.9" height="11.2" fill="#4a4a4a"/><path d="M644.5 925.3L655.4 936.5M655.4 925.3L644.5 936.5" stroke="#2e2e2e" stroke-width="1.3" fill="none"/><rect x="656.7" y="925.3" width="10.9" height="11.2" fill="#4a4a4a"/><path d="M656.7 925.3L667.6 936.5M667.6 925.3L656.7 936.5" stroke="#2e2e2e" stroke-width="1.3" fill="none"/><rect x="668.9" y="925.3" width="10.9" height="11.2" fill="#4a4a4a"/><path d="M668.9 925.3L679.8 936.5M679.8 925.3L668.9 936.5" stroke="#2e2e2e" stroke-width="1.3" fill="none"/><rect x="681.1" y="1055.9" width="10.9" height="11.2" fill="#4a4a4a"/><path d="M681.1 1055.9L692 1067.1M692 1055.9L681.1 1067.1" stroke="#2e2e2e" stroke-width="1.3" fill="none"/><rect x="693.3" y="977.6" width="10.9" height="11.2" fill="#4a4a4a"/><path d="M693.3 977.6L704.2 988.8M704.2 977.6L693.3 988.8" stroke="#2e2e2e" stroke-width="1.3" fill="none"/><rect x="705.6" y="952.3" width="10.9" height="11.2" fill="#4a4a4a"/><path d="M705.6 952.3L716.4 963.5M716.4 952.3L705.6 963.5" stroke="#2e2e2e" stroke-width="1.3" fill="none"/><rect x="717.8" y="964.1" width="10.9" height="11.2" fill="#4a4a4a"/><path d="M717.8 964.1L728.6 975.3M728.6 964.1L717.8 975.3" stroke="#2e2e2e" stroke-width="1.3" fill="none"/><rect x="730" y="965.8" width="10.9" height="11.2" fill="#4a4a4a"/><path d="M730 965.8L740.8 977M740.8 965.8L730 977" stroke="#2e2e2e" stroke-width="1.3" fill="none"/><rect x="742.2" y="989.4" width="10.9" height="11.2" fill="#4a4a4a"/><path d="M742.2 989.4L753 1000.6M753 989.4L742.2 1000.6" stroke="#2e2e2e" stroke-width="1.3" fill="none"/><rect x="754.4" y="991" width="10.9" height="11.2" fill="#4a4a4a"/><path d="M754.4 991L765.2 1002.2M765.2 991L754.4 1002.2" stroke="#2e2e2e" stroke-width="1.3" fill="none"/><rect x="766.6" y="996.1" width="10.9" height="11.2" fill="#4a4a4a"/><path d="M766.6 996.1L777.4 1007.3M777.4 996.1L766.6 1007.3" stroke="#2e2e2e" stroke-width="1.3" fill="none"/><rect x="778.8" y="1018" width="10.9" height="11.2" fill="#4a4a4a"/><path d="M778.8 1018L789.6 1029.2M789.6 1018L778.8 1029.2" stroke="#2e2e2e" stroke-width="1.3" fill="none"/><rect x="791" y="1016.3" width="10.9" height="11.2" fill="#4a4a4a"/><path d="M791 1016.3L801.8 1027.5M801.8 1016.3L791 1027.5" stroke="#2e2e2e" stroke-width="1.3" fill="none"/><rect x="803.2" y="959" width="10.9" height="11.2" fill="#4a4a4a"/><path d="M803.2 959L814.1 970.2M814.1 959L803.2 970.2" stroke="#2e2e2e" stroke-width="1.3" fill="none"/><rect x="815.4" y="992.7" width="10.9" height="11.2" fill="#4a4a4a"/><path d="M815.4 992.7L826.3 1003.9M826.3 992.7L815.4 1003.9" stroke="#2e2e2e" stroke-width="1.3" fill="none"/><rect x="827.6" y="992.7" width="10.9" height="11.2" fill="#4a4a4a"/><path d="M827.6 992.7L838.5 1003.9M838.5 992.7L827.6 1003.9" stroke="#2e2e2e" stroke-width="1.3" fill="none"/><rect x="839.8" y="1011.3" width="10.9" height="11.2" fill="#4a4a4a"/><path d="M839.8 1011.3L850.7 1022.5M850.7 1011.3L839.8 1022.5" stroke="#2e2e2e" stroke-width="1.3" fill="none"/><rect x="852" y="1002.8" width="10.9" height="11.2" fill="#4a4a4a"/><path d="M852 1002.8L862.9 1014M862.9 1002.8L852 1014" stroke="#2e2e2e" stroke-width="1.3" fill="none"/><rect x="864.2" y="992.7" width="10.9" height="11.2" fill="#4a4a4a"/><path d="M864.2 992.7L875.1 1003.9M875.1 992.7L864.2 1003.9" stroke="#2e2e2e" stroke-width="1.3" fill="none"/><rect x="876.4" y="996.1" width="10.9" height="11.2" fill="#4a4a4a"/><path d="M876.4 996.1L887.3 1007.3M887.3 996.1L876.4 1007.3" stroke="#2e2e2e" stroke-width="1.3" fill="none"/><rect x="888.6" y="935.4" width="10.9" height="11.2" fill="#4a4a4a"/><path d="M888.6 935.4L899.5 946.6M899.5 935.4L888.6 946.6" stroke="#2e2e2e" stroke-width="1.3" fill="none"/><rect x="900.9" y="1004.5" width="10.9" height="11.2" fill="#4a4a4a"/><path d="M900.9 1004.5L911.7 1015.7M911.7 1004.5L900.9 1015.7" stroke="#2e2e2e" stroke-width="1.3" fill="none"/><rect x="913.1" y="979.2" width="10.9" height="11.2" fill="#4a4a4a"/><path d="M913.1 979.2L923.9 990.4M923.9 979.2L913.1 990.4" stroke="#2e2e2e" stroke-width="1.3" fill="none"/><rect x="925.3" y="1036.5" width="10.9" height="11.2" fill="#4a4a4a"/><path d="M925.3 1036.5L936.1 1047.7M936.1 1036.5L925.3 1047.7" stroke="#2e2e2e" stroke-width="1.3" fill="none"/><rect x="937.5" y="1006.2" width="10.9" height="11.2" fill="#4a4a4a"/><path d="M937.5 1006.2L948.3 1017.4M948.3 1006.2L937.5 1017.4" stroke="#2e2e2e" stroke-width="1.3" fill="none"/></g><g><path d="M173.9 672L186.1 722L198.3 760L210.5 796L222.7 871.9L234.9 900.6L247.1 909L259.3 904L271.6 905.6L283.8 932.6L296 905.6L308.2 920.8L320.4 900.6L332.6 891.3L344.8 886.2L357 904L369.2 889.6L381.4 900.6L393.6 869.4L405.8 903.9L418 912.4L430.2 900.6L442.4 934.3L454.6 927.5L466.9 927.5L479.1 912.4L491.3 917.4L503.5 919.1L515.7 944.4L527.9 929.2L540.1 873.6L552.3 905.6L564.5 929.2L576.7 959.6L588.9 909.8L601.1 934.3L613.3 900.6L625.5 979.8L637.7 966.3L649.9 947.8L662.2 947.8L674.4 954.5L686.6 991.6L698.8 964.6L711 951.1L723.2 957.9L735.4 944.4L747.6 989.9L759.8 995L772 984.8L784.2 964.6L796.4 1005.1L808.6 964.6L820.8 1008.4L833 978.1L845.2 998.3L857.5 979.8L869.7 981.5L881.9 971.4L894.1 897.2L906.3 988.2L918.5 1001.7L930.7 1032L942.9 966.3" fill="none" stroke="#8a8a8a" stroke-width="2.4" stroke-linejoin="round" stroke-linecap="butt"/><rect x="168.5" y="666.4" width="10.9" height="11.2" fill="#8a8a8a"/><rect x="180.7" y="716.4" width="10.9" height="11.2" fill="#8a8a8a"/><rect x="192.9" y="754.4" width="10.9" height="11.2" fill="#8a8a8a"/><rect x="205.1" y="790.4" width="10.9" height="11.2" fill="#8a8a8a"/><rect x="217.3" y="866.3" width="10.9" height="11.2" fill="#8a8a8a"/><rect x="229.5" y="895" width="10.9" height="11.2" fill="#8a8a8a"/><rect x="241.7" y="903.4" width="10.9" height="11.2" fill="#8a8a8a"/><rect x="253.9" y="898.4" width="10.9" height="11.2" fill="#8a8a8a"/><rect x="266.1" y="900" width="10.9" height="11.2" fill="#8a8a8a"/><rect x="278.3" y="927" width="10.9" height="11.2" fill="#8a8a8a"/><rect x="290.5" y="900" width="10.9" height="11.2" fill="#8a8a8a"/><rect x="302.7" y="915.2" width="10.9" height="11.2" fill="#8a8a8a"/><rect x="315" y="895" width="10.9" height="11.2" fill="#8a8a8a"/><rect x="327.2" y="885.7" width="10.9" height="11.2" fill="#8a8a8a"/><rect x="339.4" y="880.6" width="10.9" height="11.2" fill="#8a8a8a"/><rect x="351.6" y="898.4" width="10.9" height="11.2" fill="#8a8a8a"/><rect x="363.8" y="884" width="10.9" height="11.2" fill="#8a8a8a"/><rect x="376" y="895" width="10.9" height="11.2" fill="#8a8a8a"/><rect x="388.2" y="863.8" width="10.9" height="11.2" fill="#8a8a8a"/><rect x="400.4" y="898.3" width="10.9" height="11.2" fill="#8a8a8a"/><rect x="412.6" y="906.8" width="10.9" height="11.2" fill="#8a8a8a"/><rect x="424.8" y="895" width="10.9" height="11.2" fill="#8a8a8a"/><rect x="437" y="928.7" width="10.9" height="11.2" fill="#8a8a8a"/><rect x="449.2" y="921.9" width="10.9" height="11.2" fill="#8a8a8a"/><rect x="461.4" y="921.9" width="10.9" height="11.2" fill="#8a8a8a"/><rect x="473.6" y="906.8" width="10.9" height="11.2" fill="#8a8a8a"/><rect x="485.8" y="911.8" width="10.9" height="11.2" fill="#8a8a8a"/><rect x="498" y="913.5" width="10.9" height="11.2" fill="#8a8a8a"/><rect x="510.3" y="938.8" width="10.9" height="11.2" fill="#8a8a8a"/><rect x="522.5" y="923.6" width="10.9" height="11.2" fill="#8a8a8a"/><rect x="534.7" y="868" width="10.9" height="11.2" fill="#8a8a8a"/><rect x="546.9" y="900" width="10.9" height="11.2" fill="#8a8a8a"/><rect x="559.1" y="923.6" width="10.9" height="11.2" fill="#8a8a8a"/><rect x="571.3" y="954" width="10.9" height="11.2" fill="#8a8a8a"/><rect x="583.5" y="904.2" width="10.9" height="11.2" fill="#8a8a8a"/><rect x="595.7" y="928.7" width="10.9" height="11.2" fill="#8a8a8a"/><rect x="607.9" y="895" width="10.9" height="11.2" fill="#8a8a8a"/><rect x="620.1" y="974.2" width="10.9" height="11.2" fill="#8a8a8a"/><rect x="632.3" y="960.7" width="10.9" height="11.2" fill="#8a8a8a"/><rect x="644.5" y="942.2" width="10.9" height="11.2" fill="#8a8a8a"/><rect x="656.7" y="942.2" width="10.9" height="11.2" fill="#8a8a8a"/><rect x="668.9" y="948.9" width="10.9" height="11.2" fill="#8a8a8a"/><rect x="681.1" y="986" width="10.9" height="11.2" fill="#8a8a8a"/><rect x="693.3" y="959" width="10.9" height="11.2" fill="#8a8a8a"/><rect x="705.6" y="945.5" width="10.9" height="11.2" fill="#8a8a8a"/><rect x="717.8" y="952.3" width="10.9" height="11.2" fill="#8a8a8a"/><rect x="730" y="938.8" width="10.9" height="11.2" fill="#8a8a8a"/><rect x="742.2" y="984.3" width="10.9" height="11.2" fill="#8a8a8a"/><rect x="754.4" y="989.4" width="10.9" height="11.2" fill="#8a8a8a"/><rect x="766.6" y="979.2" width="10.9" height="11.2" fill="#8a8a8a"/><rect x="778.8" y="959" width="10.9" height="11.2" fill="#8a8a8a"/><rect x="791" y="999.5" width="10.9" height="11.2" fill="#8a8a8a"/><rect x="803.2" y="959" width="10.9" height="11.2" fill="#8a8a8a"/><rect x="815.4" y="1002.8" width="10.9" height="11.2" fill="#8a8a8a"/><rect x="827.6" y="972.5" width="10.9" height="11.2" fill="#8a8a8a"/><rect x="839.8" y="992.7" width="10.9" height="11.2" fill="#8a8a8a"/><rect x="852" y="974.2" width="10.9" height="11.2" fill="#8a8a8a"/><rect x="864.2" y="975.9" width="10.9" height="11.2" fill="#8a8a8a"/><rect x="876.4" y="965.8" width="10.9" height="11.2" fill="#8a8a8a"/><rect x="888.6" y="891.6" width="10.9" height="11.2" fill="#8a8a8a"/><rect x="900.9" y="982.6" width="10.9" height="11.2" fill="#8a8a8a"/><rect x="913.1" y="996.1" width="10.9" height="11.2" fill="#8a8a8a"/><rect x="925.3" y="1026.4" width="10.9" height="11.2" fill="#8a8a8a"/><rect x="937.5" y="960.7" width="10.9" height="11.2" fill="#8a8a8a"/></g><g><path d="M173.9 666.1L186.1 712.8M186.1 712.8L198.3 820.3M198.3 820.3L210.5 774.8M210.5 774.8L222.7 896.2M222.7 896.2L234.9 930.7M234.9 930.7L247.1 924.8M247.1 924.8L259.3 936.6M259.3 936.6L271.6 933.3M271.6 933.3L283.8 921.5M283.8 921.5L296 900.4M296 900.4L308.2 898.7M308.2 898.7L320.4 897M320.4 897L332.6 895.3M332.6 895.3L344.8 924M344.8 924L357 916.4M357 916.4L369.2 897.9M369.2 897.9L381.4 900.6M381.4 900.6L393.6 887.9M393.6 887.9L405.8 909.8M405.8 909.8L418 900.6M418 900.6L430.2 899.7M430.2 899.7L442.4 930.9M442.4 930.9L454.6 922.5M454.6 922.5L466.9 911.5M466.9 911.5L479.1 902.3M479.1 902.3L491.3 904.8M491.3 904.8L503.5 924.2M503.5 924.2L515.7 939.3M515.7 939.3L527.9 939.3M527.9 939.3L540.1 923.3M540.1 923.3L552.3 923.3M552.3 923.3L564.5 919.1M564.5 919.1L576.7 941.9M576.7 941.9L588.9 859.3M588.9 859.3L601.1 926.7M601.1 926.7L613.3 931.7M613.3 931.7L625.5 953.7M625.5 953.7L637.7 951.1M637.7 951.1L649.9 925.8M649.9 925.8L662.2 927.5M662.2 927.5L674.4 930.1M674.4 930.1L686.6 965.5M686.6 965.5L698.8 955.3M698.8 955.3L711 940.2M711 940.2L723.2 951.1M723.2 951.1L735.4 919.1M735.4 919.1L747.6 950.3M747.6 950.3L759.8 984M759.8 984L772 995M772 995L784.2 973.9M784.2 973.9L796.4 996.6M796.4 996.6L808.6 951.1M808.6 951.1L820.8 952M820.8 952L833 1023.6M833 1023.6L845.2 970.5M845.2 970.5L857.5 936.8M857.5 936.8L869.7 966.3M869.7 966.3L881.9 959.6M881.9 959.6L894.1 909M894.1 909L906.3 994.1M906.3 994.1L918.5 972.2M918.5 972.2L930.7 1012.6M930.7 1012.6L942.9 1003.4" fill="none" stroke="#000000" stroke-width="3.9" stroke-dasharray="31 11" stroke-linejoin="round" stroke-linecap="butt"/><ellipse cx="173.9" cy="666.1" rx="5.6" ry="5.8" fill="#000000"/><ellipse cx="186.1" cy="712.8" rx="5.6" ry="5.8" fill="#000000"/><ellipse cx="198.3" cy="820.3" rx="5.6" ry="5.8" fill="#000000"/><ellipse cx="210.5" cy="774.8" rx="5.6" ry="5.8" fill="#000000"/><ellipse cx="222.7" cy="896.2" rx="5.6" ry="5.8" fill="#000000"/><ellipse cx="234.9" cy="930.7" rx="5.6" ry="5.8" fill="#000000"/><ellipse cx="247.1" cy="924.8" rx="5.6" ry="5.8" fill="#000000"/><ellipse cx="259.3" cy="936.6" rx="5.6" ry="5.8" fill="#000000"/><ellipse cx="271.6" cy="933.3" rx="5.6" ry="5.8" fill="#000000"/><ellipse cx="283.8" cy="921.5" rx="5.6" ry="5.8" fill="#000000"/><ellipse cx="296" cy="900.4" rx="5.6" ry="5.8" fill="#000000"/><ellipse cx="308.2" cy="898.7" rx="5.6" ry="5.8" fill="#000000"/><ellipse cx="320.4" cy="897" rx="5.6" ry="5.8" fill="#000000"/><ellipse cx="332.6" cy="895.3" rx="5.6" ry="5.8" fill="#000000"/><ellipse cx="344.8" cy="924" rx="5.6" ry="5.8" fill="#000000"/><ellipse cx="357" cy="916.4" rx="5.6" ry="5.8" fill="#000000"/><ellipse cx="369.2" cy="897.9" rx="5.6" ry="5.8" fill="#000000"/><ellipse cx="381.4" cy="900.6" rx="5.6" ry="5.8" fill="#000000"/><ellipse cx="393.6" cy="887.9" rx="5.6" ry="5.8" fill="#000000"/><ellipse cx="405.8" cy="909.8" rx="5.6" ry="5.8" fill="#000000"/><ellipse cx="418" cy="900.6" rx="5.6" ry="5.8" fill="#000000"/><ellipse cx="430.2" cy="899.7" rx="5.6" ry="5.8" fill="#000000"/><ellipse cx="442.4" cy="930.9" rx="5.6" ry="5.8" fill="#000000"/><ellipse cx="454.6" cy="922.5" rx="5.6" ry="5.8" fill="#000000"/><ellipse cx="466.9" cy="911.5" rx="5.6" ry="5.8" fill="#000000"/><ellipse cx="479.1" cy="902.3" rx="5.6" ry="5.8" fill="#000000"/><ellipse cx="491.3" cy="904.8" rx="5.6" ry="5.8" fill="#000000"/><ellipse cx="503.5" cy="924.2" rx="5.6" ry="5.8" fill="#000000"/><ellipse cx="515.7" cy="939.3" rx="5.6" ry="5.8" fill="#000000"/><ellipse cx="527.9" cy="939.3" rx="5.6" ry="5.8" fill="#000000"/><ellipse cx="540.1" cy="923.3" rx="5.6" ry="5.8" fill="#000000"/><ellipse cx="552.3" cy="923.3" rx="5.6" ry="5.8" fill="#000000"/><ellipse cx="564.5" cy="919.1" rx="5.6" ry="5.8" fill="#000000"/><ellipse cx="576.7" cy="941.9" rx="5.6" ry="5.8" fill="#000000"/><ellipse cx="588.9" cy="859.3" rx="5.6" ry="5.8" fill="#000000"/><ellipse cx="601.1" cy="926.7" rx="5.6" ry="5.8" fill="#000000"/><ellipse cx="613.3" cy="931.7" rx="5.6" ry="5.8" fill="#000000"/><ellipse cx="625.5" cy="953.7" rx="5.6" ry="5.8" fill="#000000"/><ellipse cx="637.7" cy="951.1" rx="5.6" ry="5.8" fill="#000000"/><ellipse cx="649.9" cy="925.8" rx="5.6" ry="5.8" fill="#000000"/><ellipse cx="662.2" cy="927.5" rx="5.6" ry="5.8" fill="#000000"/><ellipse cx="674.4" cy="930.1" rx="5.6" ry="5.8" fill="#000000"/><ellipse cx="686.6" cy="965.5" rx="5.6" ry="5.8" fill="#000000"/><ellipse cx="698.8" cy="955.3" rx="5.6" ry="5.8" fill="#000000"/><ellipse cx="711" cy="940.2" rx="5.6" ry="5.8" fill="#000000"/><ellipse cx="723.2" cy="951.1" rx="5.6" ry="5.8" fill="#000000"/><ellipse cx="735.4" cy="919.1" rx="5.6" ry="5.8" fill="#000000"/><ellipse cx="747.6" cy="950.3" rx="5.6" ry="5.8" fill="#000000"/><ellipse cx="759.8" cy="984" rx="5.6" ry="5.8" fill="#000000"/><ellipse cx="772" cy="995" rx="5.6" ry="5.8" fill="#000000"/><ellipse cx="784.2" cy="973.9" rx="5.6" ry="5.8" fill="#000000"/><ellipse cx="796.4" cy="996.6" rx="5.6" ry="5.8" fill="#000000"/><ellipse cx="808.6" cy="951.1" rx="5.6" ry="5.8" fill="#000000"/><ellipse cx="820.8" cy="952" rx="5.6" ry="5.8" fill="#000000"/><ellipse cx="833" cy="1023.6" rx="5.6" ry="5.8" fill="#000000"/><ellipse cx="845.2" cy="970.5" rx="5.6" ry="5.8" fill="#000000"/><ellipse cx="857.5" cy="936.8" rx="5.6" ry="5.8" fill="#000000"/><ellipse cx="869.7" cy="966.3" rx="5.6" ry="5.8" fill="#000000"/><ellipse cx="881.9" cy="959.6" rx="5.6" ry="5.8" fill="#000000"/><ellipse cx="894.1" cy="909" rx="5.6" ry="5.8" fill="#000000"/><ellipse cx="906.3" cy="994.1" rx="5.6" ry="5.8" fill="#000000"/><ellipse cx="918.5" cy="972.2" rx="5.6" ry="5.8" fill="#000000"/><ellipse cx="930.7" cy="1012.6" rx="5.6" ry="5.8" fill="#000000"/><ellipse cx="942.9" cy="1003.4" rx="5.6" ry="5.8" fill="#000000"/></g></g>
<g id="chartD"><path d="M1092.4 635V1127.3M1092.4 1126.3V1135.8M1104.7 1126.3V1135.8M1117.1 1126.3V1135.8M1129.4 1126.3V1135.8M1141.7 1126.3V1135.8M1154 1126.3V1135.8M1166.4 1126.3V1135.8M1178.7 1126.3V1135.8M1191 1126.3V1135.8M1203.3 1126.3V1135.8M1215.7 1126.3V1135.8M1228 1126.3V1135.8M1240.3 1126.3V1135.8M1252.6 1126.3V1135.8M1265 1126.3V1135.8M1277.3 1126.3V1135.8M1289.6 1126.3V1135.8M1301.9 1126.3V1135.8M1314.2 1126.3V1135.8M1326.6 1126.3V1135.8M1338.9 1126.3V1135.8M1351.2 1126.3V1135.8M1363.6 1126.3V1135.8M1375.9 1126.3V1135.8M1388.2 1126.3V1135.8M1400.5 1126.3V1135.8M1412.9 1126.3V1135.8M1425.2 1126.3V1135.8M1437.5 1126.3V1135.8M1449.8 1126.3V1135.8M1462.2 1126.3V1135.8M1474.5 1126.3V1135.8M1486.8 1126.3V1135.8M1499.1 1126.3V1135.8M1511.5 1126.3V1135.8M1523.8 1126.3V1135.8M1536.1 1126.3V1135.8M1548.4 1126.3V1135.8M1560.8 1126.3V1135.8M1573.1 1126.3V1135.8M1585.4 1126.3V1135.8M1597.7 1126.3V1135.8M1610.1 1126.3V1135.8M1622.4 1126.3V1135.8M1634.7 1126.3V1135.8M1647 1126.3V1135.8M1659.3 1126.3V1135.8M1671.7 1126.3V1135.8M1684 1126.3V1135.8M1696.3 1126.3V1135.8M1708.7 1126.3V1135.8M1721 1126.3V1135.8M1733.3 1126.3V1135.8M1745.6 1126.3V1135.8M1758 1126.3V1135.8M1770.3 1126.3V1135.8M1782.6 1126.3V1135.8M1794.9 1126.3V1135.8M1807.2 1126.3V1135.8M1819.6 1126.3V1135.8M1831.9 1126.3V1135.8M1844.2 1126.3V1135.8M1856.6 1126.3V1135.8M1868.9 1126.3V1135.8M1881.2 1126.3V1135.8" stroke="#505050" stroke-width="1.6" fill="none"/><path d="M1091.4 1127.3H1882.2M1083.4 635H1092.4M1083.4 705.3H1092.4M1083.4 775.7H1092.4M1083.4 846H1092.4M1083.4 916.3H1092.4M1083.4 986.6H1092.4M1083.4 1057H1092.4M1083.4 1127.3H1092.4" stroke="#3c3c3c" stroke-width="1.4" fill="none"/><g fill="#000"><text transform="translate(1070.5 647.6) scale(0.9 1)" font-size="29" text-anchor="end">210</text><text transform="translate(1070.5 717.93) scale(0.9 1)" font-size="29" text-anchor="end">190</text><text transform="translate(1070.5 788.26) scale(0.9 1)" font-size="29" text-anchor="end">170</text><text transform="translate(1070.5 858.59) scale(0.9 1)" font-size="29" text-anchor="end">150</text><text transform="translate(1070.5 928.91) scale(0.9 1)" font-size="29" text-anchor="end">130</text><text transform="translate(1070.5 999.24) scale(0.9 1)" font-size="29" text-anchor="end">110</text><text transform="translate(1070.5 1069.57) scale(0.9 1)" font-size="29" text-anchor="end">90</text><text transform="translate(1070.5 1139.9) scale(0.9 1)" font-size="29" text-anchor="end">70</text><text transform="translate(1098.56 1180) scale(0.9 1)" font-size="29" text-anchor="middle">0</text><text transform="translate(1184.84 1180) scale(0.9 1)" font-size="29" text-anchor="middle">7</text><text transform="translate(1271.11 1180) scale(0.9 1)" font-size="29" text-anchor="middle">14</text><text transform="translate(1357.39 1180) scale(0.9 1)" font-size="29" text-anchor="middle">21</text><text transform="translate(1443.66 1180) scale(0.9 1)" font-size="29" text-anchor="middle">28</text><text transform="translate(1529.94 1180) scale(0.9 1)" font-size="29" text-anchor="middle">35</text><text transform="translate(1616.21 1180) scale(0.9 1)" font-size="29" text-anchor="middle">42</text><text transform="translate(1702.49 1180) scale(0.9 1)" font-size="29" text-anchor="middle">49</text><text transform="translate(1788.76 1180) scale(0.9 1)" font-size="29" text-anchor="middle">56</text><text transform="translate(1875.04 1180) scale(0.9 1)" font-size="29" text-anchor="middle">63</text></g><text transform="translate(1006.2 880.7) rotate(-90) scale(1.1 1)" font-size="25" text-anchor="middle" font-weight="bold" xml:space="preserve">Redox potential  (mV)</text><text transform="translate(1758 649.6)" font-size="42" text-anchor="middle" font-family="'Liberation Serif', serif">D</text><g><path d="M1098.6 1085L1110.9 996.8M1110.9 996.8L1123.2 955.5M1123.2 955.5L1135.5 958M1135.5 958L1147.9 938.7M1147.9 938.7L1160.2 964.5M1160.2 964.5L1172.5 955.5M1172.5 955.5L1184.8 954.2M1184.8 954.2L1197.2 929.6M1197.2 929.6L1209.5 884.4M1209.5 884.4L1221.8 852.1M1221.8 852.1L1234.1 796.5M1234.1 796.5L1246.5 799.1M1246.5 799.1L1258.8 819.8M1258.8 819.8L1271.1 825M1271.1 825L1283.4 828.8M1283.4 828.8L1295.8 830.1M1295.8 830.1L1308.1 819.8M1308.1 819.8L1320.4 761.7M1320.4 761.7L1332.7 733.2M1332.7 733.2L1345.1 685.4M1345.1 685.4L1357.4 739.7M1357.4 739.7L1369.7 772M1369.7 772L1382 813.3M1382 813.3L1394.4 819.8M1394.4 819.8L1406.7 762.9M1406.7 762.9L1419 755.2M1419 755.2L1431.3 808M1431.3 808L1443.7 748.7M1443.7 748.7L1456 782.3M1456 782.3L1468.3 760.4M1468.3 760.4L1480.6 804.3M1480.6 804.3L1493 735.8M1493 735.8L1505.3 731.9M1505.3 731.9L1517.6 731.9M1517.6 731.9L1529.9 690.6M1529.9 690.6L1542.3 720M1542.3 720L1554.6 756M1554.6 756L1566.9 784.9M1566.9 784.9L1579.2 761.7M1579.2 761.7L1591.6 728.1M1591.6 728.1L1603.9 734.5M1603.9 734.5L1616.2 711.3M1616.2 711.3L1628.5 730.6M1628.5 730.6L1640.9 724M1640.9 724L1653.2 692M1653.2 692L1665.5 761.7M1665.5 761.7L1677.8 752.4M1677.8 752.4L1690.2 715.1M1690.2 715.1L1702.5 731.9M1702.5 731.9L1714.8 750M1714.8 750L1727.1 753.9M1727.1 753.9L1739.5 755.2M1739.5 755.2L1751.8 743.6M1751.8 743.6L1764.1 739.7M1764.1 739.7L1776.4 744.9M1776.4 744.9L1788.8 761.7M1788.8 761.7L1801.1 731.9M1801.1 731.9L1813.4 760.4M1813.4 760.4L1825.7 711.3M1825.7 711.3L1838.1 715.1M1838.1 715.1L1850.4 712.6M1850.4 712.6L1862.7 737.1M1862.7 737.1L1875 725.5" fill="none" stroke="#595959" stroke-width="3.5" stroke-dasharray="0.01 7.7" stroke-linejoin="round" stroke-linecap="round"/><path d="M1098.6 1079L1104.2 1085L1098.6 1091L1093 1085Z" fill="#595959"/><path d="M1110.9 990.8L1116.5 996.8L1110.9 1002.8L1105.3 996.8Z" fill="#595959"/><path d="M1123.2 949.5L1128.8 955.5L1123.2 961.5L1117.6 955.5Z" fill="#595959"/><path d="M1135.5 952L1141.1 958L1135.5 964L1129.9 958Z" fill="#595959"/><path d="M1147.9 932.8L1153.5 938.7L1147.9 944.7L1142.3 938.7Z" fill="#595959"/><path d="M1160.2 958.5L1165.8 964.5L1160.2 970.5L1154.6 964.5Z" fill="#595959"/><path d="M1172.5 949.5L1178.1 955.5L1172.5 961.5L1166.9 955.5Z" fill="#595959"/><path d="M1184.8 948.2L1190.4 954.2L1184.8 960.2L1179.2 954.2Z" fill="#595959"/><path d="M1197.2 923.6L1202.8 929.6L1197.2 935.6L1191.6 929.6Z" fill="#595959"/><path d="M1209.5 878.4L1215.1 884.4L1209.5 890.4L1203.9 884.4Z" fill="#595959"/><path d="M1221.8 846.1L1227.4 852.1L1221.8 858.1L1216.2 852.1Z" fill="#595959"/><path d="M1234.1 790.5L1239.7 796.5L1234.1 802.5L1228.5 796.5Z" fill="#595959"/><path d="M1246.5 793.1L1252.1 799.1L1246.5 805.1L1240.9 799.1Z" fill="#595959"/><path d="M1258.8 813.8L1264.4 819.8L1258.8 825.8L1253.2 819.8Z" fill="#595959"/><path d="M1271.1 819L1276.7 825L1271.1 831L1265.5 825Z" fill="#595959"/><path d="M1283.4 822.8L1289 828.8L1283.4 834.8L1277.8 828.8Z" fill="#595959"/><path d="M1295.8 824.1L1301.4 830.1L1295.8 836.1L1290.2 830.1Z" fill="#595959"/><path d="M1308.1 813.8L1313.7 819.8L1308.1 825.8L1302.5 819.8Z" fill="#595959"/><path d="M1320.4 755.8L1326 761.7L1320.4 767.7L1314.8 761.7Z" fill="#595959"/><path d="M1332.7 727.2L1338.3 733.2L1332.7 739.2L1327.1 733.2Z" fill="#595959"/><path d="M1345.1 679.4L1350.7 685.4L1345.1 691.4L1339.5 685.4Z" fill="#595959"/><path d="M1357.4 733.8L1363 739.7L1357.4 745.7L1351.8 739.7Z" fill="#595959"/><path d="M1369.7 766L1375.3 772L1369.7 778L1364.1 772Z" fill="#595959"/><path d="M1382 807.3L1387.6 813.3L1382 819.2L1376.4 813.3Z" fill="#595959"/><path d="M1394.4 813.8L1400 819.8L1394.4 825.8L1388.8 819.8Z" fill="#595959"/><path d="M1406.7 756.9L1412.3 762.9L1406.7 768.9L1401.1 762.9Z" fill="#595959"/><path d="M1419 749.2L1424.6 755.2L1419 761.2L1413.4 755.2Z" fill="#595959"/><path d="M1431.3 802L1436.9 808L1431.3 814L1425.7 808Z" fill="#595959"/><path d="M1443.7 742.8L1449.3 748.7L1443.7 754.7L1438.1 748.7Z" fill="#595959"/><path d="M1456 776.3L1461.6 782.3L1456 788.2L1450.4 782.3Z" fill="#595959"/><path d="M1468.3 754.4L1473.9 760.4L1468.3 766.4L1462.7 760.4Z" fill="#595959"/><path d="M1480.6 798.3L1486.2 804.3L1480.6 810.2L1475 804.3Z" fill="#595959"/><path d="M1493 729.8L1498.6 735.8L1493 741.8L1487.4 735.8Z" fill="#595959"/><path d="M1505.3 725.9L1510.9 731.9L1505.3 737.9L1499.7 731.9Z" fill="#595959"/><path d="M1517.6 725.9L1523.2 731.9L1517.6 737.9L1512 731.9Z" fill="#595959"/><path d="M1529.9 684.6L1535.5 690.6L1529.9 696.6L1524.3 690.6Z" fill="#595959"/><path d="M1542.3 714L1547.9 720L1542.3 726L1536.7 720Z" fill="#595959"/><path d="M1554.6 750L1560.2 756L1554.6 762L1549 756Z" fill="#595959"/><path d="M1566.9 778.9L1572.5 784.9L1566.9 790.9L1561.3 784.9Z" fill="#595959"/><path d="M1579.2 755.8L1584.8 761.7L1579.2 767.7L1573.6 761.7Z" fill="#595959"/><path d="M1591.6 722.1L1597.2 728.1L1591.6 734.1L1586 728.1Z" fill="#595959"/><path d="M1603.9 728.5L1609.5 734.5L1603.9 740.5L1598.3 734.5Z" fill="#595959"/><path d="M1616.2 705.3L1621.8 711.3L1616.2 717.2L1610.6 711.3Z" fill="#595959"/><path d="M1628.5 724.6L1634.1 730.6L1628.5 736.6L1622.9 730.6Z" fill="#595959"/><path d="M1640.9 718L1646.5 724L1640.9 730L1635.3 724Z" fill="#595959"/><path d="M1653.2 686L1658.8 692L1653.2 698L1647.6 692Z" fill="#595959"/><path d="M1665.5 755.8L1671.1 761.7L1665.5 767.7L1659.9 761.7Z" fill="#595959"/><path d="M1677.8 746.4L1683.4 752.4L1677.8 758.4L1672.2 752.4Z" fill="#595959"/><path d="M1690.2 709.1L1695.8 715.1L1690.2 721.1L1684.6 715.1Z" fill="#595959"/><path d="M1702.5 725.9L1708.1 731.9L1702.5 737.9L1696.9 731.9Z" fill="#595959"/><path d="M1714.8 744L1720.4 750L1714.8 756L1709.2 750Z" fill="#595959"/><path d="M1727.1 747.9L1732.7 753.9L1727.1 759.9L1721.5 753.9Z" fill="#595959"/><path d="M1739.5 749.2L1745.1 755.2L1739.5 761.2L1733.9 755.2Z" fill="#595959"/><path d="M1751.8 737.6L1757.4 743.6L1751.8 749.6L1746.2 743.6Z" fill="#595959"/><path d="M1764.1 733.8L1769.7 739.7L1764.1 745.7L1758.5 739.7Z" fill="#595959"/><path d="M1776.4 738.9L1782 744.9L1776.4 750.9L1770.8 744.9Z" fill="#595959"/><path d="M1788.8 755.8L1794.4 761.7L1788.8 767.7L1783.2 761.7Z" fill="#595959"/><path d="M1801.1 725.9L1806.7 731.9L1801.1 737.9L1795.5 731.9Z" fill="#595959"/><path d="M1813.4 754.4L1819 760.4L1813.4 766.4L1807.8 760.4Z" fill="#595959"/><path d="M1825.7 705.3L1831.3 711.3L1825.7 717.2L1820.1 711.3Z" fill="#595959"/><path d="M1838.1 709.1L1843.7 715.1L1838.1 721.1L1832.5 715.1Z" fill="#595959"/><path d="M1850.4 706.6L1856 712.6L1850.4 718.6L1844.8 712.6Z" fill="#595959"/><path d="M1862.7 731.1L1868.3 737.1L1862.7 743.1L1857.1 737.1Z" fill="#595959"/><path d="M1875 719.5L1880.6 725.5L1875 731.5L1869.4 725.5Z" fill="#595959"/></g><g><path d="M1098.6 1086L1110.9 997.3M1110.9 997.3L1123.2 954.5M1123.2 954.5L1135.5 958.5M1135.5 958.5L1147.9 937.7M1147.9 937.7L1160.2 965M1160.2 965L1172.5 954.5M1172.5 954.5L1184.8 954.7M1184.8 954.7L1197.2 928.6M1197.2 928.6L1209.5 884.9M1209.5 884.9L1221.8 851.1M1221.8 851.1L1234.1 797M1234.1 797L1246.5 798.1M1246.5 798.1L1258.8 820.3M1258.8 820.3L1271.1 824M1271.1 824L1283.4 829.3M1283.4 829.3L1295.8 829.1M1295.8 829.1L1308.1 820.3M1308.1 820.3L1320.4 760.7M1320.4 760.7L1332.7 733.7M1332.7 733.7L1345.1 684.4M1345.1 684.4L1357.4 740.2M1357.4 740.2L1369.7 771M1369.7 771L1382 813.8M1382 813.8L1394.4 848M1394.4 848L1406.7 818.3M1406.7 818.3L1419 771.8M1419 771.8L1431.3 819.6M1431.3 819.6L1443.7 761.5M1443.7 761.5L1456 791M1456 791L1468.3 791M1468.3 791L1480.6 804.8M1480.6 804.8L1493 734.8M1493 734.8L1505.3 732.4M1505.3 732.4L1517.6 730.9M1517.6 730.9L1529.9 691.1M1529.9 691.1L1542.3 760.2M1542.3 760.2L1554.6 746.7M1554.6 746.7L1566.9 783.9M1566.9 783.9L1579.2 762.2M1579.2 762.2L1591.6 727.1M1591.6 727.1L1603.9 735M1603.9 735L1616.2 710.3M1616.2 710.3L1628.5 731.1M1628.5 731.1L1640.9 694.8M1640.9 694.8L1653.2 689.8M1653.2 689.8L1665.5 760.7M1665.5 760.7L1677.8 720.8M1677.8 720.8L1690.2 714.1M1690.2 714.1L1702.5 732.4M1702.5 732.4L1714.8 749M1714.8 749L1727.1 754.4M1727.1 754.4L1739.5 754.2M1739.5 754.2L1751.8 752.4M1751.8 752.4L1764.1 746M1764.1 746L1776.4 745.4M1776.4 745.4L1788.8 760.7M1788.8 760.7L1801.1 732.4M1801.1 732.4L1813.4 759.4M1813.4 759.4L1825.7 711.8M1825.7 711.8L1838.1 714.1M1838.1 714.1L1850.4 713.1M1850.4 713.1L1862.7 741M1862.7 741L1875 726" fill="none" stroke="#a0a0a0" stroke-width="2" stroke-dasharray="6.3 2.8" stroke-linejoin="round" stroke-linecap="butt"/><rect x="1093.5" y="1080.8" width="10" height="10.4" fill="#a0a0a0"/><rect x="1105.9" y="992.1" width="10" height="10.4" fill="#a0a0a0"/><rect x="1118.2" y="949.3" width="10" height="10.4" fill="#a0a0a0"/><rect x="1130.5" y="953.3" width="10" height="10.4" fill="#a0a0a0"/><rect x="1142.8" y="932.5" width="10" height="10.4" fill="#a0a0a0"/><rect x="1155.2" y="959.8" width="10" height="10.4" fill="#a0a0a0"/><rect x="1167.5" y="949.3" width="10" height="10.4" fill="#a0a0a0"/><rect x="1179.8" y="949.5" width="10" height="10.4" fill="#a0a0a0"/><rect x="1192.1" y="923.4" width="10" height="10.4" fill="#a0a0a0"/><rect x="1204.5" y="879.7" width="10" height="10.4" fill="#a0a0a0"/><rect x="1216.8" y="845.9" width="10" height="10.4" fill="#a0a0a0"/><rect x="1229.1" y="791.8" width="10" height="10.4" fill="#a0a0a0"/><rect x="1241.4" y="792.9" width="10" height="10.4" fill="#a0a0a0"/><rect x="1253.8" y="815.1" width="10" height="10.4" fill="#a0a0a0"/><rect x="1266.1" y="818.8" width="10" height="10.4" fill="#a0a0a0"/><rect x="1278.4" y="824.1" width="10" height="10.4" fill="#a0a0a0"/><rect x="1290.7" y="823.9" width="10" height="10.4" fill="#a0a0a0"/><rect x="1303.1" y="815.1" width="10" height="10.4" fill="#a0a0a0"/><rect x="1315.4" y="755.5" width="10" height="10.4" fill="#a0a0a0"/><rect x="1327.7" y="728.5" width="10" height="10.4" fill="#a0a0a0"/><rect x="1340" y="679.2" width="10" height="10.4" fill="#a0a0a0"/><rect x="1352.4" y="735" width="10" height="10.4" fill="#a0a0a0"/><rect x="1364.7" y="765.8" width="10" height="10.4" fill="#a0a0a0"/><rect x="1377" y="808.6" width="10" height="10.4" fill="#a0a0a0"/><rect x="1389.3" y="842.8" width="10" height="10.4" fill="#a0a0a0"/><rect x="1401.7" y="813.1" width="10" height="10.4" fill="#a0a0a0"/><rect x="1414" y="766.6" width="10" height="10.4" fill="#a0a0a0"/><rect x="1426.3" y="814.4" width="10" height="10.4" fill="#a0a0a0"/><rect x="1438.6" y="756.3" width="10" height="10.4" fill="#a0a0a0"/><rect x="1451" y="785.8" width="10" height="10.4" fill="#a0a0a0"/><rect x="1463.3" y="785.8" width="10" height="10.4" fill="#a0a0a0"/><rect x="1475.6" y="799.6" width="10" height="10.4" fill="#a0a0a0"/><rect x="1487.9" y="729.6" width="10" height="10.4" fill="#a0a0a0"/><rect x="1500.3" y="727.2" width="10" height="10.4" fill="#a0a0a0"/><rect x="1512.6" y="725.7" width="10" height="10.4" fill="#a0a0a0"/><rect x="1524.9" y="685.9" width="10" height="10.4" fill="#a0a0a0"/><rect x="1537.2" y="755" width="10" height="10.4" fill="#a0a0a0"/><rect x="1549.6" y="741.5" width="10" height="10.4" fill="#a0a0a0"/><rect x="1561.9" y="778.7" width="10" height="10.4" fill="#a0a0a0"/><rect x="1574.2" y="757" width="10" height="10.4" fill="#a0a0a0"/><rect x="1586.5" y="721.9" width="10" height="10.4" fill="#a0a0a0"/><rect x="1598.9" y="729.8" width="10" height="10.4" fill="#a0a0a0"/><rect x="1611.2" y="705.1" width="10" height="10.4" fill="#a0a0a0"/><rect x="1623.5" y="725.9" width="10" height="10.4" fill="#a0a0a0"/><rect x="1635.8" y="689.6" width="10" height="10.4" fill="#a0a0a0"/><rect x="1648.2" y="684.6" width="10" height="10.4" fill="#a0a0a0"/><rect x="1660.5" y="755.5" width="10" height="10.4" fill="#a0a0a0"/><rect x="1672.8" y="715.6" width="10" height="10.4" fill="#a0a0a0"/><rect x="1685.1" y="708.9" width="10" height="10.4" fill="#a0a0a0"/><rect x="1697.5" y="727.2" width="10" height="10.4" fill="#a0a0a0"/><rect x="1709.8" y="743.8" width="10" height="10.4" fill="#a0a0a0"/><rect x="1722.1" y="749.2" width="10" height="10.4" fill="#a0a0a0"/><rect x="1734.4" y="749" width="10" height="10.4" fill="#a0a0a0"/><rect x="1746.8" y="747.2" width="10" height="10.4" fill="#a0a0a0"/><rect x="1759.1" y="740.8" width="10" height="10.4" fill="#a0a0a0"/><rect x="1771.4" y="740.2" width="10" height="10.4" fill="#a0a0a0"/><rect x="1783.7" y="755.5" width="10" height="10.4" fill="#a0a0a0"/><rect x="1796.1" y="727.2" width="10" height="10.4" fill="#a0a0a0"/><rect x="1808.4" y="754.2" width="10" height="10.4" fill="#a0a0a0"/><rect x="1820.7" y="706.6" width="10" height="10.4" fill="#a0a0a0"/><rect x="1833" y="708.9" width="10" height="10.4" fill="#a0a0a0"/><rect x="1845.4" y="707.9" width="10" height="10.4" fill="#a0a0a0"/><rect x="1857.7" y="735.8" width="10" height="10.4" fill="#a0a0a0"/><rect x="1870" y="720.8" width="10" height="10.4" fill="#a0a0a0"/></g><g><path d="M1098.6 1084L1110.9 993.3L1123.2 952L1135.5 954.5L1147.9 935.2L1160.2 961L1172.5 952L1184.8 950.7L1197.2 926.1L1209.5 880.9L1221.8 848.6L1234.1 793L1246.5 795.6L1258.8 816.3L1271.1 821.5L1283.4 825.3L1295.8 826.6L1308.1 816.3L1320.4 758.2L1332.7 729.7L1345.1 681.9L1357.4 736.2L1369.7 768.5L1382 809.8L1394.4 816.3L1406.7 759.4L1419 751.7L1431.3 759.4L1443.7 745.2L1456 778.8L1468.3 746L1480.6 800.8L1493 732.3L1505.3 728.4L1517.6 728.4L1529.9 687.1L1542.3 707.8L1554.6 742.7L1566.9 781.4L1579.2 758.2L1591.6 724.6L1603.9 731L1616.2 707.8L1628.5 727.1L1640.9 692.3L1653.2 685.8L1665.5 758.2L1677.8 716.8L1690.2 711.6L1702.5 728.4L1714.8 746.5L1727.1 750.4L1739.5 751.7L1751.8 740.1L1764.1 736.2L1776.4 741.4L1788.8 758.2L1801.1 728.4L1813.4 756.9L1825.7 707.8L1838.1 711.6L1850.4 709.1L1862.7 733.6L1875 722" fill="none" stroke="#858585" stroke-width="2.1" stroke-linejoin="round" stroke-linecap="butt"/><path d="M1098.6 1078.6L1103.8 1089.4L1093.3 1089.4Z" fill="#858585"/><path d="M1110.9 987.9L1116.2 998.7L1105.6 998.7Z" fill="#858585"/><path d="M1123.2 946.6L1128.5 957.4L1117.9 957.4Z" fill="#858585"/><path d="M1135.5 949.1L1140.8 959.9L1130.3 959.9Z" fill="#858585"/><path d="M1147.9 929.8L1153.1 940.6L1142.6 940.6Z" fill="#858585"/><path d="M1160.2 955.6L1165.5 966.4L1154.9 966.4Z" fill="#858585"/><path d="M1172.5 946.6L1177.8 957.4L1167.2 957.4Z" fill="#858585"/><path d="M1184.8 945.3L1190.1 956.1L1179.6 956.1Z" fill="#858585"/><path d="M1197.2 920.7L1202.4 931.5L1191.9 931.5Z" fill="#858585"/><path d="M1209.5 875.5L1214.8 886.3L1204.2 886.3Z" fill="#858585"/><path d="M1221.8 843.2L1227.1 854L1216.5 854Z" fill="#858585"/><path d="M1234.1 787.6L1239.4 798.4L1228.9 798.4Z" fill="#858585"/><path d="M1246.5 790.2L1251.7 801L1241.2 801Z" fill="#858585"/><path d="M1258.8 810.9L1264.1 821.7L1253.5 821.7Z" fill="#858585"/><path d="M1271.1 816.1L1276.4 826.9L1265.8 826.9Z" fill="#858585"/><path d="M1283.4 819.9L1288.7 830.7L1278.2 830.7Z" fill="#858585"/><path d="M1295.8 821.2L1301 832L1290.5 832Z" fill="#858585"/><path d="M1308.1 810.9L1313.4 821.7L1302.8 821.7Z" fill="#858585"/><path d="M1320.4 752.8L1325.7 763.6L1315.1 763.6Z" fill="#858585"/><path d="M1332.7 724.3L1338 735.1L1327.5 735.1Z" fill="#858585"/><path d="M1345.1 676.5L1350.3 687.3L1339.8 687.3Z" fill="#858585"/><path d="M1357.4 730.8L1362.7 741.6L1352.1 741.6Z" fill="#858585"/><path d="M1369.7 763.1L1375 773.9L1364.4 773.9Z" fill="#858585"/><path d="M1382 804.4L1387.3 815.2L1376.8 815.2Z" fill="#858585"/><path d="M1394.4 810.9L1399.6 821.7L1389.1 821.7Z" fill="#858585"/><path d="M1406.7 754L1412 764.8L1401.4 764.8Z" fill="#858585"/><path d="M1419 746.3L1424.3 757.1L1413.7 757.1Z" fill="#858585"/><path d="M1431.3 754L1436.6 764.8L1426.1 764.8Z" fill="#858585"/><path d="M1443.7 739.8L1448.9 750.6L1438.4 750.6Z" fill="#858585"/><path d="M1456 773.4L1461.3 784.2L1450.7 784.2Z" fill="#858585"/><path d="M1468.3 740.6L1473.6 751.4L1463 751.4Z" fill="#858585"/><path d="M1480.6 795.4L1485.9 806.2L1475.4 806.2Z" fill="#858585"/><path d="M1493 726.9L1498.2 737.7L1487.7 737.7Z" fill="#858585"/><path d="M1505.3 723L1510.6 733.8L1500 733.8Z" fill="#858585"/><path d="M1517.6 723L1522.9 733.8L1512.3 733.8Z" fill="#858585"/><path d="M1529.9 681.7L1535.2 692.5L1524.7 692.5Z" fill="#858585"/><path d="M1542.3 702.4L1547.5 713.2L1537 713.2Z" fill="#858585"/><path d="M1554.6 737.3L1559.9 748.1L1549.3 748.1Z" fill="#858585"/><path d="M1566.9 776L1572.2 786.8L1561.6 786.8Z" fill="#858585"/><path d="M1579.2 752.8L1584.5 763.6L1574 763.6Z" fill="#858585"/><path d="M1591.6 719.2L1596.8 730L1586.3 730Z" fill="#858585"/><path d="M1603.9 725.6L1609.2 736.4L1598.6 736.4Z" fill="#858585"/><path d="M1616.2 702.4L1621.5 713.2L1610.9 713.2Z" fill="#858585"/><path d="M1628.5 721.7L1633.8 732.5L1623.3 732.5Z" fill="#858585"/><path d="M1640.9 686.9L1646.1 697.7L1635.6 697.7Z" fill="#858585"/><path d="M1653.2 680.4L1658.5 691.2L1647.9 691.2Z" fill="#858585"/><path d="M1665.5 752.8L1670.8 763.6L1660.2 763.6Z" fill="#858585"/><path d="M1677.8 711.4L1683.1 722.2L1672.6 722.2Z" fill="#858585"/><path d="M1690.2 706.2L1695.4 717L1684.9 717Z" fill="#858585"/><path d="M1702.5 723L1707.8 733.8L1697.2 733.8Z" fill="#858585"/><path d="M1714.8 741.1L1720.1 751.9L1709.5 751.9Z" fill="#858585"/><path d="M1727.1 745L1732.4 755.8L1721.9 755.8Z" fill="#858585"/><path d="M1739.5 746.3L1744.7 757.1L1734.2 757.1Z" fill="#858585"/><path d="M1751.8 734.7L1757.1 745.5L1746.5 745.5Z" fill="#858585"/><path d="M1764.1 730.8L1769.4 741.6L1758.8 741.6Z" fill="#858585"/><path d="M1776.4 736L1781.7 746.8L1771.2 746.8Z" fill="#858585"/><path d="M1788.8 752.8L1794 763.6L1783.5 763.6Z" fill="#858585"/><path d="M1801.1 723L1806.4 733.8L1795.8 733.8Z" fill="#858585"/><path d="M1813.4 751.5L1818.7 762.3L1808.1 762.3Z" fill="#858585"/><path d="M1825.7 702.4L1831 713.2L1820.5 713.2Z" fill="#858585"/><path d="M1838.1 706.2L1843.3 717L1832.8 717Z" fill="#858585"/><path d="M1850.4 703.7L1855.7 714.5L1845.1 714.5Z" fill="#858585"/><path d="M1862.7 728.2L1868 739L1857.4 739Z" fill="#858585"/><path d="M1875 716.6L1880.3 727.4L1869.8 727.4Z" fill="#858585"/></g><g><path d="M1098.6 1086L1110.9 990.3M1110.9 990.3L1123.2 949M1123.2 949L1135.5 951.5M1135.5 951.5L1147.9 932.2M1147.9 932.2L1160.2 958M1160.2 958L1172.5 949M1172.5 949L1184.8 947.7M1184.8 947.7L1197.2 923.1M1197.2 923.1L1209.5 877.9M1209.5 877.9L1221.8 845.6M1221.8 845.6L1234.1 774M1234.1 774L1246.5 792.6M1246.5 792.6L1258.8 813.3M1258.8 813.3L1271.1 818.5M1271.1 818.5L1283.4 822.3M1283.4 822.3L1295.8 823.6M1295.8 823.6L1308.1 813.3M1308.1 813.3L1320.4 755.2M1320.4 755.2L1332.7 726.7M1332.7 726.7L1345.1 673.6M1345.1 673.6L1357.4 733.2M1357.4 733.2L1369.7 765.5M1369.7 765.5L1382 806.8M1382 806.8L1394.4 831M1394.4 831L1406.7 756.4M1406.7 756.4L1419 748.7M1419 748.7L1431.3 777M1431.3 777L1443.7 742.2M1443.7 742.2L1456 775.8M1456 775.8L1468.3 753.9M1468.3 753.9L1480.6 797.8M1480.6 797.8L1493 696.8M1493 696.8L1505.3 725.4M1505.3 725.4L1517.6 725.4M1517.6 725.4L1529.9 678.8M1529.9 678.8L1542.3 704.8M1542.3 704.8L1554.6 739.7M1554.6 739.7L1566.9 778.4M1566.9 778.4L1579.2 755.2M1579.2 755.2L1591.6 721.6M1591.6 721.6L1603.9 728M1603.9 728L1616.2 704.8M1616.2 704.8L1628.5 724.1M1628.5 724.1L1640.9 689.3M1640.9 689.3L1653.2 680M1653.2 680L1665.5 755.2M1665.5 755.2L1677.8 713.8M1677.8 713.8L1690.2 708.6M1690.2 708.6L1702.5 725.4M1702.5 725.4L1714.8 743.5M1714.8 743.5L1727.1 747.4M1727.1 747.4L1739.5 748.7M1739.5 748.7L1751.8 737.1M1751.8 737.1L1764.1 733.2M1764.1 733.2L1776.4 738.4M1776.4 738.4L1788.8 755.2M1788.8 755.2L1801.1 706M1801.1 706L1813.4 753.9M1813.4 753.9L1825.7 689M1825.7 689L1838.1 708.6M1838.1 708.6L1850.4 697M1850.4 697L1862.7 730.6M1862.7 730.6L1875 711" fill="none" stroke="#4a4a4a" stroke-width="3.8" stroke-dasharray="15 12.5" stroke-linejoin="round" stroke-linecap="butt"/><rect x="1093.5" y="1080.8" width="10" height="10.4" fill="#4a4a4a"/><path d="M1093.5 1080.8L1103.6 1091.2M1103.6 1080.8L1093.5 1091.2" stroke="#2e2e2e" stroke-width="1.3" fill="none"/><rect x="1105.9" y="985.1" width="10" height="10.4" fill="#4a4a4a"/><path d="M1105.9 985.1L1115.9 995.5M1115.9 985.1L1105.9 995.5" stroke="#2e2e2e" stroke-width="1.3" fill="none"/><rect x="1118.2" y="943.8" width="10" height="10.4" fill="#4a4a4a"/><path d="M1118.2 943.8L1128.2 954.2M1128.2 943.8L1118.2 954.2" stroke="#2e2e2e" stroke-width="1.3" fill="none"/><rect x="1130.5" y="946.3" width="10" height="10.4" fill="#4a4a4a"/><path d="M1130.5 946.3L1140.6 956.7M1140.6 946.3L1130.5 956.7" stroke="#2e2e2e" stroke-width="1.3" fill="none"/><rect x="1142.8" y="927" width="10" height="10.4" fill="#4a4a4a"/><path d="M1142.8 927L1152.9 937.4M1152.9 927L1142.8 937.4" stroke="#2e2e2e" stroke-width="1.3" fill="none"/><rect x="1155.2" y="952.8" width="10" height="10.4" fill="#4a4a4a"/><path d="M1155.2 952.8L1165.2 963.2M1165.2 952.8L1155.2 963.2" stroke="#2e2e2e" stroke-width="1.3" fill="none"/><rect x="1167.5" y="943.8" width="10" height="10.4" fill="#4a4a4a"/><path d="M1167.5 943.8L1177.5 954.2M1177.5 943.8L1167.5 954.2" stroke="#2e2e2e" stroke-width="1.3" fill="none"/><rect x="1179.8" y="942.5" width="10" height="10.4" fill="#4a4a4a"/><path d="M1179.8 942.5L1189.9 952.9M1189.9 942.5L1179.8 952.9" stroke="#2e2e2e" stroke-width="1.3" fill="none"/><rect x="1192.1" y="917.9" width="10" height="10.4" fill="#4a4a4a"/><path d="M1192.1 917.9L1202.2 928.3M1202.2 917.9L1192.1 928.3" stroke="#2e2e2e" stroke-width="1.3" fill="none"/><rect x="1204.5" y="872.7" width="10" height="10.4" fill="#4a4a4a"/><path d="M1204.5 872.7L1214.5 883.1M1214.5 872.7L1204.5 883.1" stroke="#2e2e2e" stroke-width="1.3" fill="none"/><rect x="1216.8" y="840.4" width="10" height="10.4" fill="#4a4a4a"/><path d="M1216.8 840.4L1226.8 850.8M1226.8 840.4L1216.8 850.8" stroke="#2e2e2e" stroke-width="1.3" fill="none"/><rect x="1229.1" y="768.8" width="10" height="10.4" fill="#4a4a4a"/><path d="M1229.1 768.8L1239.2 779.2M1239.2 768.8L1229.1 779.2" stroke="#2e2e2e" stroke-width="1.3" fill="none"/><rect x="1241.4" y="787.4" width="10" height="10.4" fill="#4a4a4a"/><path d="M1241.4 787.4L1251.5 797.8M1251.5 787.4L1241.4 797.8" stroke="#2e2e2e" stroke-width="1.3" fill="none"/><rect x="1253.8" y="808.1" width="10" height="10.4" fill="#4a4a4a"/><path d="M1253.8 808.1L1263.8 818.5M1263.8 808.1L1253.8 818.5" stroke="#2e2e2e" stroke-width="1.3" fill="none"/><rect x="1266.1" y="813.3" width="10" height="10.4" fill="#4a4a4a"/><path d="M1266.1 813.3L1276.1 823.7M1276.1 813.3L1266.1 823.7" stroke="#2e2e2e" stroke-width="1.3" fill="none"/><rect x="1278.4" y="817.1" width="10" height="10.4" fill="#4a4a4a"/><path d="M1278.4 817.1L1288.5 827.5M1288.5 817.1L1278.4 827.5" stroke="#2e2e2e" stroke-width="1.3" fill="none"/><rect x="1290.7" y="818.4" width="10" height="10.4" fill="#4a4a4a"/><path d="M1290.7 818.4L1300.8 828.8M1300.8 818.4L1290.7 828.8" stroke="#2e2e2e" stroke-width="1.3" fill="none"/><rect x="1303.1" y="808.1" width="10" height="10.4" fill="#4a4a4a"/><path d="M1303.1 808.1L1313.1 818.5M1313.1 808.1L1303.1 818.5" stroke="#2e2e2e" stroke-width="1.3" fill="none"/><rect x="1315.4" y="750" width="10" height="10.4" fill="#4a4a4a"/><path d="M1315.4 750L1325.4 760.4M1325.4 750L1315.4 760.4" stroke="#2e2e2e" stroke-width="1.3" fill="none"/><rect x="1327.7" y="721.5" width="10" height="10.4" fill="#4a4a4a"/><path d="M1327.7 721.5L1337.8 731.9M1337.8 721.5L1327.7 731.9" stroke="#2e2e2e" stroke-width="1.3" fill="none"/><rect x="1340" y="668.4" width="10" height="10.4" fill="#4a4a4a"/><path d="M1340 668.4L1350.1 678.8M1350.1 668.4L1340 678.8" stroke="#2e2e2e" stroke-width="1.3" fill="none"/><rect x="1352.4" y="728" width="10" height="10.4" fill="#4a4a4a"/><path d="M1352.4 728L1362.4 738.4M1362.4 728L1352.4 738.4" stroke="#2e2e2e" stroke-width="1.3" fill="none"/><rect x="1364.7" y="760.3" width="10" height="10.4" fill="#4a4a4a"/><path d="M1364.7 760.3L1374.7 770.7M1374.7 760.3L1364.7 770.7" stroke="#2e2e2e" stroke-width="1.3" fill="none"/><rect x="1377" y="801.6" width="10" height="10.4" fill="#4a4a4a"/><path d="M1377 801.6L1387.1 812M1387.1 801.6L1377 812" stroke="#2e2e2e" stroke-width="1.3" fill="none"/><rect x="1389.3" y="825.8" width="10" height="10.4" fill="#4a4a4a"/><path d="M1389.3 825.8L1399.4 836.2M1399.4 825.8L1389.3 836.2" stroke="#2e2e2e" stroke-width="1.3" fill="none"/><rect x="1401.7" y="751.2" width="10" height="10.4" fill="#4a4a4a"/><path d="M1401.7 751.2L1411.7 761.6M1411.7 751.2L1401.7 761.6" stroke="#2e2e2e" stroke-width="1.3" fill="none"/><rect x="1414" y="743.5" width="10" height="10.4" fill="#4a4a4a"/><path d="M1414 743.5L1424 753.9M1424 743.5L1414 753.9" stroke="#2e2e2e" stroke-width="1.3" fill="none"/><rect x="1426.3" y="771.8" width="10" height="10.4" fill="#4a4a4a"/><path d="M1426.3 771.8L1436.4 782.2M1436.4 771.8L1426.3 782.2" stroke="#2e2e2e" stroke-width="1.3" fill="none"/><rect x="1438.6" y="737" width="10" height="10.4" fill="#4a4a4a"/><path d="M1438.6 737L1448.7 747.4M1448.7 737L1438.6 747.4" stroke="#2e2e2e" stroke-width="1.3" fill="none"/><rect x="1451" y="770.6" width="10" height="10.4" fill="#4a4a4a"/><path d="M1451 770.6L1461 781M1461 770.6L1451 781" stroke="#2e2e2e" stroke-width="1.3" fill="none"/><rect x="1463.3" y="748.7" width="10" height="10.4" fill="#4a4a4a"/><path d="M1463.3 748.7L1473.3 759.1M1473.3 748.7L1463.3 759.1" stroke="#2e2e2e" stroke-width="1.3" fill="none"/><rect x="1475.6" y="792.6" width="10" height="10.4" fill="#4a4a4a"/><path d="M1475.6 792.6L1485.7 803M1485.7 792.6L1475.6 803" stroke="#2e2e2e" stroke-width="1.3" fill="none"/><rect x="1487.9" y="691.6" width="10" height="10.4" fill="#4a4a4a"/><path d="M1487.9 691.6L1498 702M1498 691.6L1487.9 702" stroke="#2e2e2e" stroke-width="1.3" fill="none"/><rect x="1500.3" y="720.2" width="10" height="10.4" fill="#4a4a4a"/><path d="M1500.3 720.2L1510.3 730.6M1510.3 720.2L1500.3 730.6" stroke="#2e2e2e" stroke-width="1.3" fill="none"/><rect x="1512.6" y="720.2" width="10" height="10.4" fill="#4a4a4a"/><path d="M1512.6 720.2L1522.6 730.6M1522.6 720.2L1512.6 730.6" stroke="#2e2e2e" stroke-width="1.3" fill="none"/><rect x="1524.9" y="673.6" width="10" height="10.4" fill="#4a4a4a"/><path d="M1524.9 673.6L1535 684M1535 673.6L1524.9 684" stroke="#2e2e2e" stroke-width="1.3" fill="none"/><rect x="1537.2" y="699.6" width="10" height="10.4" fill="#4a4a4a"/><path d="M1537.2 699.6L1547.3 710M1547.3 699.6L1537.2 710" stroke="#2e2e2e" stroke-width="1.3" fill="none"/><rect x="1549.6" y="734.5" width="10" height="10.4" fill="#4a4a4a"/><path d="M1549.6 734.5L1559.6 744.9M1559.6 734.5L1549.6 744.9" stroke="#2e2e2e" stroke-width="1.3" fill="none"/><rect x="1561.9" y="773.2" width="10" height="10.4" fill="#4a4a4a"/><path d="M1561.9 773.2L1571.9 783.6M1571.9 773.2L1561.9 783.6" stroke="#2e2e2e" stroke-width="1.3" fill="none"/><rect x="1574.2" y="750" width="10" height="10.4" fill="#4a4a4a"/><path d="M1574.2 750L1584.3 760.4M1584.3 750L1574.2 760.4" stroke="#2e2e2e" stroke-width="1.3" fill="none"/><rect x="1586.5" y="716.4" width="10" height="10.4" fill="#4a4a4a"/><path d="M1586.5 716.4L1596.6 726.8M1596.6 716.4L1586.5 726.8" stroke="#2e2e2e" stroke-width="1.3" fill="none"/><rect x="1598.9" y="722.8" width="10" height="10.4" fill="#4a4a4a"/><path d="M1598.9 722.8L1608.9 733.2M1608.9 722.8L1598.9 733.2" stroke="#2e2e2e" stroke-width="1.3" fill="none"/><rect x="1611.2" y="699.6" width="10" height="10.4" fill="#4a4a4a"/><path d="M1611.2 699.6L1621.2 710M1621.2 699.6L1611.2 710" stroke="#2e2e2e" stroke-width="1.3" fill="none"/><rect x="1623.5" y="718.9" width="10" height="10.4" fill="#4a4a4a"/><path d="M1623.5 718.9L1633.6 729.3M1633.6 718.9L1623.5 729.3" stroke="#2e2e2e" stroke-width="1.3" fill="none"/><rect x="1635.8" y="684.1" width="10" height="10.4" fill="#4a4a4a"/><path d="M1635.8 684.1L1645.9 694.5M1645.9 684.1L1635.8 694.5" stroke="#2e2e2e" stroke-width="1.3" fill="none"/><rect x="1648.2" y="674.8" width="10" height="10.4" fill="#4a4a4a"/><path d="M1648.2 674.8L1658.2 685.2M1658.2 674.8L1648.2 685.2" stroke="#2e2e2e" stroke-width="1.3" fill="none"/><rect x="1660.5" y="750" width="10" height="10.4" fill="#4a4a4a"/><path d="M1660.5 750L1670.5 760.4M1670.5 750L1660.5 760.4" stroke="#2e2e2e" stroke-width="1.3" fill="none"/><rect x="1672.8" y="708.6" width="10" height="10.4" fill="#4a4a4a"/><path d="M1672.8 708.6L1682.9 719M1682.9 708.6L1672.8 719" stroke="#2e2e2e" stroke-width="1.3" fill="none"/><rect x="1685.1" y="703.4" width="10" height="10.4" fill="#4a4a4a"/><path d="M1685.1 703.4L1695.2 713.8M1695.2 703.4L1685.1 713.8" stroke="#2e2e2e" stroke-width="1.3" fill="none"/><rect x="1697.5" y="720.2" width="10" height="10.4" fill="#4a4a4a"/><path d="M1697.5 720.2L1707.5 730.6M1707.5 720.2L1697.5 730.6" stroke="#2e2e2e" stroke-width="1.3" fill="none"/><rect x="1709.8" y="738.3" width="10" height="10.4" fill="#4a4a4a"/><path d="M1709.8 738.3L1719.8 748.7M1719.8 738.3L1709.8 748.7" stroke="#2e2e2e" stroke-width="1.3" fill="none"/><rect x="1722.1" y="742.2" width="10" height="10.4" fill="#4a4a4a"/><path d="M1722.1 742.2L1732.2 752.6M1732.2 742.2L1722.1 752.6" stroke="#2e2e2e" stroke-width="1.3" fill="none"/><rect x="1734.4" y="743.5" width="10" height="10.4" fill="#4a4a4a"/><path d="M1734.4 743.5L1744.5 753.9M1744.5 743.5L1734.4 753.9" stroke="#2e2e2e" stroke-width="1.3" fill="none"/><rect x="1746.8" y="731.9" width="10" height="10.4" fill="#4a4a4a"/><path d="M1746.8 731.9L1756.8 742.3M1756.8 731.9L1746.8 742.3" stroke="#2e2e2e" stroke-width="1.3" fill="none"/><rect x="1759.1" y="728" width="10" height="10.4" fill="#4a4a4a"/><path d="M1759.1 728L1769.1 738.4M1769.1 728L1759.1 738.4" stroke="#2e2e2e" stroke-width="1.3" fill="none"/><rect x="1771.4" y="733.2" width="10" height="10.4" fill="#4a4a4a"/><path d="M1771.4 733.2L1781.5 743.6M1781.5 733.2L1771.4 743.6" stroke="#2e2e2e" stroke-width="1.3" fill="none"/><rect x="1783.7" y="750" width="10" height="10.4" fill="#4a4a4a"/><path d="M1783.7 750L1793.8 760.4M1793.8 750L1783.7 760.4" stroke="#2e2e2e" stroke-width="1.3" fill="none"/><rect x="1796.1" y="700.8" width="10" height="10.4" fill="#4a4a4a"/><path d="M1796.1 700.8L1806.1 711.2M1806.1 700.8L1796.1 711.2" stroke="#2e2e2e" stroke-width="1.3" fill="none"/><rect x="1808.4" y="748.7" width="10" height="10.4" fill="#4a4a4a"/><path d="M1808.4 748.7L1818.4 759.1M1818.4 748.7L1808.4 759.1" stroke="#2e2e2e" stroke-width="1.3" fill="none"/><rect x="1820.7" y="683.8" width="10" height="10.4" fill="#4a4a4a"/><path d="M1820.7 683.8L1830.8 694.2M1830.8 683.8L1820.7 694.2" stroke="#2e2e2e" stroke-width="1.3" fill="none"/><rect x="1833" y="703.4" width="10" height="10.4" fill="#4a4a4a"/><path d="M1833 703.4L1843.1 713.8M1843.1 703.4L1833 713.8" stroke="#2e2e2e" stroke-width="1.3" fill="none"/><rect x="1845.4" y="691.8" width="10" height="10.4" fill="#4a4a4a"/><path d="M1845.4 691.8L1855.4 702.2M1855.4 691.8L1845.4 702.2" stroke="#2e2e2e" stroke-width="1.3" fill="none"/><rect x="1857.7" y="725.4" width="10" height="10.4" fill="#4a4a4a"/><path d="M1857.7 725.4L1867.7 735.8M1867.7 725.4L1857.7 735.8" stroke="#2e2e2e" stroke-width="1.3" fill="none"/><rect x="1870" y="705.8" width="10" height="10.4" fill="#4a4a4a"/><path d="M1870 705.8L1880.1 716.2M1880.1 705.8L1870 716.2" stroke="#2e2e2e" stroke-width="1.3" fill="none"/></g><g><path d="M1098.6 1082L1110.9 991.3L1123.2 950L1135.5 952.5L1147.9 933.2L1160.2 959L1172.5 950L1184.8 948.7L1197.2 924.1L1209.5 878.9L1221.8 846.6L1234.1 791L1246.5 793.6L1258.8 814.3L1271.1 819.5L1283.4 823.3L1295.8 824.6L1308.1 814.3L1320.4 756.2L1332.7 727.7L1345.1 679.9L1357.4 734.2L1369.7 766.5L1382 807.8L1394.4 814.3L1406.7 757.4L1419 749.7L1431.3 757.4L1443.7 743.2L1456 776.8L1468.3 754.9L1480.6 798.8L1493 698L1505.3 726.4L1517.6 726.4L1529.9 685.1L1542.3 705.8L1554.6 740.7L1566.9 779.4L1579.2 756.2L1591.6 716L1603.9 729L1616.2 705.8L1628.5 725.1L1640.9 671L1653.2 681L1665.5 759L1677.8 710L1690.2 694L1702.5 717.5L1714.8 735.6L1727.1 695.6L1739.5 740.8L1751.8 729L1764.1 722.7L1776.4 735.6L1788.8 737L1801.1 712.4L1813.4 766.6L1825.7 687.8L1838.1 704.6L1850.4 695.6L1862.7 725.3L1875 709.8" fill="none" stroke="#000000" stroke-width="3.8" stroke-linejoin="round" stroke-linecap="butt"/><path d="M1094.1 1077.5L1103.1 1086.5M1103.1 1077.5L1094.1 1086.5M1098.6 1077.5L1098.6 1086.5" stroke="#000000" stroke-width="1.15" fill="none"/><path d="M1106.4 986.8L1115.4 995.8M1115.4 986.8L1106.4 995.8M1110.9 986.8L1110.9 995.8" stroke="#000000" stroke-width="1.15" fill="none"/><path d="M1118.7 945.5L1127.7 954.5M1127.7 945.5L1118.7 954.5M1123.2 945.5L1123.2 954.5" stroke="#000000" stroke-width="1.15" fill="none"/><path d="M1131 948L1140 957M1140 948L1131 957M1135.5 948L1135.5 957" stroke="#000000" stroke-width="1.15" fill="none"/><path d="M1143.4 928.7L1152.4 937.7M1152.4 928.7L1143.4 937.7M1147.9 928.7L1147.9 937.7" stroke="#000000" stroke-width="1.15" fill="none"/><path d="M1155.7 954.5L1164.7 963.5M1164.7 954.5L1155.7 963.5M1160.2 954.5L1160.2 963.5" stroke="#000000" stroke-width="1.15" fill="none"/><path d="M1168 945.5L1177 954.5M1177 945.5L1168 954.5M1172.5 945.5L1172.5 954.5" stroke="#000000" stroke-width="1.15" fill="none"/><path d="M1180.3 944.2L1189.3 953.2M1189.3 944.2L1180.3 953.2M1184.8 944.2L1184.8 953.2" stroke="#000000" stroke-width="1.15" fill="none"/><path d="M1192.7 919.6L1201.7 928.6M1201.7 919.6L1192.7 928.6M1197.2 919.6L1197.2 928.6" stroke="#000000" stroke-width="1.15" fill="none"/><path d="M1205 874.4L1214 883.4M1214 874.4L1205 883.4M1209.5 874.4L1209.5 883.4" stroke="#000000" stroke-width="1.15" fill="none"/><path d="M1217.3 842.1L1226.3 851.1M1226.3 842.1L1217.3 851.1M1221.8 842.1L1221.8 851.1" stroke="#000000" stroke-width="1.15" fill="none"/><path d="M1229.6 786.5L1238.6 795.5M1238.6 786.5L1229.6 795.5M1234.1 786.5L1234.1 795.5" stroke="#000000" stroke-width="1.15" fill="none"/><path d="M1242 789.1L1251 798.1M1251 789.1L1242 798.1M1246.5 789.1L1246.5 798.1" stroke="#000000" stroke-width="1.15" fill="none"/><path d="M1254.3 809.8L1263.3 818.8M1263.3 809.8L1254.3 818.8M1258.8 809.8L1258.8 818.8" stroke="#000000" stroke-width="1.15" fill="none"/><path d="M1266.6 815L1275.6 824M1275.6 815L1266.6 824M1271.1 815L1271.1 824" stroke="#000000" stroke-width="1.15" fill="none"/><path d="M1278.9 818.8L1287.9 827.8M1287.9 818.8L1278.9 827.8M1283.4 818.8L1283.4 827.8" stroke="#000000" stroke-width="1.15" fill="none"/><path d="M1291.3 820.1L1300.3 829.1M1300.3 820.1L1291.3 829.1M1295.8 820.1L1295.8 829.1" stroke="#000000" stroke-width="1.15" fill="none"/><path d="M1303.6 809.8L1312.6 818.8M1312.6 809.8L1303.6 818.8M1308.1 809.8L1308.1 818.8" stroke="#000000" stroke-width="1.15" fill="none"/><path d="M1315.9 751.7L1324.9 760.7M1324.9 751.7L1315.9 760.7M1320.4 751.7L1320.4 760.7" stroke="#000000" stroke-width="1.15" fill="none"/><path d="M1328.2 723.2L1337.2 732.2M1337.2 723.2L1328.2 732.2M1332.7 723.2L1332.7 732.2" stroke="#000000" stroke-width="1.15" fill="none"/><path d="M1340.6 675.4L1349.6 684.4M1349.6 675.4L1340.6 684.4M1345.1 675.4L1345.1 684.4" stroke="#000000" stroke-width="1.15" fill="none"/><path d="M1352.9 729.7L1361.9 738.7M1361.9 729.7L1352.9 738.7M1357.4 729.7L1357.4 738.7" stroke="#000000" stroke-width="1.15" fill="none"/><path d="M1365.2 762L1374.2 771M1374.2 762L1365.2 771M1369.7 762L1369.7 771" stroke="#000000" stroke-width="1.15" fill="none"/><path d="M1377.5 803.3L1386.5 812.3M1386.5 803.3L1377.5 812.3M1382 803.3L1382 812.3" stroke="#000000" stroke-width="1.15" fill="none"/><path d="M1389.9 809.8L1398.9 818.8M1398.9 809.8L1389.9 818.8M1394.4 809.8L1394.4 818.8" stroke="#000000" stroke-width="1.15" fill="none"/><path d="M1402.2 752.9L1411.2 761.9M1411.2 752.9L1402.2 761.9M1406.7 752.9L1406.7 761.9" stroke="#000000" stroke-width="1.15" fill="none"/><path d="M1414.5 745.2L1423.5 754.2M1423.5 745.2L1414.5 754.2M1419 745.2L1419 754.2" stroke="#000000" stroke-width="1.15" fill="none"/><path d="M1426.8 752.9L1435.8 761.9M1435.8 752.9L1426.8 761.9M1431.3 752.9L1431.3 761.9" stroke="#000000" stroke-width="1.15" fill="none"/><path d="M1439.2 738.7L1448.2 747.7M1448.2 738.7L1439.2 747.7M1443.7 738.7L1443.7 747.7" stroke="#000000" stroke-width="1.15" fill="none"/><path d="M1451.5 772.3L1460.5 781.3M1460.5 772.3L1451.5 781.3M1456 772.3L1456 781.3" stroke="#000000" stroke-width="1.15" fill="none"/><path d="M1463.8 750.4L1472.8 759.4M1472.8 750.4L1463.8 759.4M1468.3 750.4L1468.3 759.4" stroke="#000000" stroke-width="1.15" fill="none"/><path d="M1476.1 794.3L1485.1 803.3M1485.1 794.3L1476.1 803.3M1480.6 794.3L1480.6 803.3" stroke="#000000" stroke-width="1.15" fill="none"/><path d="M1488.5 693.5L1497.5 702.5M1497.5 693.5L1488.5 702.5M1493 693.5L1493 702.5" stroke="#000000" stroke-width="1.15" fill="none"/><path d="M1500.8 721.9L1509.8 730.9M1509.8 721.9L1500.8 730.9M1505.3 721.9L1505.3 730.9" stroke="#000000" stroke-width="1.15" fill="none"/><path d="M1513.1 721.9L1522.1 730.9M1522.1 721.9L1513.1 730.9M1517.6 721.9L1517.6 730.9" stroke="#000000" stroke-width="1.15" fill="none"/><path d="M1525.4 680.6L1534.4 689.6M1534.4 680.6L1525.4 689.6M1529.9 680.6L1529.9 689.6" stroke="#000000" stroke-width="1.15" fill="none"/><path d="M1537.8 701.3L1546.8 710.3M1546.8 701.3L1537.8 710.3M1542.3 701.3L1542.3 710.3" stroke="#000000" stroke-width="1.15" fill="none"/><path d="M1550.1 736.2L1559.1 745.2M1559.1 736.2L1550.1 745.2M1554.6 736.2L1554.6 745.2" stroke="#000000" stroke-width="1.15" fill="none"/><path d="M1562.4 774.9L1571.4 783.9M1571.4 774.9L1562.4 783.9M1566.9 774.9L1566.9 783.9" stroke="#000000" stroke-width="1.15" fill="none"/><path d="M1574.7 751.7L1583.7 760.7M1583.7 751.7L1574.7 760.7M1579.2 751.7L1579.2 760.7" stroke="#000000" stroke-width="1.15" fill="none"/><path d="M1587.1 711.5L1596.1 720.5M1596.1 711.5L1587.1 720.5M1591.6 711.5L1591.6 720.5" stroke="#000000" stroke-width="1.15" fill="none"/><path d="M1599.4 724.5L1608.4 733.5M1608.4 724.5L1599.4 733.5M1603.9 724.5L1603.9 733.5" stroke="#000000" stroke-width="1.15" fill="none"/><path d="M1611.7 701.3L1620.7 710.3M1620.7 701.3L1611.7 710.3M1616.2 701.3L1616.2 710.3" stroke="#000000" stroke-width="1.15" fill="none"/><path d="M1624 720.6L1633 729.6M1633 720.6L1624 729.6M1628.5 720.6L1628.5 729.6" stroke="#000000" stroke-width="1.15" fill="none"/><path d="M1636.4 666.5L1645.4 675.5M1645.4 666.5L1636.4 675.5M1640.9 666.5L1640.9 675.5" stroke="#000000" stroke-width="1.15" fill="none"/><path d="M1648.7 676.5L1657.7 685.5M1657.7 676.5L1648.7 685.5M1653.2 676.5L1653.2 685.5" stroke="#000000" stroke-width="1.15" fill="none"/><path d="M1661 754.5L1670 763.5M1670 754.5L1661 763.5M1665.5 754.5L1665.5 763.5" stroke="#000000" stroke-width="1.15" fill="none"/><path d="M1673.3 705.5L1682.3 714.5M1682.3 705.5L1673.3 714.5M1677.8 705.5L1677.8 714.5" stroke="#000000" stroke-width="1.15" fill="none"/><path d="M1685.7 689.5L1694.7 698.5M1694.7 689.5L1685.7 698.5M1690.2 689.5L1690.2 698.5" stroke="#000000" stroke-width="1.15" fill="none"/><path d="M1698 713L1707 722M1707 713L1698 722M1702.5 713L1702.5 722" stroke="#000000" stroke-width="1.15" fill="none"/><path d="M1710.3 731.1L1719.3 740.1M1719.3 731.1L1710.3 740.1M1714.8 731.1L1714.8 740.1" stroke="#000000" stroke-width="1.15" fill="none"/><path d="M1722.6 691.1L1731.6 700.1M1731.6 691.1L1722.6 700.1M1727.1 691.1L1727.1 700.1" stroke="#000000" stroke-width="1.15" fill="none"/><path d="M1735 736.3L1744 745.3M1744 736.3L1735 745.3M1739.5 736.3L1739.5 745.3" stroke="#000000" stroke-width="1.15" fill="none"/><path d="M1747.3 724.5L1756.3 733.5M1756.3 724.5L1747.3 733.5M1751.8 724.5L1751.8 733.5" stroke="#000000" stroke-width="1.15" fill="none"/><path d="M1759.6 718.2L1768.6 727.2M1768.6 718.2L1759.6 727.2M1764.1 718.2L1764.1 727.2" stroke="#000000" stroke-width="1.15" fill="none"/><path d="M1771.9 731.1L1780.9 740.1M1780.9 731.1L1771.9 740.1M1776.4 731.1L1776.4 740.1" stroke="#000000" stroke-width="1.15" fill="none"/><path d="M1784.3 732.5L1793.3 741.5M1793.3 732.5L1784.3 741.5M1788.8 732.5L1788.8 741.5" stroke="#000000" stroke-width="1.15" fill="none"/><path d="M1796.6 707.9L1805.6 716.9M1805.6 707.9L1796.6 716.9M1801.1 707.9L1801.1 716.9" stroke="#000000" stroke-width="1.15" fill="none"/><path d="M1808.9 762.1L1817.9 771.1M1817.9 762.1L1808.9 771.1M1813.4 762.1L1813.4 771.1" stroke="#000000" stroke-width="1.15" fill="none"/><path d="M1821.2 683.3L1830.2 692.3M1830.2 683.3L1821.2 692.3M1825.7 683.3L1825.7 692.3" stroke="#000000" stroke-width="1.15" fill="none"/><path d="M1833.6 700.1L1842.6 709.1M1842.6 700.1L1833.6 709.1M1838.1 700.1L1838.1 709.1" stroke="#000000" stroke-width="1.15" fill="none"/><path d="M1845.9 691.1L1854.9 700.1M1854.9 691.1L1845.9 700.1M1850.4 691.1L1850.4 700.1" stroke="#000000" stroke-width="1.15" fill="none"/><path d="M1858.2 720.8L1867.2 729.8M1867.2 720.8L1858.2 729.8M1862.7 720.8L1862.7 729.8" stroke="#000000" stroke-width="1.15" fill="none"/><path d="M1870.5 705.3L1879.5 714.3M1879.5 705.3L1870.5 714.3M1875 705.3L1875 714.3" stroke="#000000" stroke-width="1.15" fill="none"/></g><g><path d="M1098.6 1075.4L1110.9 995.3M1110.9 995.3L1123.2 954M1123.2 954L1135.5 956.5M1135.5 956.5L1147.9 937.2M1147.9 937.2L1160.2 963M1160.2 963L1172.5 954M1172.5 954L1184.8 952.7M1184.8 952.7L1197.2 928.1M1197.2 928.1L1209.5 882.9M1209.5 882.9L1221.8 850.6M1221.8 850.6L1234.1 795M1234.1 795L1246.5 797.6M1246.5 797.6L1258.8 818.3M1258.8 818.3L1271.1 823.5M1271.1 823.5L1283.4 827.3M1283.4 827.3L1295.8 828.6M1295.8 828.6L1308.1 818.3M1308.1 818.3L1320.4 760.2M1320.4 760.2L1332.7 731.7M1332.7 731.7L1345.1 683.9M1345.1 683.9L1357.4 738.2M1357.4 738.2L1369.7 770.5M1369.7 770.5L1382 811.8M1382 811.8L1394.4 818.3M1394.4 818.3L1406.7 761.4M1406.7 761.4L1419 753.7M1419 753.7L1431.3 761.4M1431.3 761.4L1443.7 747.2M1443.7 747.2L1456 780.8M1456 780.8L1468.3 758.9M1468.3 758.9L1480.6 802.8M1480.6 802.8L1493 734.3M1493 734.3L1505.3 730.4M1505.3 730.4L1517.6 730.4M1517.6 730.4L1529.9 689.1M1529.9 689.1L1542.3 709.8M1542.3 709.8L1554.6 744.7M1554.6 744.7L1566.9 783.4M1566.9 783.4L1579.2 760.2M1579.2 760.2L1591.6 726.6M1591.6 726.6L1603.9 733M1603.9 733L1616.2 709.8M1616.2 709.8L1628.5 729.1M1628.5 729.1L1640.9 694.3M1640.9 694.3L1653.2 687.8M1653.2 687.8L1665.5 760.2M1665.5 760.2L1677.8 718.8M1677.8 718.8L1690.2 713.6M1690.2 713.6L1702.5 730.4M1702.5 730.4L1714.8 748.5M1714.8 748.5L1727.1 752.4M1727.1 752.4L1739.5 753.7M1739.5 753.7L1751.8 742.1M1751.8 742.1L1764.1 738.2M1764.1 738.2L1776.4 743.4M1776.4 743.4L1788.8 760.2M1788.8 760.2L1801.1 730.4M1801.1 730.4L1813.4 758.9M1813.4 758.9L1825.7 709.8M1825.7 709.8L1838.1 713.6M1838.1 713.6L1850.4 711.1M1850.4 711.1L1862.7 735.6M1862.7 735.6L1875 724" fill="none" stroke="#000000" stroke-width="3.9" stroke-dasharray="31 11" stroke-linejoin="round" stroke-linecap="butt"/><ellipse cx="1098.6" cy="1075.4" rx="5.2" ry="5.4" fill="#000000"/><ellipse cx="1110.9" cy="995.3" rx="5.2" ry="5.4" fill="#000000"/><ellipse cx="1123.2" cy="954" rx="5.2" ry="5.4" fill="#000000"/><ellipse cx="1135.5" cy="956.5" rx="5.2" ry="5.4" fill="#000000"/><ellipse cx="1147.9" cy="937.2" rx="5.2" ry="5.4" fill="#000000"/><ellipse cx="1160.2" cy="963" rx="5.2" ry="5.4" fill="#000000"/><ellipse cx="1172.5" cy="954" rx="5.2" ry="5.4" fill="#000000"/><ellipse cx="1184.8" cy="952.7" rx="5.2" ry="5.4" fill="#000000"/><ellipse cx="1197.2" cy="928.1" rx="5.2" ry="5.4" fill="#000000"/><ellipse cx="1209.5" cy="882.9" rx="5.2" ry="5.4" fill="#000000"/><ellipse cx="1221.8" cy="850.6" rx="5.2" ry="5.4" fill="#000000"/><ellipse cx="1234.1" cy="795" rx="5.2" ry="5.4" fill="#000000"/><ellipse cx="1246.5" cy="797.6" rx="5.2" ry="5.4" fill="#000000"/><ellipse cx="1258.8" cy="818.3" rx="5.2" ry="5.4" fill="#000000"/><ellipse cx="1271.1" cy="823.5" rx="5.2" ry="5.4" fill="#000000"/><ellipse cx="1283.4" cy="827.3" rx="5.2" ry="5.4" fill="#000000"/><ellipse cx="1295.8" cy="828.6" rx="5.2" ry="5.4" fill="#000000"/><ellipse cx="1308.1" cy="818.3" rx="5.2" ry="5.4" fill="#000000"/><ellipse cx="1320.4" cy="760.2" rx="5.2" ry="5.4" fill="#000000"/><ellipse cx="1332.7" cy="731.7" rx="5.2" ry="5.4" fill="#000000"/><ellipse cx="1345.1" cy="683.9" rx="5.2" ry="5.4" fill="#000000"/><ellipse cx="1357.4" cy="738.2" rx="5.2" ry="5.4" fill="#000000"/><ellipse cx="1369.7" cy="770.5" rx="5.2" ry="5.4" fill="#000000"/><ellipse cx="1382" cy="811.8" rx="5.2" ry="5.4" fill="#000000"/><ellipse cx="1394.4" cy="818.3" rx="5.2" ry="5.4" fill="#000000"/><ellipse cx="1406.7" cy="761.4" rx="5.2" ry="5.4" fill="#000000"/><ellipse cx="1419" cy="753.7" rx="5.2" ry="5.4" fill="#000000"/><ellipse cx="1431.3" cy="761.4" rx="5.2" ry="5.4" fill="#000000"/><ellipse cx="1443.7" cy="747.2" rx="5.2" ry="5.4" fill="#000000"/><ellipse cx="1456" cy="780.8" rx="5.2" ry="5.4" fill="#000000"/><ellipse cx="1468.3" cy="758.9" rx="5.2" ry="5.4" fill="#000000"/><ellipse cx="1480.6" cy="802.8" rx="5.2" ry="5.4" fill="#000000"/><ellipse cx="1493" cy="734.3" rx="5.2" ry="5.4" fill="#000000"/><ellipse cx="1505.3" cy="730.4" rx="5.2" ry="5.4" fill="#000000"/><ellipse cx="1517.6" cy="730.4" rx="5.2" ry="5.4" fill="#000000"/><ellipse cx="1529.9" cy="689.1" rx="5.2" ry="5.4" fill="#000000"/><ellipse cx="1542.3" cy="709.8" rx="5.2" ry="5.4" fill="#000000"/><ellipse cx="1554.6" cy="744.7" rx="5.2" ry="5.4" fill="#000000"/><ellipse cx="1566.9" cy="783.4" rx="5.2" ry="5.4" fill="#000000"/><ellipse cx="1579.2" cy="760.2" rx="5.2" ry="5.4" fill="#000000"/><ellipse cx="1591.6" cy="726.6" rx="5.2" ry="5.4" fill="#000000"/><ellipse cx="1603.9" cy="733" rx="5.2" ry="5.4" fill="#000000"/><ellipse cx="1616.2" cy="709.8" rx="5.2" ry="5.4" fill="#000000"/><ellipse cx="1628.5" cy="729.1" rx="5.2" ry="5.4" fill="#000000"/><ellipse cx="1640.9" cy="694.3" rx="5.2" ry="5.4" fill="#000000"/><ellipse cx="1653.2" cy="687.8" rx="5.2" ry="5.4" fill="#000000"/><ellipse cx="1665.5" cy="760.2" rx="5.2" ry="5.4" fill="#000000"/><ellipse cx="1677.8" cy="718.8" rx="5.2" ry="5.4" fill="#000000"/><ellipse cx="1690.2" cy="713.6" rx="5.2" ry="5.4" fill="#000000"/><ellipse cx="1702.5" cy="730.4" rx="5.2" ry="5.4" fill="#000000"/><ellipse cx="1714.8" cy="748.5" rx="5.2" ry="5.4" fill="#000000"/><ellipse cx="1727.1" cy="752.4" rx="5.2" ry="5.4" fill="#000000"/><ellipse cx="1739.5" cy="753.7" rx="5.2" ry="5.4" fill="#000000"/><ellipse cx="1751.8" cy="742.1" rx="5.2" ry="5.4" fill="#000000"/><ellipse cx="1764.1" cy="738.2" rx="5.2" ry="5.4" fill="#000000"/><ellipse cx="1776.4" cy="743.4" rx="5.2" ry="5.4" fill="#000000"/><ellipse cx="1788.8" cy="760.2" rx="5.2" ry="5.4" fill="#000000"/><ellipse cx="1801.1" cy="730.4" rx="5.2" ry="5.4" fill="#000000"/><ellipse cx="1813.4" cy="758.9" rx="5.2" ry="5.4" fill="#000000"/><ellipse cx="1825.7" cy="709.8" rx="5.2" ry="5.4" fill="#000000"/><ellipse cx="1838.1" cy="713.6" rx="5.2" ry="5.4" fill="#000000"/><ellipse cx="1850.4" cy="711.1" rx="5.2" ry="5.4" fill="#000000"/><ellipse cx="1862.7" cy="735.6" rx="5.2" ry="5.4" fill="#000000"/><ellipse cx="1875" cy="724" rx="5.2" ry="5.4" fill="#000000"/></g></g>
<g id="chartE"><path d="M173.1 1229.1V1651.3M173.1 1650.3V1659.8M185.2 1650.3V1659.8M197.3 1650.3V1659.8M209.3 1650.3V1659.8M221.4 1650.3V1659.8M233.5 1650.3V1659.8M245.6 1650.3V1659.8M257.7 1650.3V1659.8M269.7 1650.3V1659.8M281.8 1650.3V1659.8M293.9 1650.3V1659.8M306 1650.3V1659.8M318.1 1650.3V1659.8M330.1 1650.3V1659.8M342.2 1650.3V1659.8M354.3 1650.3V1659.8M366.4 1650.3V1659.8M378.5 1650.3V1659.8M390.5 1650.3V1659.8M402.6 1650.3V1659.8M414.7 1650.3V1659.8M426.8 1650.3V1659.8M438.9 1650.3V1659.8M450.9 1650.3V1659.8M463 1650.3V1659.8M475.1 1650.3V1659.8M487.2 1650.3V1659.8M499.3 1650.3V1659.8M511.3 1650.3V1659.8M523.4 1650.3V1659.8M535.5 1650.3V1659.8M547.6 1650.3V1659.8M559.6 1650.3V1659.8M571.7 1650.3V1659.8M583.8 1650.3V1659.8M595.9 1650.3V1659.8M608 1650.3V1659.8M620 1650.3V1659.8M632.1 1650.3V1659.8M644.2 1650.3V1659.8M656.3 1650.3V1659.8M668.4 1650.3V1659.8M680.4 1650.3V1659.8M692.5 1650.3V1659.8M704.6 1650.3V1659.8M716.7 1650.3V1659.8M728.8 1650.3V1659.8M740.8 1650.3V1659.8M752.9 1650.3V1659.8M765 1650.3V1659.8M777.1 1650.3V1659.8M789.2 1650.3V1659.8M801.2 1650.3V1659.8M813.3 1650.3V1659.8M825.4 1650.3V1659.8M837.5 1650.3V1659.8M849.6 1650.3V1659.8M861.6 1650.3V1659.8M873.7 1650.3V1659.8M885.8 1650.3V1659.8M897.9 1650.3V1659.8M910 1650.3V1659.8M922 1650.3V1659.8M934.1 1650.3V1659.8M946.2 1650.3V1659.8" stroke="#505050" stroke-width="1.6" fill="none"/><path d="M172.1 1651.3H947.2M164.1 1229.1H173.1M164.1 1276H173.1M164.1 1322.9H173.1M164.1 1369.8H173.1M164.1 1416.7H173.1M164.1 1463.7H173.1M164.1 1510.6H173.1M164.1 1557.5H173.1M164.1 1604.4H173.1M164.1 1651.3H173.1" stroke="#3c3c3c" stroke-width="1.4" fill="none"/><g fill="#000"><text transform="translate(151.6 1241.7) scale(0.88 1)" font-size="29.5" text-anchor="end">2.3</text><text transform="translate(151.6 1288.61) scale(0.88 1)" font-size="29.5" text-anchor="end">2.2</text><text transform="translate(151.6 1335.52) scale(0.88 1)" font-size="29.5" text-anchor="end">2.2</text><text transform="translate(151.6 1382.43) scale(0.88 1)" font-size="29.5" text-anchor="end">2.1</text><text transform="translate(151.6 1429.34) scale(0.88 1)" font-size="29.5" text-anchor="end">2.1</text><text transform="translate(151.6 1476.26) scale(0.88 1)" font-size="29.5" text-anchor="end">2.0</text><text transform="translate(151.6 1523.17) scale(0.88 1)" font-size="29.5" text-anchor="end">2.0</text><text transform="translate(151.6 1570.08) scale(0.88 1)" font-size="29.5" text-anchor="end">1.9</text><text transform="translate(151.6 1616.99) scale(0.88 1)" font-size="29.5" text-anchor="end">1.9</text><text transform="translate(151.6 1663.9) scale(0.88 1)" font-size="29.5" text-anchor="end">1.8</text><text transform="translate(179.14 1704.7) scale(0.88 1)" font-size="29.5" text-anchor="middle">0</text><text transform="translate(263.7 1704.7) scale(0.88 1)" font-size="29.5" text-anchor="middle">7</text><text transform="translate(348.26 1704.7) scale(0.88 1)" font-size="29.5" text-anchor="middle">14</text><text transform="translate(432.81 1704.7) scale(0.88 1)" font-size="29.5" text-anchor="middle">21</text><text transform="translate(517.37 1704.7) scale(0.88 1)" font-size="29.5" text-anchor="middle">28</text><text transform="translate(601.93 1704.7) scale(0.88 1)" font-size="29.5" text-anchor="middle">35</text><text transform="translate(686.49 1704.7) scale(0.88 1)" font-size="29.5" text-anchor="middle">42</text><text transform="translate(771.04 1704.7) scale(0.88 1)" font-size="29.5" text-anchor="middle">49</text><text transform="translate(855.6 1704.7) scale(0.88 1)" font-size="29.5" text-anchor="middle">56</text><text transform="translate(940.16 1704.7) scale(0.88 1)" font-size="29.5" text-anchor="middle">63</text></g><text transform="translate(94.9 1442) rotate(-90) scale(1.107 1)" font-size="25" text-anchor="middle" font-weight="bold" xml:space="preserve">Conductivity  (mS cm<tspan font-size="16" dy="-9">-1</tspan><tspan dy="9">)</tspan></text><text transform="translate(869 1265.6)" font-size="42" text-anchor="middle" font-family="'Liberation Serif', serif">E</text><text transform="translate(559 1752.2) scale(0.982 1)" font-size="26.2" text-anchor="middle" font-weight="bold">Culture time (days)</text><g><path d="M179.1 1501.9L191.2 1463.7M191.2 1463.7L203.3 1457M203.3 1457L215.4 1446.9M215.4 1446.9L227.5 1432.2M227.5 1432.2L239.5 1423.3M239.5 1423.3L251.6 1426.6M251.6 1426.6L263.7 1442.4M263.7 1442.4L275.8 1434.5M275.8 1434.5L287.9 1428.9M287.9 1428.9L299.9 1409.8M299.9 1409.8L312 1423.3M312 1423.3L324.1 1459.2M324.1 1459.2L336.2 1396.3M336.2 1396.3L348.3 1505.3M348.3 1505.3L360.3 1566M360.3 1566L372.4 1528.9M372.4 1528.9L384.5 1560.3M384.5 1560.3L396.6 1585.1M396.6 1585.1L408.7 1583.9M408.7 1583.9L420.7 1578.3M420.7 1578.3L432.8 1585.1M432.8 1585.1L444.9 1554.7M444.9 1554.7L457 1530M457 1530L469.1 1517.6M469.1 1517.6L481.1 1553.6M481.1 1553.6L493.2 1559.2M493.2 1559.2L505.3 1542.4M505.3 1542.4L517.4 1521M517.4 1521L529.5 1509.8M529.5 1509.8L541.5 1500.8M541.5 1500.8L553.6 1490.7M553.6 1490.7L565.7 1532.2M565.7 1532.2L577.8 1480.6M577.8 1480.6L589.8 1489.6M589.8 1489.6L601.9 1442.4M601.9 1442.4L614 1432.2M614 1432.2L626.1 1439M626.1 1439L638.2 1406.4M638.2 1406.4L650.2 1425.5M650.2 1425.5L662.3 1440.1M662.3 1440.1L674.4 1414.3M674.4 1414.3L686.5 1536.1M686.5 1536.1L698.6 1546.9M698.6 1546.9L710.6 1566M710.6 1566L722.7 1516.5M722.7 1516.5L734.8 1539M734.8 1539L746.9 1541.2M746.9 1541.2L759 1478.3M759 1478.3L771 1461.5M771 1461.5L783.1 1509.8M783.1 1509.8L795.2 1486.2M795.2 1486.2L807.3 1479.4M807.3 1479.4L819.4 1510.9M819.4 1510.9L831.4 1470.4M831.4 1470.4L843.5 1481.7M843.5 1481.7L855.6 1482.8M855.6 1482.8L867.7 1490.7M867.7 1490.7L879.8 1415.4M879.8 1415.4L891.8 1510.9M891.8 1510.9L903.9 1454.7M903.9 1454.7L916 1432.2M916 1432.2L928.1 1409.8M928.1 1409.8L940.2 1412" fill="none" stroke="#595959" stroke-width="3.5" stroke-dasharray="0.01 7.7" stroke-linejoin="round" stroke-linecap="round"/><path d="M179.1 1495.2L185.4 1501.9L179.1 1508.6L172.9 1501.9Z" fill="#595959"/><path d="M191.2 1457L197.5 1463.7L191.2 1470.4L184.9 1463.7Z" fill="#595959"/><path d="M203.3 1450.3L209.6 1457L203.3 1463.7L197 1457Z" fill="#595959"/><path d="M215.4 1440.2L221.6 1446.9L215.4 1453.6L209.1 1446.9Z" fill="#595959"/><path d="M227.5 1425.5L233.7 1432.2L227.5 1438.9L221.2 1432.2Z" fill="#595959"/><path d="M239.5 1416.6L245.8 1423.3L239.5 1430L233.3 1423.3Z" fill="#595959"/><path d="M251.6 1419.9L257.9 1426.6L251.6 1433.2L245.3 1426.6Z" fill="#595959"/><path d="M263.7 1435.8L270 1442.4L263.7 1449.1L257.4 1442.4Z" fill="#595959"/><path d="M275.8 1427.8L282 1434.5L275.8 1441.2L269.5 1434.5Z" fill="#595959"/><path d="M287.9 1422.2L294.1 1428.9L287.9 1435.6L281.6 1428.9Z" fill="#595959"/><path d="M299.9 1403.1L306.2 1409.8L299.9 1416.5L293.7 1409.8Z" fill="#595959"/><path d="M312 1416.6L318.3 1423.3L312 1430L305.7 1423.3Z" fill="#595959"/><path d="M324.1 1452.5L330.4 1459.2L324.1 1465.9L317.8 1459.2Z" fill="#595959"/><path d="M336.2 1389.6L342.4 1396.3L336.2 1403L329.9 1396.3Z" fill="#595959"/><path d="M348.3 1498.6L354.5 1505.3L348.3 1512L342 1505.3Z" fill="#595959"/><path d="M360.3 1559.3L366.6 1566L360.3 1572.7L354.1 1566Z" fill="#595959"/><path d="M372.4 1522.2L378.7 1528.9L372.4 1535.6L366.1 1528.9Z" fill="#595959"/><path d="M384.5 1553.6L390.8 1560.3L384.5 1567L378.2 1560.3Z" fill="#595959"/><path d="M396.6 1578.4L402.8 1585.1L396.6 1591.8L390.3 1585.1Z" fill="#595959"/><path d="M408.7 1577.2L414.9 1583.9L408.7 1590.6L402.4 1583.9Z" fill="#595959"/><path d="M420.7 1571.6L427 1578.3L420.7 1585L414.5 1578.3Z" fill="#595959"/><path d="M432.8 1578.4L439.1 1585.1L432.8 1591.8L426.5 1585.1Z" fill="#595959"/><path d="M444.9 1548L451.2 1554.7L444.9 1561.4L438.6 1554.7Z" fill="#595959"/><path d="M457 1523.3L463.2 1530L457 1536.7L450.7 1530Z" fill="#595959"/><path d="M469.1 1510.9L475.3 1517.6L469.1 1524.2L462.8 1517.6Z" fill="#595959"/><path d="M481.1 1546.9L487.4 1553.6L481.1 1560.2L474.9 1553.6Z" fill="#595959"/><path d="M493.2 1552.5L499.5 1559.2L493.2 1565.9L486.9 1559.2Z" fill="#595959"/><path d="M505.3 1535.8L511.6 1542.4L505.3 1549.1L499 1542.4Z" fill="#595959"/><path d="M517.4 1514.3L523.6 1521L517.4 1527.7L511.1 1521Z" fill="#595959"/><path d="M529.5 1503.1L535.7 1509.8L529.5 1516.5L523.2 1509.8Z" fill="#595959"/><path d="M541.5 1494.1L547.8 1500.8L541.5 1507.5L535.3 1500.8Z" fill="#595959"/><path d="M553.6 1484L559.9 1490.7L553.6 1497.4L547.3 1490.7Z" fill="#595959"/><path d="M565.7 1525.5L572 1532.2L565.7 1538.9L559.4 1532.2Z" fill="#595959"/><path d="M577.8 1473.9L584 1480.6L577.8 1487.2L571.5 1480.6Z" fill="#595959"/><path d="M589.8 1482.9L596.1 1489.6L589.8 1496.2L583.6 1489.6Z" fill="#595959"/><path d="M601.9 1435.8L608.2 1442.4L601.9 1449.1L595.7 1442.4Z" fill="#595959"/><path d="M614 1425.5L620.3 1432.2L614 1438.9L607.7 1432.2Z" fill="#595959"/><path d="M626.1 1432.3L632.4 1439L626.1 1445.7L619.8 1439Z" fill="#595959"/><path d="M638.2 1399.8L644.4 1406.4L638.2 1413.1L631.9 1406.4Z" fill="#595959"/><path d="M650.2 1418.8L656.5 1425.5L650.2 1432.2L644 1425.5Z" fill="#595959"/><path d="M662.3 1433.4L668.6 1440.1L662.3 1446.8L656.1 1440.1Z" fill="#595959"/><path d="M674.4 1407.6L680.7 1414.3L674.4 1421L668.1 1414.3Z" fill="#595959"/><path d="M686.5 1529.4L692.8 1536.1L686.5 1542.8L680.2 1536.1Z" fill="#595959"/><path d="M698.6 1540.2L704.8 1546.9L698.6 1553.6L692.3 1546.9Z" fill="#595959"/><path d="M710.6 1559.3L716.9 1566L710.6 1572.7L704.4 1566Z" fill="#595959"/><path d="M722.7 1509.8L729 1516.5L722.7 1523.2L716.5 1516.5Z" fill="#595959"/><path d="M734.8 1532.3L741.1 1539L734.8 1545.7L728.5 1539Z" fill="#595959"/><path d="M746.9 1534.5L753.2 1541.2L746.9 1547.9L740.6 1541.2Z" fill="#595959"/><path d="M759 1471.6L765.2 1478.3L759 1485L752.7 1478.3Z" fill="#595959"/><path d="M771 1454.8L777.3 1461.5L771 1468.2L764.8 1461.5Z" fill="#595959"/><path d="M783.1 1503.1L789.4 1509.8L783.1 1516.5L776.9 1509.8Z" fill="#595959"/><path d="M795.2 1479.5L801.5 1486.2L795.2 1492.9L788.9 1486.2Z" fill="#595959"/><path d="M807.3 1472.8L813.6 1479.4L807.3 1486.1L801 1479.4Z" fill="#595959"/><path d="M819.4 1504.2L825.6 1510.9L819.4 1517.6L813.1 1510.9Z" fill="#595959"/><path d="M831.4 1463.8L837.7 1470.4L831.4 1477.1L825.2 1470.4Z" fill="#595959"/><path d="M843.5 1475L849.8 1481.7L843.5 1488.4L837.3 1481.7Z" fill="#595959"/><path d="M855.6 1476.1L861.9 1482.8L855.6 1489.5L849.3 1482.8Z" fill="#595959"/><path d="M867.7 1484L874 1490.7L867.7 1497.4L861.4 1490.7Z" fill="#595959"/><path d="M879.8 1408.8L886 1415.4L879.8 1422.1L873.5 1415.4Z" fill="#595959"/><path d="M891.8 1504.2L898.1 1510.9L891.8 1517.6L885.6 1510.9Z" fill="#595959"/><path d="M903.9 1448L910.2 1454.7L903.9 1461.4L897.7 1454.7Z" fill="#595959"/><path d="M916 1425.5L922.3 1432.2L916 1438.9L909.7 1432.2Z" fill="#595959"/><path d="M928.1 1403.1L934.4 1409.8L928.1 1416.5L921.8 1409.8Z" fill="#595959"/><path d="M940.2 1405.3L946.4 1412L940.2 1418.7L933.9 1412Z" fill="#595959"/></g><g><path d="M179.1 1383.9L191.2 1339M191.2 1339L203.3 1334.5M203.3 1334.5L215.4 1335.6M215.4 1335.6L227.5 1314.3M227.5 1314.3L239.5 1301.9M239.5 1301.9L251.6 1304.2M251.6 1304.2L263.7 1313.1M263.7 1313.1L275.8 1314.3M275.8 1314.3L287.9 1290.7M287.9 1290.7L299.9 1283.9M299.9 1283.9L312 1333.4M312 1333.4L324.1 1340.1M324.1 1340.1L336.2 1357M336.2 1357L348.3 1403M348.3 1403L360.3 1425.5M360.3 1425.5L372.4 1452.5M372.4 1452.5L384.5 1431.1M384.5 1431.1L396.6 1442.4M396.6 1442.4L408.7 1435.6M408.7 1435.6L420.7 1441.2M420.7 1441.2L432.8 1459.2M432.8 1459.2L444.9 1407.5M444.9 1407.5L457 1382.8M457 1382.8L469.1 1372.7M469.1 1372.7L481.1 1398.5M481.1 1398.5L493.2 1427.8M493.2 1427.8L505.3 1426.6M505.3 1426.6L517.4 1387.3M517.4 1387.3L529.5 1376.1M529.5 1376.1L541.5 1358.1M541.5 1358.1L553.6 1356.3M553.6 1356.3L565.7 1356.3M565.7 1356.3L577.8 1345.7M577.8 1345.7L589.8 1391.8M589.8 1391.8L601.9 1315.4M601.9 1315.4L614 1300.8M614 1300.8L626.1 1310.9M626.1 1310.9L638.2 1279M638.2 1279L650.2 1306M650.2 1306L662.3 1333.4M662.3 1333.4L674.4 1281.2M674.4 1281.2L686.5 1381.7M686.5 1381.7L698.6 1423.7M698.6 1423.7L710.6 1413.1M710.6 1413.1L722.7 1396.3M722.7 1396.3L734.8 1393.6M734.8 1393.6L746.9 1367.5M746.9 1367.5L759 1395.2M759 1395.2L771 1369.8M771 1369.8L783.1 1356.3M783.1 1356.3L795.2 1335.6M795.2 1335.6L807.3 1339M807.3 1339L819.4 1348M819.4 1348L831.4 1324.4M831.4 1324.4L843.5 1351.3M843.5 1351.3L855.6 1340.1M855.6 1340.1L867.7 1340.1M867.7 1340.1L879.8 1396.3M879.8 1396.3L891.8 1395.2M891.8 1395.2L903.9 1300.1M903.9 1300.1L916 1272.7M916 1272.7L928.1 1251.8M928.1 1251.8L940.2 1260.3" fill="none" stroke="#a0a0a0" stroke-width="2" stroke-dasharray="6.3 2.8" stroke-linejoin="round" stroke-linecap="butt"/><rect x="173.5" y="1378.1" width="11.2" height="11.6" fill="#a0a0a0"/><rect x="185.6" y="1333.2" width="11.2" height="11.6" fill="#a0a0a0"/><rect x="197.7" y="1328.7" width="11.2" height="11.6" fill="#a0a0a0"/><rect x="209.8" y="1329.8" width="11.2" height="11.6" fill="#a0a0a0"/><rect x="221.9" y="1308.5" width="11.2" height="11.6" fill="#a0a0a0"/><rect x="233.9" y="1296.1" width="11.2" height="11.6" fill="#a0a0a0"/><rect x="246" y="1298.4" width="11.2" height="11.6" fill="#a0a0a0"/><rect x="258.1" y="1307.3" width="11.2" height="11.6" fill="#a0a0a0"/><rect x="270.2" y="1308.5" width="11.2" height="11.6" fill="#a0a0a0"/><rect x="282.3" y="1284.9" width="11.2" height="11.6" fill="#a0a0a0"/><rect x="294.3" y="1278.1" width="11.2" height="11.6" fill="#a0a0a0"/><rect x="306.4" y="1327.6" width="11.2" height="11.6" fill="#a0a0a0"/><rect x="318.5" y="1334.3" width="11.2" height="11.6" fill="#a0a0a0"/><rect x="330.6" y="1351.2" width="11.2" height="11.6" fill="#a0a0a0"/><rect x="342.7" y="1397.2" width="11.2" height="11.6" fill="#a0a0a0"/><rect x="354.7" y="1419.7" width="11.2" height="11.6" fill="#a0a0a0"/><rect x="366.8" y="1446.7" width="11.2" height="11.6" fill="#a0a0a0"/><rect x="378.9" y="1425.3" width="11.2" height="11.6" fill="#a0a0a0"/><rect x="391" y="1436.6" width="11.2" height="11.6" fill="#a0a0a0"/><rect x="403" y="1429.8" width="11.2" height="11.6" fill="#a0a0a0"/><rect x="415.1" y="1435.4" width="11.2" height="11.6" fill="#a0a0a0"/><rect x="427.2" y="1453.4" width="11.2" height="11.6" fill="#a0a0a0"/><rect x="439.3" y="1401.7" width="11.2" height="11.6" fill="#a0a0a0"/><rect x="451.4" y="1377" width="11.2" height="11.6" fill="#a0a0a0"/><rect x="463.4" y="1366.9" width="11.2" height="11.6" fill="#a0a0a0"/><rect x="475.5" y="1392.7" width="11.2" height="11.6" fill="#a0a0a0"/><rect x="487.6" y="1422" width="11.2" height="11.6" fill="#a0a0a0"/><rect x="499.7" y="1420.8" width="11.2" height="11.6" fill="#a0a0a0"/><rect x="511.8" y="1381.5" width="11.2" height="11.6" fill="#a0a0a0"/><rect x="523.8" y="1370.3" width="11.2" height="11.6" fill="#a0a0a0"/><rect x="535.9" y="1352.3" width="11.2" height="11.6" fill="#a0a0a0"/><rect x="548" y="1350.5" width="11.2" height="11.6" fill="#a0a0a0"/><rect x="560.1" y="1350.5" width="11.2" height="11.6" fill="#a0a0a0"/><rect x="572.2" y="1339.9" width="11.2" height="11.6" fill="#a0a0a0"/><rect x="584.2" y="1386" width="11.2" height="11.6" fill="#a0a0a0"/><rect x="596.3" y="1309.6" width="11.2" height="11.6" fill="#a0a0a0"/><rect x="608.4" y="1295" width="11.2" height="11.6" fill="#a0a0a0"/><rect x="620.5" y="1305.1" width="11.2" height="11.6" fill="#a0a0a0"/><rect x="632.6" y="1273.2" width="11.2" height="11.6" fill="#a0a0a0"/><rect x="644.6" y="1300.2" width="11.2" height="11.6" fill="#a0a0a0"/><rect x="656.7" y="1327.6" width="11.2" height="11.6" fill="#a0a0a0"/><rect x="668.8" y="1275.4" width="11.2" height="11.6" fill="#a0a0a0"/><rect x="680.9" y="1375.9" width="11.2" height="11.6" fill="#a0a0a0"/><rect x="693" y="1417.9" width="11.2" height="11.6" fill="#a0a0a0"/><rect x="705" y="1407.3" width="11.2" height="11.6" fill="#a0a0a0"/><rect x="717.1" y="1390.5" width="11.2" height="11.6" fill="#a0a0a0"/><rect x="729.2" y="1387.8" width="11.2" height="11.6" fill="#a0a0a0"/><rect x="741.3" y="1361.7" width="11.2" height="11.6" fill="#a0a0a0"/><rect x="753.4" y="1389.4" width="11.2" height="11.6" fill="#a0a0a0"/><rect x="765.4" y="1364" width="11.2" height="11.6" fill="#a0a0a0"/><rect x="777.5" y="1350.5" width="11.2" height="11.6" fill="#a0a0a0"/><rect x="789.6" y="1329.8" width="11.2" height="11.6" fill="#a0a0a0"/><rect x="801.7" y="1333.2" width="11.2" height="11.6" fill="#a0a0a0"/><rect x="813.8" y="1342.2" width="11.2" height="11.6" fill="#a0a0a0"/><rect x="825.8" y="1318.6" width="11.2" height="11.6" fill="#a0a0a0"/><rect x="837.9" y="1345.5" width="11.2" height="11.6" fill="#a0a0a0"/><rect x="850" y="1334.3" width="11.2" height="11.6" fill="#a0a0a0"/><rect x="862.1" y="1334.3" width="11.2" height="11.6" fill="#a0a0a0"/><rect x="874.2" y="1390.5" width="11.2" height="11.6" fill="#a0a0a0"/><rect x="886.2" y="1389.4" width="11.2" height="11.6" fill="#a0a0a0"/><rect x="898.3" y="1294.3" width="11.2" height="11.6" fill="#a0a0a0"/><rect x="910.4" y="1266.9" width="11.2" height="11.6" fill="#a0a0a0"/><rect x="922.5" y="1246" width="11.2" height="11.6" fill="#a0a0a0"/><rect x="934.6" y="1254.5" width="11.2" height="11.6" fill="#a0a0a0"/></g><g><path d="M179.1 1407.5L191.2 1364.8L203.3 1362.6L215.4 1346.9L227.5 1337.9L239.5 1326.6L251.6 1333.4L263.7 1340.1L275.8 1436.7L287.9 1412L299.9 1308.7L312 1342.4L324.1 1373.8L336.2 1369.3L348.3 1427.8L360.3 1488.4L372.4 1412L384.5 1432.2L396.6 1474.9L408.7 1470.4L420.7 1476.1L432.8 1479.4L444.9 1445.7L457 1421L469.1 1421L481.1 1445.7L493.2 1483.9L505.3 1463.7L517.4 1432.2L529.5 1416.5L541.5 1414.3L553.6 1394L565.7 1405.3L577.8 1400.8L589.8 1421L601.9 1373.8L614 1340.1L626.1 1330L638.2 1319.9L650.2 1342.4L662.3 1352.5L674.4 1324.4L686.5 1437.9L698.6 1446.9L710.6 1513.1L722.7 1441.2L734.8 1441.2L746.9 1415.4L759 1431.1L771 1425.5L783.1 1407.5L795.2 1387.3L807.3 1386.2L819.4 1383.9L831.4 1373.8L843.5 1386.2L855.6 1386.2L867.7 1385.1L879.8 1463.7L891.8 1463.7L903.9 1351.3L916 1326.6L928.1 1308.7L940.2 1322.6" fill="none" stroke="#858585" stroke-width="2.1" stroke-linejoin="round" stroke-linecap="butt"/><path d="M179.1 1401.5L185 1413.5L173.2 1413.5Z" fill="#858585"/><path d="M191.2 1358.8L197.1 1370.8L185.3 1370.8Z" fill="#858585"/><path d="M203.3 1356.6L209.2 1368.6L197.4 1368.6Z" fill="#858585"/><path d="M215.4 1340.9L221.3 1352.9L209.5 1352.9Z" fill="#858585"/><path d="M227.5 1331.9L233.3 1343.9L221.6 1343.9Z" fill="#858585"/><path d="M239.5 1320.6L245.4 1332.6L233.6 1332.6Z" fill="#858585"/><path d="M251.6 1327.4L257.5 1339.4L245.7 1339.4Z" fill="#858585"/><path d="M263.7 1334.1L269.6 1346.1L257.8 1346.1Z" fill="#858585"/><path d="M275.8 1430.7L281.7 1442.7L269.9 1442.7Z" fill="#858585"/><path d="M287.9 1406L293.7 1418L282 1418Z" fill="#858585"/><path d="M299.9 1302.7L305.8 1314.7L294 1314.7Z" fill="#858585"/><path d="M312 1336.4L317.9 1348.4L306.1 1348.4Z" fill="#858585"/><path d="M324.1 1367.8L330 1379.8L318.2 1379.8Z" fill="#858585"/><path d="M336.2 1363.3L342.1 1375.3L330.3 1375.3Z" fill="#858585"/><path d="M348.3 1421.8L354.1 1433.8L342.4 1433.8Z" fill="#858585"/><path d="M360.3 1482.4L366.2 1494.4L354.4 1494.4Z" fill="#858585"/><path d="M372.4 1406L378.3 1418L366.5 1418Z" fill="#858585"/><path d="M384.5 1426.2L390.4 1438.2L378.6 1438.2Z" fill="#858585"/><path d="M396.6 1468.9L402.5 1480.9L390.7 1480.9Z" fill="#858585"/><path d="M408.7 1464.4L414.5 1476.4L402.8 1476.4Z" fill="#858585"/><path d="M420.7 1470.1L426.6 1482.1L414.8 1482.1Z" fill="#858585"/><path d="M432.8 1473.4L438.7 1485.4L426.9 1485.4Z" fill="#858585"/><path d="M444.9 1439.7L450.8 1451.7L439 1451.7Z" fill="#858585"/><path d="M457 1415L462.9 1427L451.1 1427Z" fill="#858585"/><path d="M469.1 1415L474.9 1427L463.2 1427Z" fill="#858585"/><path d="M481.1 1439.7L487 1451.7L475.2 1451.7Z" fill="#858585"/><path d="M493.2 1477.9L499.1 1489.9L487.3 1489.9Z" fill="#858585"/><path d="M505.3 1457.7L511.2 1469.7L499.4 1469.7Z" fill="#858585"/><path d="M517.4 1426.2L523.3 1438.2L511.5 1438.2Z" fill="#858585"/><path d="M529.5 1410.5L535.3 1422.5L523.6 1422.5Z" fill="#858585"/><path d="M541.5 1408.3L547.4 1420.3L535.6 1420.3Z" fill="#858585"/><path d="M553.6 1388L559.5 1400L547.7 1400Z" fill="#858585"/><path d="M565.7 1399.3L571.6 1411.3L559.8 1411.3Z" fill="#858585"/><path d="M577.8 1394.8L583.7 1406.8L571.9 1406.8Z" fill="#858585"/><path d="M589.8 1415L595.7 1427L584 1427Z" fill="#858585"/><path d="M601.9 1367.8L607.8 1379.8L596 1379.8Z" fill="#858585"/><path d="M614 1334.1L619.9 1346.1L608.1 1346.1Z" fill="#858585"/><path d="M626.1 1324L632 1336L620.2 1336Z" fill="#858585"/><path d="M638.2 1313.9L644.1 1325.9L632.3 1325.9Z" fill="#858585"/><path d="M650.2 1336.4L656.1 1348.4L644.4 1348.4Z" fill="#858585"/><path d="M662.3 1346.5L668.2 1358.5L656.4 1358.5Z" fill="#858585"/><path d="M674.4 1318.4L680.3 1330.4L668.5 1330.4Z" fill="#858585"/><path d="M686.5 1431.9L692.4 1443.9L680.6 1443.9Z" fill="#858585"/><path d="M698.6 1440.9L704.5 1452.9L692.7 1452.9Z" fill="#858585"/><path d="M710.6 1507.1L716.5 1519.1L704.8 1519.1Z" fill="#858585"/><path d="M722.7 1435.2L728.6 1447.2L716.8 1447.2Z" fill="#858585"/><path d="M734.8 1435.2L740.7 1447.2L728.9 1447.2Z" fill="#858585"/><path d="M746.9 1409.4L752.8 1421.4L741 1421.4Z" fill="#858585"/><path d="M759 1425.1L764.9 1437.1L753.1 1437.1Z" fill="#858585"/><path d="M771 1419.5L776.9 1431.5L765.2 1431.5Z" fill="#858585"/><path d="M783.1 1401.5L789 1413.5L777.2 1413.5Z" fill="#858585"/><path d="M795.2 1381.3L801.1 1393.3L789.3 1393.3Z" fill="#858585"/><path d="M807.3 1380.2L813.2 1392.2L801.4 1392.2Z" fill="#858585"/><path d="M819.4 1377.9L825.3 1389.9L813.5 1389.9Z" fill="#858585"/><path d="M831.4 1367.8L837.3 1379.8L825.6 1379.8Z" fill="#858585"/><path d="M843.5 1380.2L849.4 1392.2L837.6 1392.2Z" fill="#858585"/><path d="M855.6 1380.2L861.5 1392.2L849.7 1392.2Z" fill="#858585"/><path d="M867.7 1379.1L873.6 1391.1L861.8 1391.1Z" fill="#858585"/><path d="M879.8 1457.7L885.7 1469.7L873.9 1469.7Z" fill="#858585"/><path d="M891.8 1457.7L897.7 1469.7L886 1469.7Z" fill="#858585"/><path d="M903.9 1345.3L909.8 1357.3L898 1357.3Z" fill="#858585"/><path d="M916 1320.6L921.9 1332.6L910.1 1332.6Z" fill="#858585"/><path d="M928.1 1302.7L934 1314.7L922.2 1314.7Z" fill="#858585"/><path d="M940.2 1316.6L946.1 1328.6L934.3 1328.6Z" fill="#858585"/></g><g><path d="M179.1 1460.3L191.2 1423.3M191.2 1423.3L203.3 1419.9M203.3 1419.9L215.4 1407.5M215.4 1407.5L227.5 1394M227.5 1394L239.5 1389.6M239.5 1389.6L251.6 1391.8M251.6 1391.8L263.7 1403M263.7 1403L275.8 1406.4M275.8 1406.4L287.9 1391.8M287.9 1391.8L299.9 1376.1M299.9 1376.1L312 1407.5M312 1407.5L324.1 1449.1M324.1 1449.1L336.2 1471.6M336.2 1471.6L348.3 1500.8M348.3 1500.8L360.3 1546.9M360.3 1546.9L372.4 1539M372.4 1539L384.5 1540.1M384.5 1540.1L396.6 1555.8M396.6 1555.8L408.7 1550.2M408.7 1550.2L420.7 1555.8M420.7 1555.8L432.8 1551.3M432.8 1551.3L444.9 1525.5M444.9 1525.5L457 1525.5M457 1525.5L469.1 1490.7M469.1 1490.7L481.1 1522.1M481.1 1522.1L493.2 1535.6M493.2 1535.6L505.3 1522.1M505.3 1522.1L517.4 1504.2M517.4 1504.2L529.5 1490.7M529.5 1490.7L541.5 1472.7M541.5 1472.7L553.6 1483.9M553.6 1483.9L565.7 1477.2M565.7 1477.2L577.8 1462.6M577.8 1462.6L589.8 1453.6M589.8 1453.6L601.9 1428.9M601.9 1428.9L614 1421M614 1421L626.1 1403M626.1 1403L638.2 1386.2M638.2 1386.2L650.2 1422.1M650.2 1422.1L662.3 1433.4M662.3 1433.4L674.4 1407.5M674.4 1407.5L686.5 1514.3M686.5 1514.3L698.6 1523.3M698.6 1523.3L710.6 1549.1M710.6 1549.1L722.7 1501.9M722.7 1501.9L734.8 1518.8M734.8 1518.8L746.9 1503M746.9 1503L759 1507.5M759 1507.5L771 1530M771 1530L783.1 1496.3M783.1 1496.3L795.2 1480.6M795.2 1480.6L807.3 1479.4M807.3 1479.4L819.4 1445.7M819.4 1445.7L831.4 1470.4M831.4 1470.4L843.5 1477.2M843.5 1477.2L855.6 1478.3M855.6 1478.3L867.7 1473.8M867.7 1473.8L879.8 1524.4M879.8 1524.4L891.8 1517.6M891.8 1517.6L903.9 1445.7M903.9 1445.7L916 1423.3M916 1423.3L928.1 1401.9M928.1 1401.9L940.2 1416.5" fill="none" stroke="#4a4a4a" stroke-width="3.8" stroke-dasharray="15 12.5" stroke-linejoin="round" stroke-linecap="butt"/><rect x="173.5" y="1454.5" width="11.2" height="11.6" fill="#4a4a4a"/><path d="M173.5 1454.5L184.7 1466.1M184.7 1454.5L173.5 1466.1" stroke="#2e2e2e" stroke-width="1.3" fill="none"/><rect x="185.6" y="1417.5" width="11.2" height="11.6" fill="#4a4a4a"/><path d="M185.6 1417.5L196.8 1429.1M196.8 1417.5L185.6 1429.1" stroke="#2e2e2e" stroke-width="1.3" fill="none"/><rect x="197.7" y="1414.1" width="11.2" height="11.6" fill="#4a4a4a"/><path d="M197.7 1414.1L208.9 1425.7M208.9 1414.1L197.7 1425.7" stroke="#2e2e2e" stroke-width="1.3" fill="none"/><rect x="209.8" y="1401.7" width="11.2" height="11.6" fill="#4a4a4a"/><path d="M209.8 1401.7L221 1413.3M221 1401.7L209.8 1413.3" stroke="#2e2e2e" stroke-width="1.3" fill="none"/><rect x="221.9" y="1388.2" width="11.2" height="11.6" fill="#4a4a4a"/><path d="M221.9 1388.2L233.1 1399.8M233.1 1388.2L221.9 1399.8" stroke="#2e2e2e" stroke-width="1.3" fill="none"/><rect x="233.9" y="1383.8" width="11.2" height="11.6" fill="#4a4a4a"/><path d="M233.9 1383.8L245.1 1395.4M245.1 1383.8L233.9 1395.4" stroke="#2e2e2e" stroke-width="1.3" fill="none"/><rect x="246" y="1386" width="11.2" height="11.6" fill="#4a4a4a"/><path d="M246 1386L257.2 1397.6M257.2 1386L246 1397.6" stroke="#2e2e2e" stroke-width="1.3" fill="none"/><rect x="258.1" y="1397.2" width="11.2" height="11.6" fill="#4a4a4a"/><path d="M258.1 1397.2L269.3 1408.8M269.3 1397.2L258.1 1408.8" stroke="#2e2e2e" stroke-width="1.3" fill="none"/><rect x="270.2" y="1400.6" width="11.2" height="11.6" fill="#4a4a4a"/><path d="M270.2 1400.6L281.4 1412.2M281.4 1400.6L270.2 1412.2" stroke="#2e2e2e" stroke-width="1.3" fill="none"/><rect x="282.3" y="1386" width="11.2" height="11.6" fill="#4a4a4a"/><path d="M282.3 1386L293.5 1397.6M293.5 1386L282.3 1397.6" stroke="#2e2e2e" stroke-width="1.3" fill="none"/><rect x="294.3" y="1370.3" width="11.2" height="11.6" fill="#4a4a4a"/><path d="M294.3 1370.3L305.5 1381.9M305.5 1370.3L294.3 1381.9" stroke="#2e2e2e" stroke-width="1.3" fill="none"/><rect x="306.4" y="1401.7" width="11.2" height="11.6" fill="#4a4a4a"/><path d="M306.4 1401.7L317.6 1413.3M317.6 1401.7L306.4 1413.3" stroke="#2e2e2e" stroke-width="1.3" fill="none"/><rect x="318.5" y="1443.3" width="11.2" height="11.6" fill="#4a4a4a"/><path d="M318.5 1443.3L329.7 1454.9M329.7 1443.3L318.5 1454.9" stroke="#2e2e2e" stroke-width="1.3" fill="none"/><rect x="330.6" y="1465.8" width="11.2" height="11.6" fill="#4a4a4a"/><path d="M330.6 1465.8L341.8 1477.4M341.8 1465.8L330.6 1477.4" stroke="#2e2e2e" stroke-width="1.3" fill="none"/><rect x="342.7" y="1495" width="11.2" height="11.6" fill="#4a4a4a"/><path d="M342.7 1495L353.9 1506.6M353.9 1495L342.7 1506.6" stroke="#2e2e2e" stroke-width="1.3" fill="none"/><rect x="354.7" y="1541.1" width="11.2" height="11.6" fill="#4a4a4a"/><path d="M354.7 1541.1L365.9 1552.7M365.9 1541.1L354.7 1552.7" stroke="#2e2e2e" stroke-width="1.3" fill="none"/><rect x="366.8" y="1533.2" width="11.2" height="11.6" fill="#4a4a4a"/><path d="M366.8 1533.2L378 1544.8M378 1533.2L366.8 1544.8" stroke="#2e2e2e" stroke-width="1.3" fill="none"/><rect x="378.9" y="1534.3" width="11.2" height="11.6" fill="#4a4a4a"/><path d="M378.9 1534.3L390.1 1545.9M390.1 1534.3L378.9 1545.9" stroke="#2e2e2e" stroke-width="1.3" fill="none"/><rect x="391" y="1550" width="11.2" height="11.6" fill="#4a4a4a"/><path d="M391 1550L402.2 1561.6M402.2 1550L391 1561.6" stroke="#2e2e2e" stroke-width="1.3" fill="none"/><rect x="403" y="1544.4" width="11.2" height="11.6" fill="#4a4a4a"/><path d="M403 1544.4L414.3 1556M414.3 1544.4L403 1556" stroke="#2e2e2e" stroke-width="1.3" fill="none"/><rect x="415.1" y="1550" width="11.2" height="11.6" fill="#4a4a4a"/><path d="M415.1 1550L426.3 1561.6M426.3 1550L415.1 1561.6" stroke="#2e2e2e" stroke-width="1.3" fill="none"/><rect x="427.2" y="1545.5" width="11.2" height="11.6" fill="#4a4a4a"/><path d="M427.2 1545.5L438.4 1557.1M438.4 1545.5L427.2 1557.1" stroke="#2e2e2e" stroke-width="1.3" fill="none"/><rect x="439.3" y="1519.7" width="11.2" height="11.6" fill="#4a4a4a"/><path d="M439.3 1519.7L450.5 1531.3M450.5 1519.7L439.3 1531.3" stroke="#2e2e2e" stroke-width="1.3" fill="none"/><rect x="451.4" y="1519.7" width="11.2" height="11.6" fill="#4a4a4a"/><path d="M451.4 1519.7L462.6 1531.3M462.6 1519.7L451.4 1531.3" stroke="#2e2e2e" stroke-width="1.3" fill="none"/><rect x="463.4" y="1484.9" width="11.2" height="11.6" fill="#4a4a4a"/><path d="M463.4 1484.9L474.7 1496.5M474.7 1484.9L463.4 1496.5" stroke="#2e2e2e" stroke-width="1.3" fill="none"/><rect x="475.5" y="1516.3" width="11.2" height="11.6" fill="#4a4a4a"/><path d="M475.5 1516.3L486.7 1527.9M486.7 1516.3L475.5 1527.9" stroke="#2e2e2e" stroke-width="1.3" fill="none"/><rect x="487.6" y="1529.8" width="11.2" height="11.6" fill="#4a4a4a"/><path d="M487.6 1529.8L498.8 1541.4M498.8 1529.8L487.6 1541.4" stroke="#2e2e2e" stroke-width="1.3" fill="none"/><rect x="499.7" y="1516.3" width="11.2" height="11.6" fill="#4a4a4a"/><path d="M499.7 1516.3L510.9 1527.9M510.9 1516.3L499.7 1527.9" stroke="#2e2e2e" stroke-width="1.3" fill="none"/><rect x="511.8" y="1498.4" width="11.2" height="11.6" fill="#4a4a4a"/><path d="M511.8 1498.4L523 1510M523 1498.4L511.8 1510" stroke="#2e2e2e" stroke-width="1.3" fill="none"/><rect x="523.8" y="1484.9" width="11.2" height="11.6" fill="#4a4a4a"/><path d="M523.8 1484.9L535.1 1496.5M535.1 1484.9L523.8 1496.5" stroke="#2e2e2e" stroke-width="1.3" fill="none"/><rect x="535.9" y="1466.9" width="11.2" height="11.6" fill="#4a4a4a"/><path d="M535.9 1466.9L547.1 1478.5M547.1 1466.9L535.9 1478.5" stroke="#2e2e2e" stroke-width="1.3" fill="none"/><rect x="548" y="1478.1" width="11.2" height="11.6" fill="#4a4a4a"/><path d="M548 1478.1L559.2 1489.7M559.2 1478.1L548 1489.7" stroke="#2e2e2e" stroke-width="1.3" fill="none"/><rect x="560.1" y="1471.4" width="11.2" height="11.6" fill="#4a4a4a"/><path d="M560.1 1471.4L571.3 1483M571.3 1471.4L560.1 1483" stroke="#2e2e2e" stroke-width="1.3" fill="none"/><rect x="572.2" y="1456.8" width="11.2" height="11.6" fill="#4a4a4a"/><path d="M572.2 1456.8L583.4 1468.4M583.4 1456.8L572.2 1468.4" stroke="#2e2e2e" stroke-width="1.3" fill="none"/><rect x="584.2" y="1447.8" width="11.2" height="11.6" fill="#4a4a4a"/><path d="M584.2 1447.8L595.5 1459.4M595.5 1447.8L584.2 1459.4" stroke="#2e2e2e" stroke-width="1.3" fill="none"/><rect x="596.3" y="1423.1" width="11.2" height="11.6" fill="#4a4a4a"/><path d="M596.3 1423.1L607.5 1434.7M607.5 1423.1L596.3 1434.7" stroke="#2e2e2e" stroke-width="1.3" fill="none"/><rect x="608.4" y="1415.2" width="11.2" height="11.6" fill="#4a4a4a"/><path d="M608.4 1415.2L619.6 1426.8M619.6 1415.2L608.4 1426.8" stroke="#2e2e2e" stroke-width="1.3" fill="none"/><rect x="620.5" y="1397.2" width="11.2" height="11.6" fill="#4a4a4a"/><path d="M620.5 1397.2L631.7 1408.8M631.7 1397.2L620.5 1408.8" stroke="#2e2e2e" stroke-width="1.3" fill="none"/><rect x="632.6" y="1380.4" width="11.2" height="11.6" fill="#4a4a4a"/><path d="M632.6 1380.4L643.8 1392M643.8 1380.4L632.6 1392" stroke="#2e2e2e" stroke-width="1.3" fill="none"/><rect x="644.6" y="1416.3" width="11.2" height="11.6" fill="#4a4a4a"/><path d="M644.6 1416.3L655.9 1427.9M655.9 1416.3L644.6 1427.9" stroke="#2e2e2e" stroke-width="1.3" fill="none"/><rect x="656.7" y="1427.6" width="11.2" height="11.6" fill="#4a4a4a"/><path d="M656.7 1427.6L667.9 1439.2M667.9 1427.6L656.7 1439.2" stroke="#2e2e2e" stroke-width="1.3" fill="none"/><rect x="668.8" y="1401.7" width="11.2" height="11.6" fill="#4a4a4a"/><path d="M668.8 1401.7L680 1413.3M680 1401.7L668.8 1413.3" stroke="#2e2e2e" stroke-width="1.3" fill="none"/><rect x="680.9" y="1508.5" width="11.2" height="11.6" fill="#4a4a4a"/><path d="M680.9 1508.5L692.1 1520.1M692.1 1508.5L680.9 1520.1" stroke="#2e2e2e" stroke-width="1.3" fill="none"/><rect x="693" y="1517.5" width="11.2" height="11.6" fill="#4a4a4a"/><path d="M693 1517.5L704.2 1529.1M704.2 1517.5L693 1529.1" stroke="#2e2e2e" stroke-width="1.3" fill="none"/><rect x="705" y="1543.3" width="11.2" height="11.6" fill="#4a4a4a"/><path d="M705 1543.3L716.3 1554.9M716.3 1543.3L705 1554.9" stroke="#2e2e2e" stroke-width="1.3" fill="none"/><rect x="717.1" y="1496.1" width="11.2" height="11.6" fill="#4a4a4a"/><path d="M717.1 1496.1L728.3 1507.7M728.3 1496.1L717.1 1507.7" stroke="#2e2e2e" stroke-width="1.3" fill="none"/><rect x="729.2" y="1513" width="11.2" height="11.6" fill="#4a4a4a"/><path d="M729.2 1513L740.4 1524.6M740.4 1513L729.2 1524.6" stroke="#2e2e2e" stroke-width="1.3" fill="none"/><rect x="741.3" y="1497.2" width="11.2" height="11.6" fill="#4a4a4a"/><path d="M741.3 1497.2L752.5 1508.8M752.5 1497.2L741.3 1508.8" stroke="#2e2e2e" stroke-width="1.3" fill="none"/><rect x="753.4" y="1501.7" width="11.2" height="11.6" fill="#4a4a4a"/><path d="M753.4 1501.7L764.6 1513.3M764.6 1501.7L753.4 1513.3" stroke="#2e2e2e" stroke-width="1.3" fill="none"/><rect x="765.4" y="1524.2" width="11.2" height="11.6" fill="#4a4a4a"/><path d="M765.4 1524.2L776.6 1535.8M776.6 1524.2L765.4 1535.8" stroke="#2e2e2e" stroke-width="1.3" fill="none"/><rect x="777.5" y="1490.5" width="11.2" height="11.6" fill="#4a4a4a"/><path d="M777.5 1490.5L788.7 1502.1M788.7 1490.5L777.5 1502.1" stroke="#2e2e2e" stroke-width="1.3" fill="none"/><rect x="789.6" y="1474.8" width="11.2" height="11.6" fill="#4a4a4a"/><path d="M789.6 1474.8L800.8 1486.4M800.8 1474.8L789.6 1486.4" stroke="#2e2e2e" stroke-width="1.3" fill="none"/><rect x="801.7" y="1473.6" width="11.2" height="11.6" fill="#4a4a4a"/><path d="M801.7 1473.6L812.9 1485.2M812.9 1473.6L801.7 1485.2" stroke="#2e2e2e" stroke-width="1.3" fill="none"/><rect x="813.8" y="1439.9" width="11.2" height="11.6" fill="#4a4a4a"/><path d="M813.8 1439.9L825 1451.5M825 1439.9L813.8 1451.5" stroke="#2e2e2e" stroke-width="1.3" fill="none"/><rect x="825.8" y="1464.6" width="11.2" height="11.6" fill="#4a4a4a"/><path d="M825.8 1464.6L837 1476.2M837 1464.6L825.8 1476.2" stroke="#2e2e2e" stroke-width="1.3" fill="none"/><rect x="837.9" y="1471.4" width="11.2" height="11.6" fill="#4a4a4a"/><path d="M837.9 1471.4L849.1 1483M849.1 1471.4L837.9 1483" stroke="#2e2e2e" stroke-width="1.3" fill="none"/><rect x="850" y="1472.5" width="11.2" height="11.6" fill="#4a4a4a"/><path d="M850 1472.5L861.2 1484.1M861.2 1472.5L850 1484.1" stroke="#2e2e2e" stroke-width="1.3" fill="none"/><rect x="862.1" y="1468" width="11.2" height="11.6" fill="#4a4a4a"/><path d="M862.1 1468L873.3 1479.6M873.3 1468L862.1 1479.6" stroke="#2e2e2e" stroke-width="1.3" fill="none"/><rect x="874.2" y="1518.6" width="11.2" height="11.6" fill="#4a4a4a"/><path d="M874.2 1518.6L885.4 1530.2M885.4 1518.6L874.2 1530.2" stroke="#2e2e2e" stroke-width="1.3" fill="none"/><rect x="886.2" y="1511.8" width="11.2" height="11.6" fill="#4a4a4a"/><path d="M886.2 1511.8L897.4 1523.4M897.4 1511.8L886.2 1523.4" stroke="#2e2e2e" stroke-width="1.3" fill="none"/><rect x="898.3" y="1439.9" width="11.2" height="11.6" fill="#4a4a4a"/><path d="M898.3 1439.9L909.5 1451.5M909.5 1439.9L898.3 1451.5" stroke="#2e2e2e" stroke-width="1.3" fill="none"/><rect x="910.4" y="1417.5" width="11.2" height="11.6" fill="#4a4a4a"/><path d="M910.4 1417.5L921.6 1429.1M921.6 1417.5L910.4 1429.1" stroke="#2e2e2e" stroke-width="1.3" fill="none"/><rect x="922.5" y="1396.1" width="11.2" height="11.6" fill="#4a4a4a"/><path d="M922.5 1396.1L933.7 1407.7M933.7 1396.1L922.5 1407.7" stroke="#2e2e2e" stroke-width="1.3" fill="none"/><rect x="934.6" y="1410.7" width="11.2" height="11.6" fill="#4a4a4a"/><path d="M934.6 1410.7L945.8 1422.3M945.8 1410.7L934.6 1422.3" stroke="#2e2e2e" stroke-width="1.3" fill="none"/></g><g><path d="M179.1 1454.7L191.2 1416.5L203.3 1406.4L215.4 1398.5L227.5 1379.4L239.5 1369.3L251.6 1376.1L263.7 1387.3L275.8 1383.9L287.9 1358.1L299.9 1345.7L312 1379.4L324.1 1414.3L336.2 1421L348.3 1466L360.3 1508.7L372.4 1492.9L384.5 1512L396.6 1523.3L408.7 1513.1L420.7 1522.1L432.8 1516.5L444.9 1490.7L457 1471.6L469.1 1460.3L481.1 1492.9L493.2 1508.7L505.3 1491.8L517.4 1469.3L529.5 1454.7L541.5 1440.1L553.6 1441.2L565.7 1441.2L577.8 1433.4L589.8 1409.8L601.9 1403L614 1399.7L626.1 1379.4L638.2 1370.4L650.2 1390.7L662.3 1404.2L674.4 1373.8L686.5 1483.9L698.6 1498.5L710.6 1515.4L722.7 1505.3L734.8 1488.4L746.9 1469.3L759 1459.2L771 1471.6L783.1 1463.7L795.2 1434.5L807.3 1437.9L819.4 1442.4L831.4 1425.5L843.5 1435.6L855.6 1439L867.7 1439L879.8 1485.1L891.8 1473.8L903.9 1416.5L916 1401.9L928.1 1382.8L940.2 1392.9" fill="none" stroke="#000000" stroke-width="3.2" stroke-linejoin="round" stroke-linecap="butt"/><path d="M174.1 1449.7L184.2 1459.7M184.2 1449.7L174.1 1459.7M179.1 1449.7L179.1 1459.7" stroke="#000000" stroke-width="1.15" fill="none"/><path d="M186.2 1411.5L196.3 1421.5M196.3 1411.5L186.2 1421.5M191.2 1411.5L191.2 1421.5" stroke="#000000" stroke-width="1.15" fill="none"/><path d="M198.3 1401.4L208.3 1411.4M208.3 1401.4L198.3 1411.4M203.3 1401.4L203.3 1411.4" stroke="#000000" stroke-width="1.15" fill="none"/><path d="M210.3 1393.5L220.4 1403.5M220.4 1393.5L210.3 1403.5M215.4 1393.5L215.4 1403.5" stroke="#000000" stroke-width="1.15" fill="none"/><path d="M222.4 1374.4L232.5 1384.4M232.5 1374.4L222.4 1384.4M227.5 1374.4L227.5 1384.4" stroke="#000000" stroke-width="1.15" fill="none"/><path d="M234.5 1364.3L244.6 1374.3M244.6 1364.3L234.5 1374.3M239.5 1364.3L239.5 1374.3" stroke="#000000" stroke-width="1.15" fill="none"/><path d="M246.6 1371.1L256.7 1381.1M256.7 1371.1L246.6 1381.1M251.6 1371.1L251.6 1381.1" stroke="#000000" stroke-width="1.15" fill="none"/><path d="M258.7 1382.3L268.7 1392.3M268.7 1382.3L258.7 1392.3M263.7 1382.3L263.7 1392.3" stroke="#000000" stroke-width="1.15" fill="none"/><path d="M270.7 1378.9L280.8 1388.9M280.8 1378.9L270.7 1388.9M275.8 1378.9L275.8 1388.9" stroke="#000000" stroke-width="1.15" fill="none"/><path d="M282.8 1353.1L292.9 1363.1M292.9 1353.1L282.8 1363.1M287.9 1353.1L287.9 1363.1" stroke="#000000" stroke-width="1.15" fill="none"/><path d="M294.9 1340.7L305 1350.7M305 1340.7L294.9 1350.7M299.9 1340.7L299.9 1350.7" stroke="#000000" stroke-width="1.15" fill="none"/><path d="M307 1374.4L317.1 1384.4M317.1 1374.4L307 1384.4M312 1374.4L312 1384.4" stroke="#000000" stroke-width="1.15" fill="none"/><path d="M319.1 1409.3L329.1 1419.3M329.1 1409.3L319.1 1419.3M324.1 1409.3L324.1 1419.3" stroke="#000000" stroke-width="1.15" fill="none"/><path d="M331.1 1416L341.2 1426M341.2 1416L331.1 1426M336.2 1416L336.2 1426" stroke="#000000" stroke-width="1.15" fill="none"/><path d="M343.2 1461L353.3 1471M353.3 1461L343.2 1471M348.3 1461L348.3 1471" stroke="#000000" stroke-width="1.15" fill="none"/><path d="M355.3 1503.7L365.4 1513.7M365.4 1503.7L355.3 1513.7M360.3 1503.7L360.3 1513.7" stroke="#000000" stroke-width="1.15" fill="none"/><path d="M367.4 1487.9L377.4 1497.9M377.4 1487.9L367.4 1497.9M372.4 1487.9L372.4 1497.9" stroke="#000000" stroke-width="1.15" fill="none"/><path d="M379.5 1507L389.5 1517M389.5 1507L379.5 1517M384.5 1507L384.5 1517" stroke="#000000" stroke-width="1.15" fill="none"/><path d="M391.5 1518.3L401.6 1528.3M401.6 1518.3L391.5 1528.3M396.6 1518.3L396.6 1528.3" stroke="#000000" stroke-width="1.15" fill="none"/><path d="M403.6 1508.1L413.7 1518.1M413.7 1508.1L403.6 1518.1M408.7 1508.1L408.7 1518.1" stroke="#000000" stroke-width="1.15" fill="none"/><path d="M415.7 1517.1L425.8 1527.1M425.8 1517.1L415.7 1527.1M420.7 1517.1L420.7 1527.1" stroke="#000000" stroke-width="1.15" fill="none"/><path d="M427.8 1511.5L437.8 1521.5M437.8 1511.5L427.8 1521.5M432.8 1511.5L432.8 1521.5" stroke="#000000" stroke-width="1.15" fill="none"/><path d="M439.9 1485.7L449.9 1495.7M449.9 1485.7L439.9 1495.7M444.9 1485.7L444.9 1495.7" stroke="#000000" stroke-width="1.15" fill="none"/><path d="M451.9 1466.6L462 1476.6M462 1466.6L451.9 1476.6M457 1466.6L457 1476.6" stroke="#000000" stroke-width="1.15" fill="none"/><path d="M464 1455.3L474.1 1465.3M474.1 1455.3L464 1465.3M469.1 1455.3L469.1 1465.3" stroke="#000000" stroke-width="1.15" fill="none"/><path d="M476.1 1487.9L486.2 1497.9M486.2 1487.9L476.1 1497.9M481.1 1487.9L481.1 1497.9" stroke="#000000" stroke-width="1.15" fill="none"/><path d="M488.2 1503.7L498.2 1513.7M498.2 1503.7L488.2 1513.7M493.2 1503.7L493.2 1513.7" stroke="#000000" stroke-width="1.15" fill="none"/><path d="M500.3 1486.8L510.3 1496.8M510.3 1486.8L500.3 1496.8M505.3 1486.8L505.3 1496.8" stroke="#000000" stroke-width="1.15" fill="none"/><path d="M512.3 1464.3L522.4 1474.3M522.4 1464.3L512.3 1474.3M517.4 1464.3L517.4 1474.3" stroke="#000000" stroke-width="1.15" fill="none"/><path d="M524.4 1449.7L534.5 1459.7M534.5 1449.7L524.4 1459.7M529.5 1449.7L529.5 1459.7" stroke="#000000" stroke-width="1.15" fill="none"/><path d="M536.5 1435.1L546.6 1445.1M546.6 1435.1L536.5 1445.1M541.5 1435.1L541.5 1445.1" stroke="#000000" stroke-width="1.15" fill="none"/><path d="M548.6 1436.2L558.6 1446.2M558.6 1436.2L548.6 1446.2M553.6 1436.2L553.6 1446.2" stroke="#000000" stroke-width="1.15" fill="none"/><path d="M560.7 1436.2L570.7 1446.2M570.7 1436.2L560.7 1446.2M565.7 1436.2L565.7 1446.2" stroke="#000000" stroke-width="1.15" fill="none"/><path d="M572.7 1428.4L582.8 1438.4M582.8 1428.4L572.7 1438.4M577.8 1428.4L577.8 1438.4" stroke="#000000" stroke-width="1.15" fill="none"/><path d="M584.8 1404.8L594.9 1414.8M594.9 1404.8L584.8 1414.8M589.8 1404.8L589.8 1414.8" stroke="#000000" stroke-width="1.15" fill="none"/><path d="M596.9 1398L607 1408M607 1398L596.9 1408M601.9 1398L601.9 1408" stroke="#000000" stroke-width="1.15" fill="none"/><path d="M609 1394.7L619 1404.7M619 1394.7L609 1404.7M614 1394.7L614 1404.7" stroke="#000000" stroke-width="1.15" fill="none"/><path d="M621.1 1374.4L631.1 1384.4M631.1 1374.4L621.1 1384.4M626.1 1374.4L626.1 1384.4" stroke="#000000" stroke-width="1.15" fill="none"/><path d="M633.1 1365.4L643.2 1375.4M643.2 1365.4L633.1 1375.4M638.2 1365.4L638.2 1375.4" stroke="#000000" stroke-width="1.15" fill="none"/><path d="M645.2 1385.7L655.3 1395.7M655.3 1385.7L645.2 1395.7M650.2 1385.7L650.2 1395.7" stroke="#000000" stroke-width="1.15" fill="none"/><path d="M657.3 1399.2L667.4 1409.2M667.4 1399.2L657.3 1409.2M662.3 1399.2L662.3 1409.2" stroke="#000000" stroke-width="1.15" fill="none"/><path d="M669.4 1368.8L679.4 1378.8M679.4 1368.8L669.4 1378.8M674.4 1368.8L674.4 1378.8" stroke="#000000" stroke-width="1.15" fill="none"/><path d="M681.5 1478.9L691.5 1488.9M691.5 1478.9L681.5 1488.9M686.5 1478.9L686.5 1488.9" stroke="#000000" stroke-width="1.15" fill="none"/><path d="M693.5 1493.5L703.6 1503.5M703.6 1493.5L693.5 1503.5M698.6 1493.5L698.6 1503.5" stroke="#000000" stroke-width="1.15" fill="none"/><path d="M705.6 1510.4L715.7 1520.4M715.7 1510.4L705.6 1520.4M710.6 1510.4L710.6 1520.4" stroke="#000000" stroke-width="1.15" fill="none"/><path d="M717.7 1500.3L727.8 1510.3M727.8 1500.3L717.7 1510.3M722.7 1500.3L722.7 1510.3" stroke="#000000" stroke-width="1.15" fill="none"/><path d="M729.8 1483.4L739.8 1493.4M739.8 1483.4L729.8 1493.4M734.8 1483.4L734.8 1493.4" stroke="#000000" stroke-width="1.15" fill="none"/><path d="M741.9 1464.3L751.9 1474.3M751.9 1464.3L741.9 1474.3M746.9 1464.3L746.9 1474.3" stroke="#000000" stroke-width="1.15" fill="none"/><path d="M753.9 1454.2L764 1464.2M764 1454.2L753.9 1464.2M759 1454.2L759 1464.2" stroke="#000000" stroke-width="1.15" fill="none"/><path d="M766 1466.6L776.1 1476.6M776.1 1466.6L766 1476.6M771 1466.6L771 1476.6" stroke="#000000" stroke-width="1.15" fill="none"/><path d="M778.1 1458.7L788.2 1468.7M788.2 1458.7L778.1 1468.7M783.1 1458.7L783.1 1468.7" stroke="#000000" stroke-width="1.15" fill="none"/><path d="M790.2 1429.5L800.2 1439.5M800.2 1429.5L790.2 1439.5M795.2 1429.5L795.2 1439.5" stroke="#000000" stroke-width="1.15" fill="none"/><path d="M802.2 1432.9L812.3 1442.9M812.3 1432.9L802.2 1442.9M807.3 1432.9L807.3 1442.9" stroke="#000000" stroke-width="1.15" fill="none"/><path d="M814.3 1437.4L824.4 1447.4M824.4 1437.4L814.3 1447.4M819.4 1437.4L819.4 1447.4" stroke="#000000" stroke-width="1.15" fill="none"/><path d="M826.4 1420.5L836.5 1430.5M836.5 1420.5L826.4 1430.5M831.4 1420.5L831.4 1430.5" stroke="#000000" stroke-width="1.15" fill="none"/><path d="M838.5 1430.6L848.6 1440.6M848.6 1430.6L838.5 1440.6M843.5 1430.6L843.5 1440.6" stroke="#000000" stroke-width="1.15" fill="none"/><path d="M850.6 1434L860.6 1444M860.6 1434L850.6 1444M855.6 1434L855.6 1444" stroke="#000000" stroke-width="1.15" fill="none"/><path d="M862.6 1434L872.7 1444M872.7 1434L862.6 1444M867.7 1434L867.7 1444" stroke="#000000" stroke-width="1.15" fill="none"/><path d="M874.7 1480.1L884.8 1490.1M884.8 1480.1L874.7 1490.1M879.8 1480.1L879.8 1490.1" stroke="#000000" stroke-width="1.15" fill="none"/><path d="M886.8 1468.8L896.9 1478.8M896.9 1468.8L886.8 1478.8M891.8 1468.8L891.8 1478.8" stroke="#000000" stroke-width="1.15" fill="none"/><path d="M898.9 1411.5L909 1421.5M909 1411.5L898.9 1421.5M903.9 1411.5L903.9 1421.5" stroke="#000000" stroke-width="1.15" fill="none"/><path d="M911 1396.9L921 1406.9M921 1396.9L911 1406.9M916 1396.9L916 1406.9" stroke="#000000" stroke-width="1.15" fill="none"/><path d="M923 1377.8L933.1 1387.8M933.1 1377.8L923 1387.8M928.1 1377.8L928.1 1387.8" stroke="#000000" stroke-width="1.15" fill="none"/><path d="M935.1 1387.9L945.2 1397.9M945.2 1387.9L935.1 1397.9M940.2 1387.9L940.2 1397.9" stroke="#000000" stroke-width="1.15" fill="none"/></g><g><path d="M179.1 1523.3L191.2 1362.1M191.2 1362.1L203.3 1357M203.3 1357L215.4 1341.2M215.4 1341.2L227.5 1332.9M227.5 1332.9L239.5 1325.1M239.5 1325.1L251.6 1332.2M251.6 1332.2L263.7 1332.9M263.7 1332.9L275.8 1339.4M275.8 1339.4L287.9 1313.1M287.9 1313.1L299.9 1303M299.9 1303L312 1335.6M312 1335.6L324.1 1369.3M324.1 1369.3L336.2 1376.5M336.2 1376.5L348.3 1414.3M348.3 1414.3L360.3 1470.4M360.3 1470.4L372.4 1425.1M372.4 1425.1L384.5 1461.5M384.5 1461.5L396.6 1480.6M396.6 1480.6L408.7 1477.2M408.7 1477.2L420.7 1482.8M420.7 1482.8L432.8 1483.9M432.8 1483.9L444.9 1451.3M444.9 1451.3L457 1430.7M457 1430.7L469.1 1422.1M469.1 1422.1L481.1 1444.2M481.1 1444.2L493.2 1474.5M493.2 1474.5L505.3 1463.3M505.3 1463.3L517.4 1442.4M517.4 1442.4L529.5 1431.6M529.5 1431.6L541.5 1439M541.5 1439L553.6 1414.3M553.6 1414.3L565.7 1416.1M565.7 1416.1L577.8 1403.7M577.8 1403.7L589.8 1440.1M589.8 1440.1L601.9 1376.1M601.9 1376.1L614 1366M614 1366L626.1 1352.5M626.1 1352.5L638.2 1345.7M638.2 1345.7L650.2 1364.8M650.2 1364.8L662.3 1378.3M662.3 1378.3L674.4 1350.2M674.4 1350.2L686.5 1461.5M686.5 1461.5L698.6 1473.1M698.6 1473.1L710.6 1507.5M710.6 1507.5L722.7 1480.6M722.7 1480.6L734.8 1456.5M734.8 1456.5L746.9 1449.1M746.9 1449.1L759 1448M759 1448L771 1443.5M771 1443.5L783.1 1436.7M783.1 1436.7L795.2 1427.3M795.2 1427.3L807.3 1410.9M807.3 1410.9L819.4 1433.4M819.4 1433.4L831.4 1445.7M831.4 1445.7L843.5 1407.5M843.5 1407.5L855.6 1416.5M855.6 1416.5L867.7 1408.7M867.7 1408.7L879.8 1457M879.8 1457L891.8 1442.4M891.8 1442.4L903.9 1409.8M903.9 1409.8L916 1352.5M916 1352.5L928.1 1330M928.1 1330L940.2 1346.9" fill="none" stroke="#000000" stroke-width="3.9" stroke-dasharray="31 11" stroke-linejoin="round" stroke-linecap="butt"/><ellipse cx="179.1" cy="1523.3" rx="5.8" ry="6" fill="#000000"/><ellipse cx="191.2" cy="1362.1" rx="5.8" ry="6" fill="#000000"/><ellipse cx="203.3" cy="1357" rx="5.8" ry="6" fill="#000000"/><ellipse cx="215.4" cy="1341.2" rx="5.8" ry="6" fill="#000000"/><ellipse cx="227.5" cy="1332.9" rx="5.8" ry="6" fill="#000000"/><ellipse cx="239.5" cy="1325.1" rx="5.8" ry="6" fill="#000000"/><ellipse cx="251.6" cy="1332.2" rx="5.8" ry="6" fill="#000000"/><ellipse cx="263.7" cy="1332.9" rx="5.8" ry="6" fill="#000000"/><ellipse cx="275.8" cy="1339.4" rx="5.8" ry="6" fill="#000000"/><ellipse cx="287.9" cy="1313.1" rx="5.8" ry="6" fill="#000000"/><ellipse cx="299.9" cy="1303" rx="5.8" ry="6" fill="#000000"/><ellipse cx="312" cy="1335.6" rx="5.8" ry="6" fill="#000000"/><ellipse cx="324.1" cy="1369.3" rx="5.8" ry="6" fill="#000000"/><ellipse cx="336.2" cy="1376.5" rx="5.8" ry="6" fill="#000000"/><ellipse cx="348.3" cy="1414.3" rx="5.8" ry="6" fill="#000000"/><ellipse cx="360.3" cy="1470.4" rx="5.8" ry="6" fill="#000000"/><ellipse cx="372.4" cy="1425.1" rx="5.8" ry="6" fill="#000000"/><ellipse cx="384.5" cy="1461.5" rx="5.8" ry="6" fill="#000000"/><ellipse cx="396.6" cy="1480.6" rx="5.8" ry="6" fill="#000000"/><ellipse cx="408.7" cy="1477.2" rx="5.8" ry="6" fill="#000000"/><ellipse cx="420.7" cy="1482.8" rx="5.8" ry="6" fill="#000000"/><ellipse cx="432.8" cy="1483.9" rx="5.8" ry="6" fill="#000000"/><ellipse cx="444.9" cy="1451.3" rx="5.8" ry="6" fill="#000000"/><ellipse cx="457" cy="1430.7" rx="5.8" ry="6" fill="#000000"/><ellipse cx="469.1" cy="1422.1" rx="5.8" ry="6" fill="#000000"/><ellipse cx="481.1" cy="1444.2" rx="5.8" ry="6" fill="#000000"/><ellipse cx="493.2" cy="1474.5" rx="5.8" ry="6" fill="#000000"/><ellipse cx="505.3" cy="1463.3" rx="5.8" ry="6" fill="#000000"/><ellipse cx="517.4" cy="1442.4" rx="5.8" ry="6" fill="#000000"/><ellipse cx="529.5" cy="1431.6" rx="5.8" ry="6" fill="#000000"/><ellipse cx="541.5" cy="1439" rx="5.8" ry="6" fill="#000000"/><ellipse cx="553.6" cy="1414.3" rx="5.8" ry="6" fill="#000000"/><ellipse cx="565.7" cy="1416.1" rx="5.8" ry="6" fill="#000000"/><ellipse cx="577.8" cy="1403.7" rx="5.8" ry="6" fill="#000000"/><ellipse cx="589.8" cy="1440.1" rx="5.8" ry="6" fill="#000000"/><ellipse cx="601.9" cy="1376.1" rx="5.8" ry="6" fill="#000000"/><ellipse cx="614" cy="1366" rx="5.8" ry="6" fill="#000000"/><ellipse cx="626.1" cy="1352.5" rx="5.8" ry="6" fill="#000000"/><ellipse cx="638.2" cy="1345.7" rx="5.8" ry="6" fill="#000000"/><ellipse cx="650.2" cy="1364.8" rx="5.8" ry="6" fill="#000000"/><ellipse cx="662.3" cy="1378.3" rx="5.8" ry="6" fill="#000000"/><ellipse cx="674.4" cy="1350.2" rx="5.8" ry="6" fill="#000000"/><ellipse cx="686.5" cy="1461.5" rx="5.8" ry="6" fill="#000000"/><ellipse cx="698.6" cy="1473.1" rx="5.8" ry="6" fill="#000000"/><ellipse cx="710.6" cy="1507.5" rx="5.8" ry="6" fill="#000000"/><ellipse cx="722.7" cy="1480.6" rx="5.8" ry="6" fill="#000000"/><ellipse cx="734.8" cy="1456.5" rx="5.8" ry="6" fill="#000000"/><ellipse cx="746.9" cy="1449.1" rx="5.8" ry="6" fill="#000000"/><ellipse cx="759" cy="1448" rx="5.8" ry="6" fill="#000000"/><ellipse cx="771" cy="1443.5" rx="5.8" ry="6" fill="#000000"/><ellipse cx="783.1" cy="1436.7" rx="5.8" ry="6" fill="#000000"/><ellipse cx="795.2" cy="1427.3" rx="5.8" ry="6" fill="#000000"/><ellipse cx="807.3" cy="1410.9" rx="5.8" ry="6" fill="#000000"/><ellipse cx="819.4" cy="1433.4" rx="5.8" ry="6" fill="#000000"/><ellipse cx="831.4" cy="1445.7" rx="5.8" ry="6" fill="#000000"/><ellipse cx="843.5" cy="1407.5" rx="5.8" ry="6" fill="#000000"/><ellipse cx="855.6" cy="1416.5" rx="5.8" ry="6" fill="#000000"/><ellipse cx="867.7" cy="1408.7" rx="5.8" ry="6" fill="#000000"/><ellipse cx="879.8" cy="1457" rx="5.8" ry="6" fill="#000000"/><ellipse cx="891.8" cy="1442.4" rx="5.8" ry="6" fill="#000000"/><ellipse cx="903.9" cy="1409.8" rx="5.8" ry="6" fill="#000000"/><ellipse cx="916" cy="1352.5" rx="5.8" ry="6" fill="#000000"/><ellipse cx="928.1" cy="1330" rx="5.8" ry="6" fill="#000000"/><ellipse cx="940.2" cy="1346.9" rx="5.8" ry="6" fill="#000000"/></g></g>
<g id="chartF"><path d="M1100.4 1233.2V1647.2M1100.4 1646.2V1655.7M1171.1 1646.2V1655.7M1241.9 1646.2V1655.7M1312.6 1646.2V1655.7M1383.3 1646.2V1655.7M1454.1 1646.2V1655.7M1524.8 1646.2V1655.7M1595.6 1646.2V1655.7M1666.3 1646.2V1655.7M1737 1646.2V1655.7M1807.8 1646.2V1655.7M1878.5 1646.2V1655.7" stroke="#505050" stroke-width="1.6" fill="none"/><path d="M1099.4 1647.2H1879.5M1091.4 1233.2H1100.4M1091.4 1292.3H1100.4M1091.4 1351.5H1100.4M1091.4 1410.6H1100.4M1091.4 1469.8H1100.4M1091.4 1528.9H1100.4M1091.4 1588.1H1100.4M1091.4 1647.2H1100.4" stroke="#3c3c3c" stroke-width="1.4" fill="none"/><g fill="#000"><text transform="translate(1077.6 1246.4) scale(0.855 1)" font-size="29.5" text-anchor="end">70</text><text transform="translate(1077.6 1305.54) scale(0.855 1)" font-size="29.5" text-anchor="end">60</text><text transform="translate(1077.6 1364.69) scale(0.855 1)" font-size="29.5" text-anchor="end">50</text><text transform="translate(1077.6 1423.83) scale(0.855 1)" font-size="29.5" text-anchor="end">40</text><text transform="translate(1077.6 1482.97) scale(0.855 1)" font-size="29.5" text-anchor="end">30</text><text transform="translate(1077.6 1542.11) scale(0.855 1)" font-size="29.5" text-anchor="end">20</text><text transform="translate(1077.6 1601.26) scale(0.855 1)" font-size="29.5" text-anchor="end">10</text><text transform="translate(1077.6 1660.4) scale(0.855 1)" font-size="29.5" text-anchor="end">0</text><text transform="translate(1136.07 1702) scale(0.855 1)" font-size="29.5" text-anchor="middle">0</text><text transform="translate(1206.8 1702) scale(0.855 1)" font-size="29.5" text-anchor="middle">2</text><text transform="translate(1277.54 1702) scale(0.855 1)" font-size="29.5" text-anchor="middle">3</text><text transform="translate(1348.28 1702) scale(0.855 1)" font-size="29.5" text-anchor="middle">8</text><text transform="translate(1419.01 1702) scale(0.855 1)" font-size="29.5" text-anchor="middle">11</text><text transform="translate(1489.75 1702) scale(0.855 1)" font-size="29.5" text-anchor="middle">16</text><text transform="translate(1560.49 1702) scale(0.855 1)" font-size="29.5" text-anchor="middle">19</text><text transform="translate(1631.22 1702) scale(0.855 1)" font-size="29.5" text-anchor="middle">35</text><text transform="translate(1701.96 1702) scale(0.855 1)" font-size="29.5" text-anchor="middle">36</text><text transform="translate(1772.7 1702) scale(0.855 1)" font-size="29.5" text-anchor="middle">55</text><text transform="translate(1843.43 1702) scale(0.855 1)" font-size="29.5" text-anchor="middle">63</text></g><text transform="translate(1028.6 1441) rotate(-90) scale(1.165 1)" font-size="24.5" text-anchor="middle" font-weight="bold" xml:space="preserve">Transparency  (cm)</text><text transform="translate(1765 1297.3)" font-size="42" text-anchor="middle" font-family="'Liberation Serif', serif">F</text><text transform="translate(1490 1752.5) scale(0.982 1)" font-size="26.2" text-anchor="middle" font-weight="bold">Culture time (days)</text><g><path d="M1135.8 1268.1L1206.5 1268.1M1206.5 1268.1L1277.2 1472.7M1277.2 1472.7L1348 1563.7M1348 1563.7L1418.7 1566.1M1418.7 1566.1L1489.5 1573.8M1489.5 1573.8L1560.2 1533M1560.2 1533L1630.9 1533M1630.9 1533L1701.7 1542.4M1701.7 1542.4L1772.4 1602.2M1772.4 1602.2L1843.1 1605.7" fill="none" stroke="#595959" stroke-width="3.3" stroke-dasharray="0.01 7.9" stroke-linejoin="round" stroke-linecap="round"/><path d="M1135.8 1261.6L1141.9 1268.1L1135.8 1274.6L1129.6 1268.1Z" fill="#595959"/><path d="M1206.5 1261.6L1212.6 1268.1L1206.5 1274.6L1200.4 1268.1Z" fill="#595959"/><path d="M1277.2 1466.2L1283.4 1472.7L1277.2 1479.2L1271.1 1472.7Z" fill="#595959"/><path d="M1348 1557.2L1354.1 1563.7L1348 1570.2L1341.8 1563.7Z" fill="#595959"/><path d="M1418.7 1559.6L1424.9 1566.1L1418.7 1572.6L1412.6 1566.1Z" fill="#595959"/><path d="M1489.5 1567.3L1495.6 1573.8L1489.5 1580.3L1483.3 1573.8Z" fill="#595959"/><path d="M1560.2 1526.5L1566.3 1533L1560.2 1539.5L1554 1533Z" fill="#595959"/><path d="M1630.9 1526.5L1637.1 1533L1630.9 1539.5L1624.8 1533Z" fill="#595959"/><path d="M1701.7 1535.9L1707.8 1542.4L1701.7 1548.9L1695.5 1542.4Z" fill="#595959"/><path d="M1772.4 1595.7L1778.5 1602.2L1772.4 1608.7L1766.3 1602.2Z" fill="#595959"/><path d="M1843.1 1599.2L1849.3 1605.7L1843.1 1612.2L1837 1605.7Z" fill="#595959"/></g><g><path d="M1135.8 1268.1L1206.5 1285.9M1206.5 1285.9L1277.2 1497.5M1277.2 1497.5L1348 1579.1M1348 1579.1L1418.7 1587.4M1418.7 1587.4L1489.5 1589.2M1489.5 1589.2L1560.2 1562.5M1560.2 1562.5L1630.9 1569.6M1630.9 1569.6L1701.7 1581.5M1701.7 1581.5L1772.4 1622.9M1772.4 1622.9L1843.1 1615.2" fill="none" stroke="#a0a0a0" stroke-width="2.3" stroke-dasharray="10 6" stroke-linejoin="round" stroke-linecap="butt"/><rect x="1130.3" y="1262.4" width="11" height="11.3" fill="#a0a0a0"/><rect x="1201" y="1280.2" width="11" height="11.3" fill="#a0a0a0"/><rect x="1271.8" y="1491.8" width="11" height="11.3" fill="#a0a0a0"/><rect x="1342.5" y="1573.4" width="11" height="11.3" fill="#a0a0a0"/><rect x="1413.2" y="1581.7" width="11" height="11.3" fill="#a0a0a0"/><rect x="1484" y="1583.5" width="11" height="11.3" fill="#a0a0a0"/><rect x="1554.7" y="1556.8" width="11" height="11.3" fill="#a0a0a0"/><rect x="1625.4" y="1563.9" width="11" height="11.3" fill="#a0a0a0"/><rect x="1696.2" y="1575.8" width="11" height="11.3" fill="#a0a0a0"/><rect x="1766.9" y="1617.2" width="11" height="11.3" fill="#a0a0a0"/><rect x="1837.6" y="1609.5" width="11" height="11.3" fill="#a0a0a0"/></g><g><path d="M1135.8 1268.1L1206.5 1268.1L1277.2 1448.4L1348 1554.9L1418.7 1536.5L1489.5 1512.9L1560.2 1442.5L1630.9 1531.8L1701.7 1547.8L1772.4 1588L1843.1 1577.9" fill="none" stroke="#858585" stroke-width="2.4" stroke-linejoin="round" stroke-linecap="butt"/><path d="M1135.8 1262.2L1141.5 1274L1130 1274Z" fill="#858585"/><path d="M1206.5 1262.2L1212.3 1274L1200.7 1274Z" fill="#858585"/><path d="M1277.2 1442.5L1283 1454.3L1271.5 1454.3Z" fill="#858585"/><path d="M1348 1549L1353.7 1560.8L1342.2 1560.8Z" fill="#858585"/><path d="M1418.7 1530.6L1424.5 1542.4L1412.9 1542.4Z" fill="#858585"/><path d="M1489.5 1507L1495.2 1518.8L1483.7 1518.8Z" fill="#858585"/><path d="M1560.2 1436.6L1566 1448.4L1554.4 1448.4Z" fill="#858585"/><path d="M1630.9 1525.9L1636.7 1537.7L1625.2 1537.7Z" fill="#858585"/><path d="M1701.7 1541.9L1707.4 1553.7L1695.9 1553.7Z" fill="#858585"/><path d="M1772.4 1582.1L1778.2 1593.9L1766.6 1593.9Z" fill="#858585"/><path d="M1843.1 1572L1848.9 1583.8L1837.4 1583.8Z" fill="#858585"/></g><g><path d="M1135.8 1268.1L1206.5 1268.1M1206.5 1268.1L1277.2 1505.2M1277.2 1505.2L1348 1557.8M1348 1557.8L1418.7 1569.6M1418.7 1569.6L1489.5 1565.5M1489.5 1565.5L1560.2 1491M1560.2 1491L1630.9 1560.2M1630.9 1560.2L1701.7 1573.2M1701.7 1573.2L1772.4 1605.1M1772.4 1605.1L1843.1 1601.6" fill="none" stroke="#4a4a4a" stroke-width="2.8" stroke-dasharray="20 10" stroke-linejoin="round" stroke-linecap="butt"/><path d="M1130.8 1263.2L1140.7 1273M1140.7 1263.2L1130.8 1273" stroke="#4a4a4a" stroke-width="1.15" fill="none"/><path d="M1201.6 1263.2L1211.4 1273M1211.4 1263.2L1201.6 1273" stroke="#4a4a4a" stroke-width="1.15" fill="none"/><path d="M1272.3 1500.3L1282.2 1510.1M1282.2 1500.3L1272.3 1510.1" stroke="#4a4a4a" stroke-width="1.15" fill="none"/><path d="M1343 1552.9L1352.9 1562.7M1352.9 1552.9L1343 1562.7" stroke="#4a4a4a" stroke-width="1.15" fill="none"/><path d="M1413.8 1564.7L1423.6 1574.5M1423.6 1564.7L1413.8 1574.5" stroke="#4a4a4a" stroke-width="1.15" fill="none"/><path d="M1484.5 1560.6L1494.4 1570.4M1494.4 1560.6L1484.5 1570.4" stroke="#4a4a4a" stroke-width="1.15" fill="none"/><path d="M1555.3 1486.1L1565.1 1495.9M1565.1 1486.1L1555.3 1495.9" stroke="#4a4a4a" stroke-width="1.15" fill="none"/><path d="M1626 1555.3L1635.9 1565.1M1635.9 1555.3L1626 1565.1" stroke="#4a4a4a" stroke-width="1.15" fill="none"/><path d="M1696.7 1568.3L1706.6 1578.1M1706.6 1568.3L1696.7 1578.1" stroke="#4a4a4a" stroke-width="1.15" fill="none"/><path d="M1767.5 1600.2L1777.3 1610M1777.3 1600.2L1767.5 1610" stroke="#4a4a4a" stroke-width="1.15" fill="none"/><path d="M1838.2 1596.7L1848.1 1606.5M1848.1 1596.7L1838.2 1606.5" stroke="#4a4a4a" stroke-width="1.15" fill="none"/></g><g><path d="M1135.8 1268.1L1206.5 1268.1L1277.2 1368L1348 1543L1418.7 1488.6L1489.5 1472.1L1560.2 1399.4L1630.9 1476.2L1701.7 1500.5L1772.4 1495.7L1843.1 1486.9" fill="none" stroke="#000000" stroke-width="3" stroke-linejoin="round" stroke-linecap="butt"/><path d="M1130.8 1263.2L1140.7 1273M1140.7 1263.2L1130.8 1273M1135.8 1263.2L1135.8 1273" stroke="#000000" stroke-width="1.15" fill="none"/><path d="M1201.6 1263.2L1211.4 1273M1211.4 1263.2L1201.6 1273M1206.5 1263.2L1206.5 1273" stroke="#000000" stroke-width="1.15" fill="none"/><path d="M1272.3 1363.1L1282.2 1372.9M1282.2 1363.1L1272.3 1372.9M1277.2 1363.1L1277.2 1372.9" stroke="#000000" stroke-width="1.15" fill="none"/><path d="M1343 1538.1L1352.9 1547.9M1352.9 1538.1L1343 1547.9M1348 1538.1L1348 1547.9" stroke="#000000" stroke-width="1.15" fill="none"/><path d="M1413.8 1483.7L1423.6 1493.5M1423.6 1483.7L1413.8 1493.5M1418.7 1483.7L1418.7 1493.5" stroke="#000000" stroke-width="1.15" fill="none"/><path d="M1484.5 1467.2L1494.4 1477M1494.4 1467.2L1484.5 1477M1489.5 1467.2L1489.5 1477" stroke="#000000" stroke-width="1.15" fill="none"/><path d="M1555.3 1394.5L1565.1 1404.3M1565.1 1394.5L1555.3 1404.3M1560.2 1394.5L1560.2 1404.3" stroke="#000000" stroke-width="1.15" fill="none"/><path d="M1626 1471.3L1635.9 1481.1M1635.9 1471.3L1626 1481.1M1630.9 1471.3L1630.9 1481.1" stroke="#000000" stroke-width="1.15" fill="none"/><path d="M1696.7 1495.6L1706.6 1505.4M1706.6 1495.6L1696.7 1505.4M1701.7 1495.6L1701.7 1505.4" stroke="#000000" stroke-width="1.15" fill="none"/><path d="M1767.5 1490.8L1777.3 1500.6M1777.3 1490.8L1767.5 1500.6M1772.4 1490.8L1772.4 1500.6" stroke="#000000" stroke-width="1.15" fill="none"/><path d="M1838.2 1482L1848.1 1491.8M1848.1 1482L1838.2 1491.8M1843.1 1482L1843.1 1491.8" stroke="#000000" stroke-width="1.15" fill="none"/></g><g><path d="M1135.8 1268.1L1206.5 1268.1M1206.5 1268.1L1277.2 1421.3M1277.2 1421.3L1348 1544.8M1348 1544.8L1418.7 1522.3M1418.7 1522.3L1489.5 1541.3M1489.5 1541.3L1560.2 1460.3M1560.2 1460.3L1630.9 1524.1M1630.9 1524.1L1701.7 1532.4M1701.7 1532.4L1772.4 1576.7M1772.4 1576.7L1843.1 1562.5" fill="none" stroke="#000000" stroke-width="3.4" stroke-dasharray="31 15" stroke-linejoin="round" stroke-linecap="butt"/><ellipse cx="1135.8" cy="1268.1" rx="5.7" ry="5.9" fill="#000000"/><ellipse cx="1206.5" cy="1268.1" rx="5.7" ry="5.9" fill="#000000"/><ellipse cx="1277.2" cy="1421.3" rx="5.7" ry="5.9" fill="#000000"/><ellipse cx="1348" cy="1544.8" rx="5.7" ry="5.9" fill="#000000"/><ellipse cx="1418.7" cy="1522.3" rx="5.7" ry="5.9" fill="#000000"/><ellipse cx="1489.5" cy="1541.3" rx="5.7" ry="5.9" fill="#000000"/><ellipse cx="1560.2" cy="1460.3" rx="5.7" ry="5.9" fill="#000000"/><ellipse cx="1630.9" cy="1524.1" rx="5.7" ry="5.9" fill="#000000"/><ellipse cx="1701.7" cy="1532.4" rx="5.7" ry="5.9" fill="#000000"/><ellipse cx="1772.4" cy="1576.7" rx="5.7" ry="5.9" fill="#000000"/><ellipse cx="1843.1" cy="1562.5" rx="5.7" ry="5.9" fill="#000000"/></g></g>
</svg>
</div>
</body></html>
